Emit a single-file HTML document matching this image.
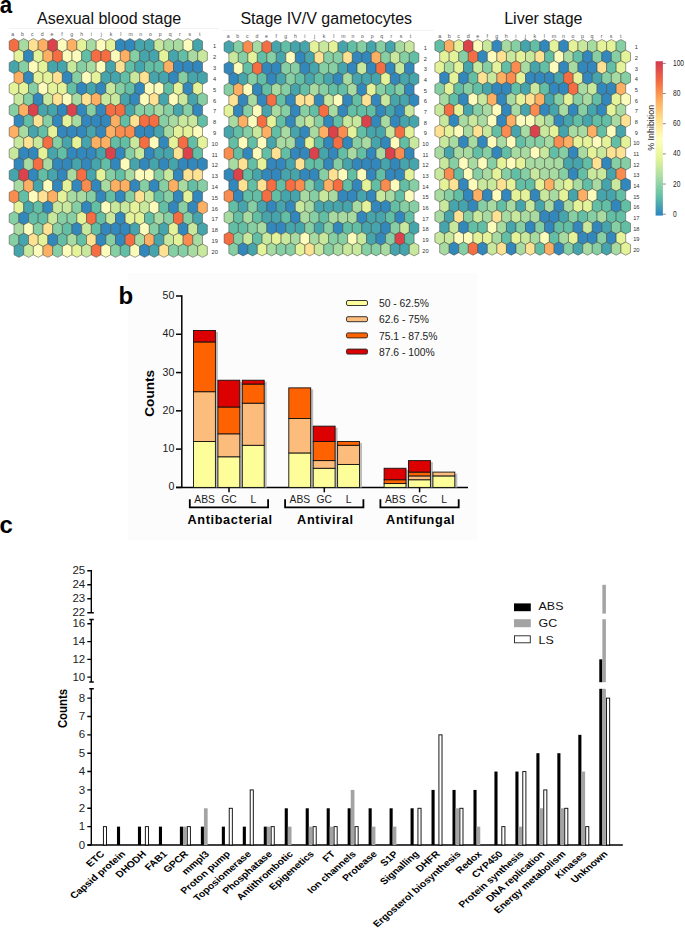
<!DOCTYPE html>
<html><head><meta charset="utf-8"><title>Figure</title>
<style>
html,body{margin:0;padding:0;background:#fff;}
body{width:685px;height:932px;overflow:hidden;}
svg{display:block;font-family:'Liberation Sans', sans-serif;}
</style></head>
<body>
<svg width="685" height="932" viewBox="0 0 685 932">
<rect width="685" height="932" fill="#fff"/>
<rect x="128.2" y="273" width="348.7" height="267" fill="#fcfcfc"/>
<line x1="9" x2="219" y1="28.5" y2="28.5" stroke="#efefef" stroke-width="0.8"/>
<line x1="222.6" x2="434" y1="30.4" y2="30.4" stroke="#efefef" stroke-width="0.8"/>
<g stroke="#45453c" stroke-width="0.65" stroke-opacity="0.8"><path d="M14.03,38.60 18.86,41.15 18.86,49.41 14.03,51.96 9.20,49.41 9.20,41.15Z" fill="#f46d43"/><path d="M23.70,38.60 28.53,41.15 28.53,49.41 23.70,51.96 18.86,49.41 18.86,41.15Z" fill="#a8dba2"/><path d="M33.36,38.60 38.19,41.15 38.19,49.41 33.36,51.96 28.53,49.41 28.53,41.15Z" fill="#fee293"/><path d="M43.03,38.60 47.86,41.15 47.86,49.41 43.03,51.96 38.19,49.41 38.19,41.15Z" fill="#fdb063"/><path d="M52.69,38.60 57.52,41.15 57.52,49.41 52.69,51.96 47.86,49.41 47.86,41.15Z" fill="#da434c"/><path d="M62.36,38.60 67.19,41.15 67.19,49.41 62.36,51.96 57.52,49.41 57.52,41.15Z" fill="#fbfbbc"/><path d="M72.02,38.60 76.85,41.15 76.85,49.41 72.02,51.96 67.19,49.41 67.19,41.15Z" fill="#fdb063"/><path d="M81.69,38.60 86.52,41.15 86.52,49.41 81.69,51.96 76.86,49.41 76.86,41.15Z" fill="#e4f39a"/><path d="M91.35,38.60 96.19,41.15 96.19,49.41 91.35,51.96 86.52,49.41 86.52,41.15Z" fill="#a8dba2"/><path d="M101.02,38.60 105.85,41.15 105.85,49.41 101.02,51.96 96.18,49.41 96.18,41.15Z" fill="#fbfbbc"/><path d="M110.68,38.60 115.51,41.15 115.51,49.41 110.68,51.96 105.85,49.41 105.85,41.15Z" fill="#e4f39a"/><path d="M120.35,38.60 125.18,41.15 125.18,49.41 120.35,51.96 115.52,49.41 115.52,41.15Z" fill="#3288bd"/><path d="M130.01,38.60 134.84,41.15 134.84,49.41 130.01,51.96 125.18,49.41 125.18,41.15Z" fill="#3288bd"/><path d="M139.68,38.60 144.51,41.15 144.51,49.41 139.68,51.96 134.84,49.41 134.84,41.15Z" fill="#46a5ac"/><path d="M149.34,38.60 154.17,41.15 154.17,49.41 149.34,51.96 144.51,49.41 144.51,41.15Z" fill="#46a5ac"/><path d="M159.01,38.60 163.84,41.15 163.84,49.41 159.01,51.96 154.17,49.41 154.17,41.15Z" fill="#c8e89d"/><path d="M168.67,38.60 173.50,41.15 173.50,49.41 168.67,51.96 163.84,49.41 163.84,41.15Z" fill="#a8dba2"/><path d="M178.34,38.60 183.17,41.15 183.17,49.41 178.34,51.96 173.50,49.41 173.50,41.15Z" fill="#a8dba2"/><path d="M188.00,38.60 192.83,41.15 192.83,49.41 188.00,51.96 183.17,49.41 183.17,41.15Z" fill="#fbfbbc"/><path d="M197.67,38.60 202.50,41.15 202.50,49.41 197.67,51.96 192.83,49.41 192.83,41.15Z" fill="#46a5ac"/><path d="M18.86,49.41 23.70,51.96 23.70,60.22 18.86,62.77 14.03,60.22 14.03,51.96Z" fill="#e4f39a"/><path d="M28.53,49.41 33.36,51.96 33.36,60.22 28.53,62.77 23.70,60.22 23.70,51.96Z" fill="#3288bd"/><path d="M38.19,49.41 43.03,51.96 43.03,60.22 38.19,62.77 33.36,60.22 33.36,51.96Z" fill="#e4f39a"/><path d="M47.86,49.41 52.69,51.96 52.69,60.22 47.86,62.77 43.03,60.22 43.03,51.96Z" fill="#fdb063"/><path d="M57.52,49.41 62.36,51.96 62.36,60.22 57.52,62.77 52.69,60.22 52.69,51.96Z" fill="#f46d43"/><path d="M67.19,49.41 72.02,51.96 72.02,60.22 67.19,62.77 62.36,60.22 62.36,51.96Z" fill="#fbfbbc"/><path d="M76.85,49.41 81.69,51.96 81.69,60.22 76.85,62.77 72.02,60.22 72.02,51.96Z" fill="#fbfbbc"/><path d="M86.52,49.41 91.35,51.96 91.35,60.22 86.52,62.77 81.69,60.22 81.69,51.96Z" fill="#62bea5"/><path d="M96.18,49.41 101.02,51.96 101.02,60.22 96.18,62.77 91.35,60.22 91.35,51.96Z" fill="#f46d43"/><path d="M105.85,49.41 110.68,51.96 110.68,60.22 105.85,62.77 101.02,60.22 101.02,51.96Z" fill="#f46d43"/><path d="M115.51,49.41 120.35,51.96 120.35,60.22 115.51,62.77 110.68,60.22 110.68,51.96Z" fill="#fbfbbc"/><path d="M125.18,49.41 130.01,51.96 130.01,60.22 125.18,62.77 120.35,60.22 120.35,51.96Z" fill="#fdb063"/><path d="M134.84,49.41 139.68,51.96 139.68,60.22 134.84,62.77 130.01,60.22 130.01,51.96Z" fill="#86cfa4"/><path d="M144.51,49.41 149.34,51.96 149.34,60.22 144.51,62.77 139.68,60.22 139.68,51.96Z" fill="#46a5ac"/><path d="M154.18,49.41 159.01,51.96 159.01,60.22 154.18,62.77 149.34,60.22 149.34,51.96Z" fill="#46a5ac"/><path d="M163.84,49.41 168.67,51.96 168.67,60.22 163.84,62.77 159.01,60.22 159.01,51.96Z" fill="#e4f39a"/><path d="M173.50,49.41 178.34,51.96 178.34,60.22 173.50,62.77 168.67,60.22 168.67,51.96Z" fill="#46a5ac"/><path d="M183.17,49.41 188.00,51.96 188.00,60.22 183.17,62.77 178.34,60.22 178.34,51.96Z" fill="#62bea5"/><path d="M192.83,49.41 197.67,51.96 197.67,60.22 192.83,62.77 188.00,60.22 188.00,51.96Z" fill="#a8dba2"/><path d="M202.50,49.41 207.33,51.96 207.33,60.22 202.50,62.77 197.67,60.22 197.67,51.96Z" fill="#c8e89d"/><path d="M14.03,60.22 18.86,62.77 18.86,71.03 14.03,73.58 9.20,71.03 9.20,62.77Z" fill="#46a5ac"/><path d="M23.70,60.22 28.53,62.77 28.53,71.03 23.70,73.58 18.86,71.03 18.86,62.77Z" fill="#86cfa4"/><path d="M33.36,60.22 38.19,62.77 38.19,71.03 33.36,73.58 28.53,71.03 28.53,62.77Z" fill="#fbfbbc"/><path d="M43.03,60.22 47.86,62.77 47.86,71.03 43.03,73.58 38.19,71.03 38.19,62.77Z" fill="#e4f39a"/><path d="M52.69,60.22 57.52,62.77 57.52,71.03 52.69,73.58 47.86,71.03 47.86,62.77Z" fill="#46a5ac"/><path d="M62.36,60.22 67.19,62.77 67.19,71.03 62.36,73.58 57.52,71.03 57.52,62.77Z" fill="#46a5ac"/><path d="M72.02,60.22 76.85,62.77 76.85,71.03 72.02,73.58 67.19,71.03 67.19,62.77Z" fill="#c8e89d"/><path d="M81.69,60.22 86.52,62.77 86.52,71.03 81.69,73.58 76.86,71.03 76.86,62.77Z" fill="#86cfa4"/><path d="M91.35,60.22 96.19,62.77 96.19,71.03 91.35,73.58 86.52,71.03 86.52,62.77Z" fill="#a8dba2"/><path d="M101.02,60.22 105.85,62.77 105.85,71.03 101.02,73.58 96.18,71.03 96.18,62.77Z" fill="#fbfbbc"/><path d="M110.68,60.22 115.51,62.77 115.51,71.03 110.68,73.58 105.85,71.03 105.85,62.77Z" fill="#46a5ac"/><path d="M120.35,60.22 125.18,62.77 125.18,71.03 120.35,73.58 115.52,71.03 115.52,62.77Z" fill="#fee293"/><path d="M130.01,60.22 134.84,62.77 134.84,71.03 130.01,73.58 125.18,71.03 125.18,62.77Z" fill="#62bea5"/><path d="M139.68,60.22 144.51,62.77 144.51,71.03 139.68,73.58 134.84,71.03 134.84,62.77Z" fill="#46a5ac"/><path d="M149.34,60.22 154.17,62.77 154.17,71.03 149.34,73.58 144.51,71.03 144.51,62.77Z" fill="#62bea5"/><path d="M159.01,60.22 163.84,62.77 163.84,71.03 159.01,73.58 154.17,71.03 154.17,62.77Z" fill="#62bea5"/><path d="M168.67,60.22 173.50,62.77 173.50,71.03 168.67,73.58 163.84,71.03 163.84,62.77Z" fill="#fdb063"/><path d="M178.34,60.22 183.17,62.77 183.17,71.03 178.34,73.58 173.50,71.03 173.50,62.77Z" fill="#3288bd"/><path d="M188.00,60.22 192.83,62.77 192.83,71.03 188.00,73.58 183.17,71.03 183.17,62.77Z" fill="#3288bd"/><path d="M197.67,60.22 202.50,62.77 202.50,71.03 197.67,73.58 192.83,71.03 192.83,62.77Z" fill="#3288bd"/><path d="M18.86,71.03 23.70,73.58 23.70,81.84 18.86,84.39 14.03,81.84 14.03,73.58Z" fill="#fdb063"/><path d="M28.53,71.03 33.36,73.58 33.36,81.84 28.53,84.39 23.70,81.84 23.70,73.58Z" fill="#3288bd"/><path d="M38.19,71.03 43.03,73.58 43.03,81.84 38.19,84.39 33.36,81.84 33.36,73.58Z" fill="#e4f39a"/><path d="M47.86,71.03 52.69,73.58 52.69,81.84 47.86,84.39 43.03,81.84 43.03,73.58Z" fill="#e4f39a"/><path d="M57.52,71.03 62.36,73.58 62.36,81.84 57.52,84.39 52.69,81.84 52.69,73.58Z" fill="#fee293"/><path d="M67.19,71.03 72.02,73.58 72.02,81.84 67.19,84.39 62.36,81.84 62.36,73.58Z" fill="#3288bd"/><path d="M76.85,71.03 81.69,73.58 81.69,81.84 76.85,84.39 72.02,81.84 72.02,73.58Z" fill="#86cfa4"/><path d="M86.52,71.03 91.35,73.58 91.35,81.84 86.52,84.39 81.69,81.84 81.69,73.58Z" fill="#fbfbbc"/><path d="M96.18,71.03 101.02,73.58 101.02,81.84 96.18,84.39 91.35,81.84 91.35,73.58Z" fill="#e4f39a"/><path d="M105.85,71.03 110.68,73.58 110.68,81.84 105.85,84.39 101.02,81.84 101.02,73.58Z" fill="#46a5ac"/><path d="M115.51,71.03 120.35,73.58 120.35,81.84 115.51,84.39 110.68,81.84 110.68,73.58Z" fill="#46a5ac"/><path d="M125.18,71.03 130.01,73.58 130.01,81.84 125.18,84.39 120.35,81.84 120.35,73.58Z" fill="#62bea5"/><path d="M134.84,71.03 139.68,73.58 139.68,81.84 134.84,84.39 130.01,81.84 130.01,73.58Z" fill="#c8e89d"/><path d="M144.51,71.03 149.34,73.58 149.34,81.84 144.51,84.39 139.68,81.84 139.68,73.58Z" fill="#fee293"/><path d="M154.18,71.03 159.01,73.58 159.01,81.84 154.18,84.39 149.34,81.84 149.34,73.58Z" fill="#46a5ac"/><path d="M163.84,71.03 168.67,73.58 168.67,81.84 163.84,84.39 159.01,81.84 159.01,73.58Z" fill="#46a5ac"/><path d="M173.50,71.03 178.34,73.58 178.34,81.84 173.50,84.39 168.67,81.84 168.67,73.58Z" fill="#3288bd"/><path d="M183.17,71.03 188.00,73.58 188.00,81.84 183.17,84.39 178.34,81.84 178.34,73.58Z" fill="#86cfa4"/><path d="M192.83,71.03 197.67,73.58 197.67,81.84 192.83,84.39 188.00,81.84 188.00,73.58Z" fill="#46a5ac"/><path d="M202.50,71.03 207.33,73.58 207.33,81.84 202.50,84.39 197.67,81.84 197.67,73.58Z" fill="#46a5ac"/><path d="M14.03,81.84 18.86,84.39 18.86,92.65 14.03,95.20 9.20,92.65 9.20,84.39Z" fill="#e4f39a"/><path d="M23.70,81.84 28.53,84.39 28.53,92.65 23.70,95.20 18.86,92.65 18.86,84.39Z" fill="#e4f39a"/><path d="M33.36,81.84 38.19,84.39 38.19,92.65 33.36,95.20 28.53,92.65 28.53,84.39Z" fill="#86cfa4"/><path d="M43.03,81.84 47.86,84.39 47.86,92.65 43.03,95.20 38.19,92.65 38.19,84.39Z" fill="#fbfbbc"/><path d="M52.69,81.84 57.52,84.39 57.52,92.65 52.69,95.20 47.86,92.65 47.86,84.39Z" fill="#e4f39a"/><path d="M62.36,81.84 67.19,84.39 67.19,92.65 62.36,95.20 57.52,92.65 57.52,84.39Z" fill="#e4f39a"/><path d="M72.02,81.84 76.85,84.39 76.85,92.65 72.02,95.20 67.19,92.65 67.19,84.39Z" fill="#62bea5"/><path d="M81.69,81.84 86.52,84.39 86.52,92.65 81.69,95.20 76.86,92.65 76.86,84.39Z" fill="#3288bd"/><path d="M91.35,81.84 96.19,84.39 96.19,92.65 91.35,95.20 86.52,92.65 86.52,84.39Z" fill="#46a5ac"/><path d="M101.02,81.84 105.85,84.39 105.85,92.65 101.02,95.20 96.18,92.65 96.18,84.39Z" fill="#3288bd"/><path d="M110.68,81.84 115.51,84.39 115.51,92.65 110.68,95.20 105.85,92.65 105.85,84.39Z" fill="#c8e89d"/><path d="M120.35,81.84 125.18,84.39 125.18,92.65 120.35,95.20 115.52,92.65 115.52,84.39Z" fill="#86cfa4"/><path d="M130.01,81.84 134.84,84.39 134.84,92.65 130.01,95.20 125.18,92.65 125.18,84.39Z" fill="#62bea5"/><path d="M139.68,81.84 144.51,84.39 144.51,92.65 139.68,95.20 134.84,92.65 134.84,84.39Z" fill="#3288bd"/><path d="M149.34,81.84 154.17,84.39 154.17,92.65 149.34,95.20 144.51,92.65 144.51,84.39Z" fill="#fbfbbc"/><path d="M159.01,81.84 163.84,84.39 163.84,92.65 159.01,95.20 154.17,92.65 154.17,84.39Z" fill="#fbfbbc"/><path d="M168.67,81.84 173.50,84.39 173.50,92.65 168.67,95.20 163.84,92.65 163.84,84.39Z" fill="#62bea5"/><path d="M178.34,81.84 183.17,84.39 183.17,92.65 178.34,95.20 173.50,92.65 173.50,84.39Z" fill="#e4f39a"/><path d="M188.00,81.84 192.83,84.39 192.83,92.65 188.00,95.20 183.17,92.65 183.17,84.39Z" fill="#3288bd"/><path d="M197.67,81.84 202.50,84.39 202.50,92.65 197.67,95.20 192.83,92.65 192.83,84.39Z" fill="#e4f39a"/><path d="M18.86,92.65 23.70,95.20 23.70,103.46 18.86,106.01 14.03,103.46 14.03,95.20Z" fill="#c8e89d"/><path d="M28.53,92.65 33.36,95.20 33.36,103.46 28.53,106.01 23.70,103.46 23.70,95.20Z" fill="#86cfa4"/><path d="M38.19,92.65 43.03,95.20 43.03,103.46 38.19,106.01 33.36,103.46 33.36,95.20Z" fill="#3288bd"/><path d="M47.86,92.65 52.69,95.20 52.69,103.46 47.86,106.01 43.03,103.46 43.03,95.20Z" fill="#c8e89d"/><path d="M57.52,92.65 62.36,95.20 62.36,103.46 57.52,106.01 52.69,103.46 52.69,95.20Z" fill="#fee293"/><path d="M67.19,92.65 72.02,95.20 72.02,103.46 67.19,106.01 62.36,103.46 62.36,95.20Z" fill="#fbfbbc"/><path d="M76.85,92.65 81.69,95.20 81.69,103.46 76.85,106.01 72.02,103.46 72.02,95.20Z" fill="#a8dba2"/><path d="M86.52,92.65 91.35,95.20 91.35,103.46 86.52,106.01 81.69,103.46 81.69,95.20Z" fill="#fee293"/><path d="M96.18,92.65 101.02,95.20 101.02,103.46 96.18,106.01 91.35,103.46 91.35,95.20Z" fill="#fdb063"/><path d="M105.85,92.65 110.68,95.20 110.68,103.46 105.85,106.01 101.02,103.46 101.02,95.20Z" fill="#c8e89d"/><path d="M115.51,92.65 120.35,95.20 120.35,103.46 115.51,106.01 110.68,103.46 110.68,95.20Z" fill="#c8e89d"/><path d="M125.18,92.65 130.01,95.20 130.01,103.46 125.18,106.01 120.35,103.46 120.35,95.20Z" fill="#46a5ac"/><path d="M134.84,92.65 139.68,95.20 139.68,103.46 134.84,106.01 130.01,103.46 130.01,95.20Z" fill="#3288bd"/><path d="M144.51,92.65 149.34,95.20 149.34,103.46 144.51,106.01 139.68,103.46 139.68,95.20Z" fill="#fbfbbc"/><path d="M154.18,92.65 159.01,95.20 159.01,103.46 154.18,106.01 149.34,103.46 149.34,95.20Z" fill="#fee293"/><path d="M163.84,92.65 168.67,95.20 168.67,103.46 163.84,106.01 159.01,103.46 159.01,95.20Z" fill="#46a5ac"/><path d="M173.50,92.65 178.34,95.20 178.34,103.46 173.50,106.01 168.67,103.46 168.67,95.20Z" fill="#fbfbbc"/><path d="M183.17,92.65 188.00,95.20 188.00,103.46 183.17,106.01 178.34,103.46 178.34,95.20Z" fill="#c8e89d"/><path d="M192.83,92.65 197.67,95.20 197.67,103.46 192.83,106.01 188.00,103.46 188.00,95.20Z" fill="#46a5ac"/><path d="M202.50,92.65 207.33,95.20 207.33,103.46 202.50,106.01 197.67,103.46 197.67,95.20Z" fill="#86cfa4"/><path d="M14.03,103.46 18.86,106.01 18.86,114.27 14.03,116.82 9.20,114.27 9.20,106.01Z" fill="#86cfa4"/><path d="M23.70,103.46 28.53,106.01 28.53,114.27 23.70,116.82 18.86,114.27 18.86,106.01Z" fill="#fdb063"/><path d="M33.36,103.46 38.19,106.01 38.19,114.27 33.36,116.82 28.53,114.27 28.53,106.01Z" fill="#da434c"/><path d="M43.03,103.46 47.86,106.01 47.86,114.27 43.03,116.82 38.19,114.27 38.19,106.01Z" fill="#46a5ac"/><path d="M52.69,103.46 57.52,106.01 57.52,114.27 52.69,116.82 47.86,114.27 47.86,106.01Z" fill="#46a5ac"/><path d="M62.36,103.46 67.19,106.01 67.19,114.27 62.36,116.82 57.52,114.27 57.52,106.01Z" fill="#3288bd"/><path d="M72.02,103.46 76.85,106.01 76.85,114.27 72.02,116.82 67.19,114.27 67.19,106.01Z" fill="#da434c"/><path d="M81.69,103.46 86.52,106.01 86.52,114.27 81.69,116.82 76.86,114.27 76.86,106.01Z" fill="#3288bd"/><path d="M91.35,103.46 96.19,106.01 96.19,114.27 91.35,116.82 86.52,114.27 86.52,106.01Z" fill="#86cfa4"/><path d="M101.02,103.46 105.85,106.01 105.85,114.27 101.02,116.82 96.18,114.27 96.18,106.01Z" fill="#3288bd"/><path d="M110.68,103.46 115.51,106.01 115.51,114.27 110.68,116.82 105.85,114.27 105.85,106.01Z" fill="#f46d43"/><path d="M120.35,103.46 125.18,106.01 125.18,114.27 120.35,116.82 115.52,114.27 115.52,106.01Z" fill="#f46d43"/><path d="M130.01,103.46 134.84,106.01 134.84,114.27 130.01,116.82 125.18,114.27 125.18,106.01Z" fill="#46a5ac"/><path d="M139.68,103.46 144.51,106.01 144.51,114.27 139.68,116.82 134.84,114.27 134.84,106.01Z" fill="#86cfa4"/><path d="M149.34,103.46 154.17,106.01 154.17,114.27 149.34,116.82 144.51,114.27 144.51,106.01Z" fill="#86cfa4"/><path d="M159.01,103.46 163.84,106.01 163.84,114.27 159.01,116.82 154.17,114.27 154.17,106.01Z" fill="#a8dba2"/><path d="M168.67,103.46 173.50,106.01 173.50,114.27 168.67,116.82 163.84,114.27 163.84,106.01Z" fill="#86cfa4"/><path d="M178.34,103.46 183.17,106.01 183.17,114.27 178.34,116.82 173.50,114.27 173.50,106.01Z" fill="#46a5ac"/><path d="M188.00,103.46 192.83,106.01 192.83,114.27 188.00,116.82 183.17,114.27 183.17,106.01Z" fill="#86cfa4"/><path d="M197.67,103.46 202.50,106.01 202.50,114.27 197.67,116.82 192.83,114.27 192.83,106.01Z" fill="#3288bd"/><path d="M18.86,114.27 23.70,116.82 23.70,125.08 18.86,127.63 14.03,125.08 14.03,116.82Z" fill="#3288bd"/><path d="M28.53,114.27 33.36,116.82 33.36,125.08 28.53,127.63 23.70,125.08 23.70,116.82Z" fill="#62bea5"/><path d="M38.19,114.27 43.03,116.82 43.03,125.08 38.19,127.63 33.36,125.08 33.36,116.82Z" fill="#fee293"/><path d="M47.86,114.27 52.69,116.82 52.69,125.08 47.86,127.63 43.03,125.08 43.03,116.82Z" fill="#86cfa4"/><path d="M57.52,114.27 62.36,116.82 62.36,125.08 57.52,127.63 52.69,125.08 52.69,116.82Z" fill="#3288bd"/><path d="M67.19,114.27 72.02,116.82 72.02,125.08 67.19,127.63 62.36,125.08 62.36,116.82Z" fill="#e4f39a"/><path d="M76.85,114.27 81.69,116.82 81.69,125.08 76.85,127.63 72.02,125.08 72.02,116.82Z" fill="#a8dba2"/><path d="M86.52,114.27 91.35,116.82 91.35,125.08 86.52,127.63 81.69,125.08 81.69,116.82Z" fill="#3288bd"/><path d="M96.18,114.27 101.02,116.82 101.02,125.08 96.18,127.63 91.35,125.08 91.35,116.82Z" fill="#3288bd"/><path d="M105.85,114.27 110.68,116.82 110.68,125.08 105.85,127.63 101.02,125.08 101.02,116.82Z" fill="#3288bd"/><path d="M115.51,114.27 120.35,116.82 120.35,125.08 115.51,127.63 110.68,125.08 110.68,116.82Z" fill="#fdb063"/><path d="M125.18,114.27 130.01,116.82 130.01,125.08 125.18,127.63 120.35,125.08 120.35,116.82Z" fill="#62bea5"/><path d="M134.84,114.27 139.68,116.82 139.68,125.08 134.84,127.63 130.01,125.08 130.01,116.82Z" fill="#fee293"/><path d="M144.51,114.27 149.34,116.82 149.34,125.08 144.51,127.63 139.68,125.08 139.68,116.82Z" fill="#f46d43"/><path d="M154.18,114.27 159.01,116.82 159.01,125.08 154.18,127.63 149.34,125.08 149.34,116.82Z" fill="#f46d43"/><path d="M163.84,114.27 168.67,116.82 168.67,125.08 163.84,127.63 159.01,125.08 159.01,116.82Z" fill="#86cfa4"/><path d="M173.50,114.27 178.34,116.82 178.34,125.08 173.50,127.63 168.67,125.08 168.67,116.82Z" fill="#a8dba2"/><path d="M183.17,114.27 188.00,116.82 188.00,125.08 183.17,127.63 178.34,125.08 178.34,116.82Z" fill="#c8e89d"/><path d="M192.83,114.27 197.67,116.82 197.67,125.08 192.83,127.63 188.00,125.08 188.00,116.82Z" fill="#c8e89d"/><path d="M202.50,114.27 207.33,116.82 207.33,125.08 202.50,127.63 197.67,125.08 197.67,116.82Z" fill="#62bea5"/><path d="M14.03,125.08 18.86,127.63 18.86,135.89 14.03,138.44 9.20,135.89 9.20,127.63Z" fill="#fdb063"/><path d="M23.70,125.08 28.53,127.63 28.53,135.89 23.70,138.44 18.86,135.89 18.86,127.63Z" fill="#a8dba2"/><path d="M33.36,125.08 38.19,127.63 38.19,135.89 33.36,138.44 28.53,135.89 28.53,127.63Z" fill="#46a5ac"/><path d="M43.03,125.08 47.86,127.63 47.86,135.89 43.03,138.44 38.19,135.89 38.19,127.63Z" fill="#62bea5"/><path d="M52.69,125.08 57.52,127.63 57.52,135.89 52.69,138.44 47.86,135.89 47.86,127.63Z" fill="#e4f39a"/><path d="M62.36,125.08 67.19,127.63 67.19,135.89 62.36,138.44 57.52,135.89 57.52,127.63Z" fill="#3288bd"/><path d="M72.02,125.08 76.85,127.63 76.85,135.89 72.02,138.44 67.19,135.89 67.19,127.63Z" fill="#3288bd"/><path d="M81.69,125.08 86.52,127.63 86.52,135.89 81.69,138.44 76.86,135.89 76.86,127.63Z" fill="#3288bd"/><path d="M91.35,125.08 96.19,127.63 96.19,135.89 91.35,138.44 86.52,135.89 86.52,127.63Z" fill="#46a5ac"/><path d="M101.02,125.08 105.85,127.63 105.85,135.89 101.02,138.44 96.18,135.89 96.18,127.63Z" fill="#3288bd"/><path d="M110.68,125.08 115.51,127.63 115.51,135.89 110.68,138.44 105.85,135.89 105.85,127.63Z" fill="#fdb063"/><path d="M120.35,125.08 125.18,127.63 125.18,135.89 120.35,138.44 115.52,135.89 115.52,127.63Z" fill="#f98c4e"/><path d="M130.01,125.08 134.84,127.63 134.84,135.89 130.01,138.44 125.18,135.89 125.18,127.63Z" fill="#f98c4e"/><path d="M139.68,125.08 144.51,127.63 144.51,135.89 139.68,138.44 134.84,135.89 134.84,127.63Z" fill="#3288bd"/><path d="M149.34,125.08 154.17,127.63 154.17,135.89 149.34,138.44 144.51,135.89 144.51,127.63Z" fill="#3288bd"/><path d="M159.01,125.08 163.84,127.63 163.84,135.89 159.01,138.44 154.17,135.89 154.17,127.63Z" fill="#46a5ac"/><path d="M168.67,125.08 173.50,127.63 173.50,135.89 168.67,138.44 163.84,135.89 163.84,127.63Z" fill="#a8dba2"/><path d="M178.34,125.08 183.17,127.63 183.17,135.89 178.34,138.44 173.50,135.89 173.50,127.63Z" fill="#e4f39a"/><path d="M188.00,125.08 192.83,127.63 192.83,135.89 188.00,138.44 183.17,135.89 183.17,127.63Z" fill="#e4f39a"/><path d="M197.67,125.08 202.50,127.63 202.50,135.89 197.67,138.44 192.83,135.89 192.83,127.63Z" fill="#fbfbbc"/><path d="M18.86,135.89 23.70,138.44 23.70,146.70 18.86,149.25 14.03,146.70 14.03,138.44Z" fill="#c8e89d"/><path d="M28.53,135.89 33.36,138.44 33.36,146.70 28.53,149.25 23.70,146.70 23.70,138.44Z" fill="#fee293"/><path d="M38.19,135.89 43.03,138.44 43.03,146.70 38.19,149.25 33.36,146.70 33.36,138.44Z" fill="#c8e89d"/><path d="M47.86,135.89 52.69,138.44 52.69,146.70 47.86,149.25 43.03,146.70 43.03,138.44Z" fill="#f46d43"/><path d="M57.52,135.89 62.36,138.44 62.36,146.70 57.52,149.25 52.69,146.70 52.69,138.44Z" fill="#86cfa4"/><path d="M67.19,135.89 72.02,138.44 72.02,146.70 67.19,149.25 62.36,146.70 62.36,138.44Z" fill="#46a5ac"/><path d="M76.85,135.89 81.69,138.44 81.69,146.70 76.85,149.25 72.02,146.70 72.02,138.44Z" fill="#e4f39a"/><path d="M86.52,135.89 91.35,138.44 91.35,146.70 86.52,149.25 81.69,146.70 81.69,138.44Z" fill="#46a5ac"/><path d="M96.18,135.89 101.02,138.44 101.02,146.70 96.18,149.25 91.35,146.70 91.35,138.44Z" fill="#fdb063"/><path d="M105.85,135.89 110.68,138.44 110.68,146.70 105.85,149.25 101.02,146.70 101.02,138.44Z" fill="#fdb063"/><path d="M115.51,135.89 120.35,138.44 120.35,146.70 115.51,149.25 110.68,146.70 110.68,138.44Z" fill="#62bea5"/><path d="M125.18,135.89 130.01,138.44 130.01,146.70 125.18,149.25 120.35,146.70 120.35,138.44Z" fill="#62bea5"/><path d="M134.84,135.89 139.68,138.44 139.68,146.70 134.84,149.25 130.01,146.70 130.01,138.44Z" fill="#c8e89d"/><path d="M144.51,135.89 149.34,138.44 149.34,146.70 144.51,149.25 139.68,146.70 139.68,138.44Z" fill="#f46d43"/><path d="M154.18,135.89 159.01,138.44 159.01,146.70 154.18,149.25 149.34,146.70 149.34,138.44Z" fill="#fbfbbc"/><path d="M163.84,135.89 168.67,138.44 168.67,146.70 163.84,149.25 159.01,146.70 159.01,138.44Z" fill="#3288bd"/><path d="M173.50,135.89 178.34,138.44 178.34,146.70 173.50,149.25 168.67,146.70 168.67,138.44Z" fill="#e4f39a"/><path d="M183.17,135.89 188.00,138.44 188.00,146.70 183.17,149.25 178.34,146.70 178.34,138.44Z" fill="#f46d43"/><path d="M192.83,135.89 197.67,138.44 197.67,146.70 192.83,149.25 188.00,146.70 188.00,138.44Z" fill="#62bea5"/><path d="M202.50,135.89 207.33,138.44 207.33,146.70 202.50,149.25 197.67,146.70 197.67,138.44Z" fill="#e4f39a"/><path d="M14.03,146.70 18.86,149.25 18.86,157.51 14.03,160.06 9.20,157.51 9.20,149.25Z" fill="#c8e89d"/><path d="M23.70,146.70 28.53,149.25 28.53,157.51 23.70,160.06 18.86,157.51 18.86,149.25Z" fill="#3288bd"/><path d="M33.36,146.70 38.19,149.25 38.19,157.51 33.36,160.06 28.53,157.51 28.53,149.25Z" fill="#3288bd"/><path d="M43.03,146.70 47.86,149.25 47.86,157.51 43.03,160.06 38.19,157.51 38.19,149.25Z" fill="#e4f39a"/><path d="M52.69,146.70 57.52,149.25 57.52,157.51 52.69,160.06 47.86,157.51 47.86,149.25Z" fill="#46a5ac"/><path d="M62.36,146.70 67.19,149.25 67.19,157.51 62.36,160.06 57.52,157.51 57.52,149.25Z" fill="#62bea5"/><path d="M72.02,146.70 76.85,149.25 76.85,157.51 72.02,160.06 67.19,157.51 67.19,149.25Z" fill="#3288bd"/><path d="M81.69,146.70 86.52,149.25 86.52,157.51 81.69,160.06 76.86,157.51 76.86,149.25Z" fill="#3288bd"/><path d="M91.35,146.70 96.19,149.25 96.19,157.51 91.35,160.06 86.52,157.51 86.52,149.25Z" fill="#3288bd"/><path d="M101.02,146.70 105.85,149.25 105.85,157.51 101.02,160.06 96.18,157.51 96.18,149.25Z" fill="#46a5ac"/><path d="M110.68,146.70 115.51,149.25 115.51,157.51 110.68,160.06 105.85,157.51 105.85,149.25Z" fill="#da434c"/><path d="M120.35,146.70 125.18,149.25 125.18,157.51 120.35,160.06 115.52,157.51 115.52,149.25Z" fill="#3288bd"/><path d="M130.01,146.70 134.84,149.25 134.84,157.51 130.01,160.06 125.18,157.51 125.18,149.25Z" fill="#86cfa4"/><path d="M139.68,146.70 144.51,149.25 144.51,157.51 139.68,160.06 134.84,157.51 134.84,149.25Z" fill="#c8e89d"/><path d="M149.34,146.70 154.17,149.25 154.17,157.51 149.34,160.06 144.51,157.51 144.51,149.25Z" fill="#3288bd"/><path d="M159.01,146.70 163.84,149.25 163.84,157.51 159.01,160.06 154.17,157.51 154.17,149.25Z" fill="#46a5ac"/><path d="M168.67,146.70 173.50,149.25 173.50,157.51 168.67,160.06 163.84,157.51 163.84,149.25Z" fill="#46a5ac"/><path d="M178.34,146.70 183.17,149.25 183.17,157.51 178.34,160.06 173.50,157.51 173.50,149.25Z" fill="#fee293"/><path d="M188.00,146.70 192.83,149.25 192.83,157.51 188.00,160.06 183.17,157.51 183.17,149.25Z" fill="#da434c"/><path d="M197.67,146.70 202.50,149.25 202.50,157.51 197.67,160.06 192.83,157.51 192.83,149.25Z" fill="#62bea5"/><path d="M18.86,157.51 23.70,160.06 23.70,168.32 18.86,170.87 14.03,168.32 14.03,160.06Z" fill="#3288bd"/><path d="M28.53,157.51 33.36,160.06 33.36,168.32 28.53,170.87 23.70,168.32 23.70,160.06Z" fill="#a8dba2"/><path d="M38.19,157.51 43.03,160.06 43.03,168.32 38.19,170.87 33.36,168.32 33.36,160.06Z" fill="#f46d43"/><path d="M47.86,157.51 52.69,160.06 52.69,168.32 47.86,170.87 43.03,168.32 43.03,160.06Z" fill="#a8dba2"/><path d="M57.52,157.51 62.36,160.06 62.36,168.32 57.52,170.87 52.69,168.32 52.69,160.06Z" fill="#3288bd"/><path d="M67.19,157.51 72.02,160.06 72.02,168.32 67.19,170.87 62.36,168.32 62.36,160.06Z" fill="#3288bd"/><path d="M76.85,157.51 81.69,160.06 81.69,168.32 76.85,170.87 72.02,168.32 72.02,160.06Z" fill="#46a5ac"/><path d="M86.52,157.51 91.35,160.06 91.35,168.32 86.52,170.87 81.69,168.32 81.69,160.06Z" fill="#3288bd"/><path d="M96.18,157.51 101.02,160.06 101.02,168.32 96.18,170.87 91.35,168.32 91.35,160.06Z" fill="#46a5ac"/><path d="M105.85,157.51 110.68,160.06 110.68,168.32 105.85,170.87 101.02,168.32 101.02,160.06Z" fill="#62bea5"/><path d="M115.51,157.51 120.35,160.06 120.35,168.32 115.51,170.87 110.68,168.32 110.68,160.06Z" fill="#3288bd"/><path d="M125.18,157.51 130.01,160.06 130.01,168.32 125.18,170.87 120.35,168.32 120.35,160.06Z" fill="#fbfbbc"/><path d="M134.84,157.51 139.68,160.06 139.68,168.32 134.84,170.87 130.01,168.32 130.01,160.06Z" fill="#46a5ac"/><path d="M144.51,157.51 149.34,160.06 149.34,168.32 144.51,170.87 139.68,168.32 139.68,160.06Z" fill="#3288bd"/><path d="M154.18,157.51 159.01,160.06 159.01,168.32 154.18,170.87 149.34,168.32 149.34,160.06Z" fill="#46a5ac"/><path d="M163.84,157.51 168.67,160.06 168.67,168.32 163.84,170.87 159.01,168.32 159.01,160.06Z" fill="#3288bd"/><path d="M173.50,157.51 178.34,160.06 178.34,168.32 173.50,170.87 168.67,168.32 168.67,160.06Z" fill="#46a5ac"/><path d="M183.17,157.51 188.00,160.06 188.00,168.32 183.17,170.87 178.34,168.32 178.34,160.06Z" fill="#3288bd"/><path d="M192.83,157.51 197.67,160.06 197.67,168.32 192.83,170.87 188.00,168.32 188.00,160.06Z" fill="#3288bd"/><path d="M202.50,157.51 207.33,160.06 207.33,168.32 202.50,170.87 197.67,168.32 197.67,160.06Z" fill="#3288bd"/><path d="M14.03,168.32 18.86,170.87 18.86,179.13 14.03,181.68 9.20,179.13 9.20,170.87Z" fill="#46a5ac"/><path d="M23.70,168.32 28.53,170.87 28.53,179.13 23.70,181.68 18.86,179.13 18.86,170.87Z" fill="#da434c"/><path d="M33.36,168.32 38.19,170.87 38.19,179.13 33.36,181.68 28.53,179.13 28.53,170.87Z" fill="#3288bd"/><path d="M43.03,168.32 47.86,170.87 47.86,179.13 43.03,181.68 38.19,179.13 38.19,170.87Z" fill="#62bea5"/><path d="M52.69,168.32 57.52,170.87 57.52,179.13 52.69,181.68 47.86,179.13 47.86,170.87Z" fill="#46a5ac"/><path d="M62.36,168.32 67.19,170.87 67.19,179.13 62.36,181.68 57.52,179.13 57.52,170.87Z" fill="#3288bd"/><path d="M72.02,168.32 76.85,170.87 76.85,179.13 72.02,181.68 67.19,179.13 67.19,170.87Z" fill="#a8dba2"/><path d="M81.69,168.32 86.52,170.87 86.52,179.13 81.69,181.68 76.86,179.13 76.86,170.87Z" fill="#f46d43"/><path d="M91.35,168.32 96.19,170.87 96.19,179.13 91.35,181.68 86.52,179.13 86.52,170.87Z" fill="#46a5ac"/><path d="M101.02,168.32 105.85,170.87 105.85,179.13 101.02,181.68 96.18,179.13 96.18,170.87Z" fill="#e4f39a"/><path d="M110.68,168.32 115.51,170.87 115.51,179.13 110.68,181.68 105.85,179.13 105.85,170.87Z" fill="#86cfa4"/><path d="M120.35,168.32 125.18,170.87 125.18,179.13 120.35,181.68 115.52,179.13 115.52,170.87Z" fill="#62bea5"/><path d="M130.01,168.32 134.84,170.87 134.84,179.13 130.01,181.68 125.18,179.13 125.18,170.87Z" fill="#a8dba2"/><path d="M139.68,168.32 144.51,170.87 144.51,179.13 139.68,181.68 134.84,179.13 134.84,170.87Z" fill="#fbfbbc"/><path d="M149.34,168.32 154.17,170.87 154.17,179.13 149.34,181.68 144.51,179.13 144.51,170.87Z" fill="#fbfbbc"/><path d="M159.01,168.32 163.84,170.87 163.84,179.13 159.01,181.68 154.17,179.13 154.17,170.87Z" fill="#86cfa4"/><path d="M168.67,168.32 173.50,170.87 173.50,179.13 168.67,181.68 163.84,179.13 163.84,170.87Z" fill="#c8e89d"/><path d="M178.34,168.32 183.17,170.87 183.17,179.13 178.34,181.68 173.50,179.13 173.50,170.87Z" fill="#3288bd"/><path d="M188.00,168.32 192.83,170.87 192.83,179.13 188.00,181.68 183.17,179.13 183.17,170.87Z" fill="#fee293"/><path d="M197.67,168.32 202.50,170.87 202.50,179.13 197.67,181.68 192.83,179.13 192.83,170.87Z" fill="#fee293"/><path d="M18.86,179.13 23.70,181.68 23.70,189.94 18.86,192.49 14.03,189.94 14.03,181.68Z" fill="#a8dba2"/><path d="M28.53,179.13 33.36,181.68 33.36,189.94 28.53,192.49 23.70,189.94 23.70,181.68Z" fill="#fdb063"/><path d="M38.19,179.13 43.03,181.68 43.03,189.94 38.19,192.49 33.36,189.94 33.36,181.68Z" fill="#46a5ac"/><path d="M47.86,179.13 52.69,181.68 52.69,189.94 47.86,192.49 43.03,189.94 43.03,181.68Z" fill="#fbfbbc"/><path d="M57.52,179.13 62.36,181.68 62.36,189.94 57.52,192.49 52.69,189.94 52.69,181.68Z" fill="#3288bd"/><path d="M67.19,179.13 72.02,181.68 72.02,189.94 67.19,192.49 62.36,189.94 62.36,181.68Z" fill="#e4f39a"/><path d="M76.85,179.13 81.69,181.68 81.69,189.94 76.85,192.49 72.02,189.94 72.02,181.68Z" fill="#3288bd"/><path d="M86.52,179.13 91.35,181.68 91.35,189.94 86.52,192.49 81.69,189.94 81.69,181.68Z" fill="#f98c4e"/><path d="M96.18,179.13 101.02,181.68 101.02,189.94 96.18,192.49 91.35,189.94 91.35,181.68Z" fill="#3288bd"/><path d="M105.85,179.13 110.68,181.68 110.68,189.94 105.85,192.49 101.02,189.94 101.02,181.68Z" fill="#a8dba2"/><path d="M115.51,179.13 120.35,181.68 120.35,189.94 115.51,192.49 110.68,189.94 110.68,181.68Z" fill="#fdb063"/><path d="M125.18,179.13 130.01,181.68 130.01,189.94 125.18,192.49 120.35,189.94 120.35,181.68Z" fill="#fdb063"/><path d="M134.84,179.13 139.68,181.68 139.68,189.94 134.84,192.49 130.01,189.94 130.01,181.68Z" fill="#3288bd"/><path d="M144.51,179.13 149.34,181.68 149.34,189.94 144.51,192.49 139.68,189.94 139.68,181.68Z" fill="#86cfa4"/><path d="M154.18,179.13 159.01,181.68 159.01,189.94 154.18,192.49 149.34,189.94 149.34,181.68Z" fill="#3288bd"/><path d="M163.84,179.13 168.67,181.68 168.67,189.94 163.84,192.49 159.01,189.94 159.01,181.68Z" fill="#86cfa4"/><path d="M173.50,179.13 178.34,181.68 178.34,189.94 173.50,192.49 168.67,189.94 168.67,181.68Z" fill="#fdb063"/><path d="M183.17,179.13 188.00,181.68 188.00,189.94 183.17,192.49 178.34,189.94 178.34,181.68Z" fill="#a8dba2"/><path d="M192.83,179.13 197.67,181.68 197.67,189.94 192.83,192.49 188.00,189.94 188.00,181.68Z" fill="#62bea5"/><path d="M202.50,179.13 207.33,181.68 207.33,189.94 202.50,192.49 197.67,189.94 197.67,181.68Z" fill="#86cfa4"/><path d="M14.03,189.94 18.86,192.49 18.86,200.75 14.03,203.30 9.20,200.75 9.20,192.49Z" fill="#f98c4e"/><path d="M23.70,189.94 28.53,192.49 28.53,200.75 23.70,203.30 18.86,200.75 18.86,192.49Z" fill="#62bea5"/><path d="M33.36,189.94 38.19,192.49 38.19,200.75 33.36,203.30 28.53,200.75 28.53,192.49Z" fill="#fbfbbc"/><path d="M43.03,189.94 47.86,192.49 47.86,200.75 43.03,203.30 38.19,200.75 38.19,192.49Z" fill="#fee293"/><path d="M52.69,189.94 57.52,192.49 57.52,200.75 52.69,203.30 47.86,200.75 47.86,192.49Z" fill="#fdb063"/><path d="M62.36,189.94 67.19,192.49 67.19,200.75 62.36,203.30 57.52,200.75 57.52,192.49Z" fill="#e4f39a"/><path d="M72.02,189.94 76.85,192.49 76.85,200.75 72.02,203.30 67.19,200.75 67.19,192.49Z" fill="#a8dba2"/><path d="M81.69,189.94 86.52,192.49 86.52,200.75 81.69,203.30 76.86,200.75 76.86,192.49Z" fill="#a8dba2"/><path d="M91.35,189.94 96.19,192.49 96.19,200.75 91.35,203.30 86.52,200.75 86.52,192.49Z" fill="#86cfa4"/><path d="M101.02,189.94 105.85,192.49 105.85,200.75 101.02,203.30 96.18,200.75 96.18,192.49Z" fill="#3288bd"/><path d="M110.68,189.94 115.51,192.49 115.51,200.75 110.68,203.30 105.85,200.75 105.85,192.49Z" fill="#62bea5"/><path d="M120.35,189.94 125.18,192.49 125.18,200.75 120.35,203.30 115.52,200.75 115.52,192.49Z" fill="#3288bd"/><path d="M130.01,189.94 134.84,192.49 134.84,200.75 130.01,203.30 125.18,200.75 125.18,192.49Z" fill="#86cfa4"/><path d="M139.68,189.94 144.51,192.49 144.51,200.75 139.68,203.30 134.84,200.75 134.84,192.49Z" fill="#fee293"/><path d="M149.34,189.94 154.17,192.49 154.17,200.75 149.34,203.30 144.51,200.75 144.51,192.49Z" fill="#c8e89d"/><path d="M159.01,189.94 163.84,192.49 163.84,200.75 159.01,203.30 154.17,200.75 154.17,192.49Z" fill="#62bea5"/><path d="M168.67,189.94 173.50,192.49 173.50,200.75 168.67,203.30 163.84,200.75 163.84,192.49Z" fill="#86cfa4"/><path d="M178.34,189.94 183.17,192.49 183.17,200.75 178.34,203.30 173.50,200.75 173.50,192.49Z" fill="#3288bd"/><path d="M188.00,189.94 192.83,192.49 192.83,200.75 188.00,203.30 183.17,200.75 183.17,192.49Z" fill="#e4f39a"/><path d="M197.67,189.94 202.50,192.49 202.50,200.75 197.67,203.30 192.83,200.75 192.83,192.49Z" fill="#3288bd"/><path d="M18.86,200.75 23.70,203.30 23.70,211.56 18.86,214.11 14.03,211.56 14.03,203.30Z" fill="#e4f39a"/><path d="M28.53,200.75 33.36,203.30 33.36,211.56 28.53,214.11 23.70,211.56 23.70,203.30Z" fill="#46a5ac"/><path d="M38.19,200.75 43.03,203.30 43.03,211.56 38.19,214.11 33.36,211.56 33.36,203.30Z" fill="#62bea5"/><path d="M47.86,200.75 52.69,203.30 52.69,211.56 47.86,214.11 43.03,211.56 43.03,203.30Z" fill="#3288bd"/><path d="M57.52,200.75 62.36,203.30 62.36,211.56 57.52,214.11 52.69,211.56 52.69,203.30Z" fill="#c8e89d"/><path d="M67.19,200.75 72.02,203.30 72.02,211.56 67.19,214.11 62.36,211.56 62.36,203.30Z" fill="#c8e89d"/><path d="M76.85,200.75 81.69,203.30 81.69,211.56 76.85,214.11 72.02,211.56 72.02,203.30Z" fill="#86cfa4"/><path d="M86.52,200.75 91.35,203.30 91.35,211.56 86.52,214.11 81.69,211.56 81.69,203.30Z" fill="#3288bd"/><path d="M96.18,200.75 101.02,203.30 101.02,211.56 96.18,214.11 91.35,211.56 91.35,203.30Z" fill="#62bea5"/><path d="M105.85,200.75 110.68,203.30 110.68,211.56 105.85,214.11 101.02,211.56 101.02,203.30Z" fill="#fbfbbc"/><path d="M115.51,200.75 120.35,203.30 120.35,211.56 115.51,214.11 110.68,211.56 110.68,203.30Z" fill="#c8e89d"/><path d="M125.18,200.75 130.01,203.30 130.01,211.56 125.18,214.11 120.35,211.56 120.35,203.30Z" fill="#c8e89d"/><path d="M134.84,200.75 139.68,203.30 139.68,211.56 134.84,214.11 130.01,211.56 130.01,203.30Z" fill="#e4f39a"/><path d="M144.51,200.75 149.34,203.30 149.34,211.56 144.51,214.11 139.68,211.56 139.68,203.30Z" fill="#c8e89d"/><path d="M154.18,200.75 159.01,203.30 159.01,211.56 154.18,214.11 149.34,211.56 149.34,203.30Z" fill="#fbfbbc"/><path d="M163.84,200.75 168.67,203.30 168.67,211.56 163.84,214.11 159.01,211.56 159.01,203.30Z" fill="#62bea5"/><path d="M173.50,200.75 178.34,203.30 178.34,211.56 173.50,214.11 168.67,211.56 168.67,203.30Z" fill="#3288bd"/><path d="M183.17,200.75 188.00,203.30 188.00,211.56 183.17,214.11 178.34,211.56 178.34,203.30Z" fill="#86cfa4"/><path d="M192.83,200.75 197.67,203.30 197.67,211.56 192.83,214.11 188.00,211.56 188.00,203.30Z" fill="#3288bd"/><path d="M202.50,200.75 207.33,203.30 207.33,211.56 202.50,214.11 197.67,211.56 197.67,203.30Z" fill="#fdb063"/><path d="M14.03,211.56 18.86,214.11 18.86,222.37 14.03,224.92 9.20,222.37 9.20,214.11Z" fill="#86cfa4"/><path d="M23.70,211.56 28.53,214.11 28.53,222.37 23.70,224.92 18.86,222.37 18.86,214.11Z" fill="#3288bd"/><path d="M33.36,211.56 38.19,214.11 38.19,222.37 33.36,224.92 28.53,222.37 28.53,214.11Z" fill="#62bea5"/><path d="M43.03,211.56 47.86,214.11 47.86,222.37 43.03,224.92 38.19,222.37 38.19,214.11Z" fill="#62bea5"/><path d="M52.69,211.56 57.52,214.11 57.52,222.37 52.69,224.92 47.86,222.37 47.86,214.11Z" fill="#c8e89d"/><path d="M62.36,211.56 67.19,214.11 67.19,222.37 62.36,224.92 57.52,222.37 57.52,214.11Z" fill="#86cfa4"/><path d="M72.02,211.56 76.85,214.11 76.85,222.37 72.02,224.92 67.19,222.37 67.19,214.11Z" fill="#86cfa4"/><path d="M81.69,211.56 86.52,214.11 86.52,222.37 81.69,224.92 76.86,222.37 76.86,214.11Z" fill="#e4f39a"/><path d="M91.35,211.56 96.19,214.11 96.19,222.37 91.35,224.92 86.52,222.37 86.52,214.11Z" fill="#f46d43"/><path d="M101.02,211.56 105.85,214.11 105.85,222.37 101.02,224.92 96.18,222.37 96.18,214.11Z" fill="#62bea5"/><path d="M110.68,211.56 115.51,214.11 115.51,222.37 110.68,224.92 105.85,222.37 105.85,214.11Z" fill="#c8e89d"/><path d="M120.35,211.56 125.18,214.11 125.18,222.37 120.35,224.92 115.52,222.37 115.52,214.11Z" fill="#3288bd"/><path d="M130.01,211.56 134.84,214.11 134.84,222.37 130.01,224.92 125.18,222.37 125.18,214.11Z" fill="#e4f39a"/><path d="M139.68,211.56 144.51,214.11 144.51,222.37 139.68,224.92 134.84,222.37 134.84,214.11Z" fill="#e4f39a"/><path d="M149.34,211.56 154.17,214.11 154.17,222.37 149.34,224.92 144.51,222.37 144.51,214.11Z" fill="#62bea5"/><path d="M159.01,211.56 163.84,214.11 163.84,222.37 159.01,224.92 154.17,222.37 154.17,214.11Z" fill="#a8dba2"/><path d="M168.67,211.56 173.50,214.11 173.50,222.37 168.67,224.92 163.84,222.37 163.84,214.11Z" fill="#86cfa4"/><path d="M178.34,211.56 183.17,214.11 183.17,222.37 178.34,224.92 173.50,222.37 173.50,214.11Z" fill="#f46d43"/><path d="M188.00,211.56 192.83,214.11 192.83,222.37 188.00,224.92 183.17,222.37 183.17,214.11Z" fill="#86cfa4"/><path d="M197.67,211.56 202.50,214.11 202.50,222.37 197.67,224.92 192.83,222.37 192.83,214.11Z" fill="#46a5ac"/><path d="M18.86,222.37 23.70,224.92 23.70,233.18 18.86,235.73 14.03,233.18 14.03,224.92Z" fill="#a8dba2"/><path d="M28.53,222.37 33.36,224.92 33.36,233.18 28.53,235.73 23.70,233.18 23.70,224.92Z" fill="#fbfbbc"/><path d="M38.19,222.37 43.03,224.92 43.03,233.18 38.19,235.73 33.36,233.18 33.36,224.92Z" fill="#86cfa4"/><path d="M47.86,222.37 52.69,224.92 52.69,233.18 47.86,235.73 43.03,233.18 43.03,224.92Z" fill="#fee293"/><path d="M57.52,222.37 62.36,224.92 62.36,233.18 57.52,235.73 52.69,233.18 52.69,224.92Z" fill="#86cfa4"/><path d="M67.19,222.37 72.02,224.92 72.02,233.18 67.19,235.73 62.36,233.18 62.36,224.92Z" fill="#62bea5"/><path d="M76.85,222.37 81.69,224.92 81.69,233.18 76.85,235.73 72.02,233.18 72.02,224.92Z" fill="#3288bd"/><path d="M86.52,222.37 91.35,224.92 91.35,233.18 86.52,235.73 81.69,233.18 81.69,224.92Z" fill="#c8e89d"/><path d="M96.18,222.37 101.02,224.92 101.02,233.18 96.18,235.73 91.35,233.18 91.35,224.92Z" fill="#62bea5"/><path d="M105.85,222.37 110.68,224.92 110.68,233.18 105.85,235.73 101.02,233.18 101.02,224.92Z" fill="#3288bd"/><path d="M115.51,222.37 120.35,224.92 120.35,233.18 115.51,235.73 110.68,233.18 110.68,224.92Z" fill="#3288bd"/><path d="M125.18,222.37 130.01,224.92 130.01,233.18 125.18,235.73 120.35,233.18 120.35,224.92Z" fill="#3288bd"/><path d="M134.84,222.37 139.68,224.92 139.68,233.18 134.84,235.73 130.01,233.18 130.01,224.92Z" fill="#46a5ac"/><path d="M144.51,222.37 149.34,224.92 149.34,233.18 144.51,235.73 139.68,233.18 139.68,224.92Z" fill="#fbfbbc"/><path d="M154.18,222.37 159.01,224.92 159.01,233.18 154.18,235.73 149.34,233.18 149.34,224.92Z" fill="#86cfa4"/><path d="M163.84,222.37 168.67,224.92 168.67,233.18 163.84,235.73 159.01,233.18 159.01,224.92Z" fill="#46a5ac"/><path d="M173.50,222.37 178.34,224.92 178.34,233.18 173.50,235.73 168.67,233.18 168.67,224.92Z" fill="#e4f39a"/><path d="M183.17,222.37 188.00,224.92 188.00,233.18 183.17,235.73 178.34,233.18 178.34,224.92Z" fill="#3288bd"/><path d="M192.83,222.37 197.67,224.92 197.67,233.18 192.83,235.73 188.00,233.18 188.00,224.92Z" fill="#c8e89d"/><path d="M202.50,222.37 207.33,224.92 207.33,233.18 202.50,235.73 197.67,233.18 197.67,224.92Z" fill="#46a5ac"/><path d="M14.03,233.18 18.86,235.73 18.86,243.99 14.03,246.54 9.20,243.99 9.20,235.73Z" fill="#86cfa4"/><path d="M23.70,233.18 28.53,235.73 28.53,243.99 23.70,246.54 18.86,243.99 18.86,235.73Z" fill="#46a5ac"/><path d="M33.36,233.18 38.19,235.73 38.19,243.99 33.36,246.54 28.53,243.99 28.53,235.73Z" fill="#fee293"/><path d="M43.03,233.18 47.86,235.73 47.86,243.99 43.03,246.54 38.19,243.99 38.19,235.73Z" fill="#e4f39a"/><path d="M52.69,233.18 57.52,235.73 57.52,243.99 52.69,246.54 47.86,243.99 47.86,235.73Z" fill="#3288bd"/><path d="M62.36,233.18 67.19,235.73 67.19,243.99 62.36,246.54 57.52,243.99 57.52,235.73Z" fill="#62bea5"/><path d="M72.02,233.18 76.85,235.73 76.85,243.99 72.02,246.54 67.19,243.99 67.19,235.73Z" fill="#a8dba2"/><path d="M81.69,233.18 86.52,235.73 86.52,243.99 81.69,246.54 76.86,243.99 76.86,235.73Z" fill="#62bea5"/><path d="M91.35,233.18 96.19,235.73 96.19,243.99 91.35,246.54 86.52,243.99 86.52,235.73Z" fill="#fee293"/><path d="M101.02,233.18 105.85,235.73 105.85,243.99 101.02,246.54 96.18,243.99 96.18,235.73Z" fill="#3288bd"/><path d="M110.68,233.18 115.51,235.73 115.51,243.99 110.68,246.54 105.85,243.99 105.85,235.73Z" fill="#86cfa4"/><path d="M120.35,233.18 125.18,235.73 125.18,243.99 120.35,246.54 115.52,243.99 115.52,235.73Z" fill="#3288bd"/><path d="M130.01,233.18 134.84,235.73 134.84,243.99 130.01,246.54 125.18,243.99 125.18,235.73Z" fill="#f46d43"/><path d="M139.68,233.18 144.51,235.73 144.51,243.99 139.68,246.54 134.84,243.99 134.84,235.73Z" fill="#a8dba2"/><path d="M149.34,233.18 154.17,235.73 154.17,243.99 149.34,246.54 144.51,243.99 144.51,235.73Z" fill="#fdb063"/><path d="M159.01,233.18 163.84,235.73 163.84,243.99 159.01,246.54 154.17,243.99 154.17,235.73Z" fill="#46a5ac"/><path d="M168.67,233.18 173.50,235.73 173.50,243.99 168.67,246.54 163.84,243.99 163.84,235.73Z" fill="#c8e89d"/><path d="M178.34,233.18 183.17,235.73 183.17,243.99 178.34,246.54 173.50,243.99 173.50,235.73Z" fill="#e4f39a"/><path d="M188.00,233.18 192.83,235.73 192.83,243.99 188.00,246.54 183.17,243.99 183.17,235.73Z" fill="#f98c4e"/><path d="M197.67,233.18 202.50,235.73 202.50,243.99 197.67,246.54 192.83,243.99 192.83,235.73Z" fill="#a8dba2"/><path d="M18.86,243.99 23.70,246.54 23.70,254.80 18.86,257.35 14.03,254.80 14.03,246.54Z" fill="#46a5ac"/><path d="M28.53,243.99 33.36,246.54 33.36,254.80 28.53,257.35 23.70,254.80 23.70,246.54Z" fill="#c8e89d"/><path d="M38.19,243.99 43.03,246.54 43.03,254.80 38.19,257.35 33.36,254.80 33.36,246.54Z" fill="#fbfbbc"/><path d="M47.86,243.99 52.69,246.54 52.69,254.80 47.86,257.35 43.03,254.80 43.03,246.54Z" fill="#fdb063"/><path d="M57.52,243.99 62.36,246.54 62.36,254.80 57.52,257.35 52.69,254.80 52.69,246.54Z" fill="#86cfa4"/><path d="M67.19,243.99 72.02,246.54 72.02,254.80 67.19,257.35 62.36,254.80 62.36,246.54Z" fill="#fbfbbc"/><path d="M76.85,243.99 81.69,246.54 81.69,254.80 76.85,257.35 72.02,254.80 72.02,246.54Z" fill="#e4f39a"/><path d="M86.52,243.99 91.35,246.54 91.35,254.80 86.52,257.35 81.69,254.80 81.69,246.54Z" fill="#c8e89d"/><path d="M96.18,243.99 101.02,246.54 101.02,254.80 96.18,257.35 91.35,254.80 91.35,246.54Z" fill="#f46d43"/><path d="M105.85,243.99 110.68,246.54 110.68,254.80 105.85,257.35 101.02,254.80 101.02,246.54Z" fill="#fbfbbc"/><path d="M115.51,243.99 120.35,246.54 120.35,254.80 115.51,257.35 110.68,254.80 110.68,246.54Z" fill="#86cfa4"/><path d="M125.18,243.99 130.01,246.54 130.01,254.80 125.18,257.35 120.35,254.80 120.35,246.54Z" fill="#62bea5"/><path d="M134.84,243.99 139.68,246.54 139.68,254.80 134.84,257.35 130.01,254.80 130.01,246.54Z" fill="#fbfbbc"/><path d="M144.51,243.99 149.34,246.54 149.34,254.80 144.51,257.35 139.68,254.80 139.68,246.54Z" fill="#3288bd"/><path d="M154.18,243.99 159.01,246.54 159.01,254.80 154.18,257.35 149.34,254.80 149.34,246.54Z" fill="#46a5ac"/><path d="M163.84,243.99 168.67,246.54 168.67,254.80 163.84,257.35 159.01,254.80 159.01,246.54Z" fill="#fee293"/><path d="M173.50,243.99 178.34,246.54 178.34,254.80 173.50,257.35 168.67,254.80 168.67,246.54Z" fill="#86cfa4"/><path d="M183.17,243.99 188.00,246.54 188.00,254.80 183.17,257.35 178.34,254.80 178.34,246.54Z" fill="#86cfa4"/><path d="M192.83,243.99 197.67,246.54 197.67,254.80 192.83,257.35 188.00,254.80 188.00,246.54Z" fill="#a8dba2"/><path d="M202.50,243.99 207.33,246.54 207.33,254.80 202.50,257.35 197.67,254.80 197.67,246.54Z" fill="#c8e89d"/></g>
<g font-size="5.2" fill="#555" text-anchor="middle"><text x="12.70" y="35.60">a</text><text x="22.54" y="35.60">b</text><text x="32.38" y="35.60">c</text><text x="42.22" y="35.60">d</text><text x="52.06" y="35.60">e</text><text x="61.90" y="35.60">f</text><text x="71.74" y="35.60">g</text><text x="81.58" y="35.60">h</text><text x="91.42" y="35.60">i</text><text x="101.26" y="35.60">j</text><text x="111.10" y="35.60">k</text><text x="120.94" y="35.60">l</text><text x="130.78" y="35.60">m</text><text x="140.62" y="35.60">n</text><text x="150.46" y="35.60">o</text><text x="160.30" y="35.60">p</text><text x="170.14" y="35.60">q</text><text x="179.98" y="35.60">r</text><text x="189.82" y="35.60">s</text><text x="199.66" y="35.60">t</text></g>
<g font-size="6.2" fill="#333" text-anchor="middle"><text transform="translate(214.70,48.48) scale(0.92,1)">1</text><text transform="translate(214.70,59.29) scale(0.92,1)">2</text><text transform="translate(214.70,70.10) scale(0.92,1)">3</text><text transform="translate(214.70,80.91) scale(0.92,1)">4</text><text transform="translate(214.70,91.72) scale(0.92,1)">5</text><text transform="translate(214.70,102.53) scale(0.92,1)">6</text><text transform="translate(214.70,113.34) scale(0.92,1)">7</text><text transform="translate(214.70,124.15) scale(0.92,1)">8</text><text transform="translate(214.70,134.96) scale(0.92,1)">9</text><text transform="translate(214.70,145.77) scale(0.92,1)">10</text><text transform="translate(214.70,156.58) scale(0.92,1)">11</text><text transform="translate(214.70,167.39) scale(0.92,1)">12</text><text transform="translate(214.70,178.20) scale(0.92,1)">13</text><text transform="translate(214.70,189.01) scale(0.92,1)">14</text><text transform="translate(214.70,199.82) scale(0.92,1)">15</text><text transform="translate(214.70,210.63) scale(0.92,1)">16</text><text transform="translate(214.70,221.44) scale(0.92,1)">17</text><text transform="translate(214.70,232.25) scale(0.92,1)">18</text><text transform="translate(214.70,243.06) scale(0.92,1)">19</text><text transform="translate(214.70,253.87) scale(0.92,1)">20</text></g>
<g stroke="#45453c" stroke-width="0.65" stroke-opacity="0.8"><path d="M228.85,40.40 233.60,42.90 233.60,51.05 228.85,53.55 224.10,51.05 224.10,42.90Z" fill="#46a5ac"/><path d="M238.35,40.40 243.10,42.90 243.10,51.05 238.35,53.55 233.60,51.05 233.60,42.90Z" fill="#86cfa4"/><path d="M247.85,40.40 252.60,42.90 252.60,51.05 247.85,53.55 243.10,51.05 243.10,42.90Z" fill="#f98c4e"/><path d="M257.35,40.40 262.10,42.90 262.10,51.05 257.35,53.55 252.60,51.05 252.60,42.90Z" fill="#a8dba2"/><path d="M266.85,40.40 271.60,42.90 271.60,51.05 266.85,53.55 262.10,51.05 262.10,42.90Z" fill="#f46d43"/><path d="M276.35,40.40 281.10,42.90 281.10,51.05 276.35,53.55 271.60,51.05 271.60,42.90Z" fill="#46a5ac"/><path d="M285.85,40.40 290.60,42.90 290.60,51.05 285.85,53.55 281.10,51.05 281.10,42.90Z" fill="#62bea5"/><path d="M295.35,40.40 300.10,42.90 300.10,51.05 295.35,53.55 290.60,51.05 290.60,42.90Z" fill="#46a5ac"/><path d="M304.85,40.40 309.60,42.90 309.60,51.05 304.85,53.55 300.10,51.05 300.10,42.90Z" fill="#46a5ac"/><path d="M314.35,40.40 319.10,42.90 319.10,51.05 314.35,53.55 309.60,51.05 309.60,42.90Z" fill="#e4f39a"/><path d="M323.85,40.40 328.60,42.90 328.60,51.05 323.85,53.55 319.10,51.05 319.10,42.90Z" fill="#c8e89d"/><path d="M333.35,40.40 338.10,42.90 338.10,51.05 333.35,53.55 328.60,51.05 328.60,42.90Z" fill="#e4f39a"/><path d="M342.85,40.40 347.60,42.90 347.60,51.05 342.85,53.55 338.10,51.05 338.10,42.90Z" fill="#46a5ac"/><path d="M352.35,40.40 357.10,42.90 357.10,51.05 352.35,53.55 347.60,51.05 347.60,42.90Z" fill="#62bea5"/><path d="M361.85,40.40 366.60,42.90 366.60,51.05 361.85,53.55 357.10,51.05 357.10,42.90Z" fill="#86cfa4"/><path d="M371.35,40.40 376.10,42.90 376.10,51.05 371.35,53.55 366.60,51.05 366.60,42.90Z" fill="#46a5ac"/><path d="M380.85,40.40 385.60,42.90 385.60,51.05 380.85,53.55 376.10,51.05 376.10,42.90Z" fill="#86cfa4"/><path d="M390.35,40.40 395.10,42.90 395.10,51.05 390.35,53.55 385.60,51.05 385.60,42.90Z" fill="#46a5ac"/><path d="M399.85,40.40 404.60,42.90 404.60,51.05 399.85,53.55 395.10,51.05 395.10,42.90Z" fill="#a8dba2"/><path d="M409.35,40.40 414.10,42.90 414.10,51.05 409.35,53.55 404.60,51.05 404.60,42.90Z" fill="#c8e89d"/><path d="M233.60,51.05 238.35,53.55 238.35,61.70 233.60,64.20 228.85,61.70 228.85,53.55Z" fill="#c8e89d"/><path d="M243.10,51.05 247.85,53.55 247.85,61.70 243.10,64.20 238.35,61.70 238.35,53.55Z" fill="#86cfa4"/><path d="M252.60,51.05 257.35,53.55 257.35,61.70 252.60,64.20 247.85,61.70 247.85,53.55Z" fill="#e4f39a"/><path d="M262.10,51.05 266.85,53.55 266.85,61.70 262.10,64.20 257.35,61.70 257.35,53.55Z" fill="#62bea5"/><path d="M271.60,51.05 276.35,53.55 276.35,61.70 271.60,64.20 266.85,61.70 266.85,53.55Z" fill="#86cfa4"/><path d="M281.10,51.05 285.85,53.55 285.85,61.70 281.10,64.20 276.35,61.70 276.35,53.55Z" fill="#46a5ac"/><path d="M290.60,51.05 295.35,53.55 295.35,61.70 290.60,64.20 285.85,61.70 285.85,53.55Z" fill="#fbfbbc"/><path d="M300.10,51.05 304.85,53.55 304.85,61.70 300.10,64.20 295.35,61.70 295.35,53.55Z" fill="#3288bd"/><path d="M309.60,51.05 314.35,53.55 314.35,61.70 309.60,64.20 304.85,61.70 304.85,53.55Z" fill="#46a5ac"/><path d="M319.10,51.05 323.85,53.55 323.85,61.70 319.10,64.20 314.35,61.70 314.35,53.55Z" fill="#fee293"/><path d="M328.60,51.05 333.35,53.55 333.35,61.70 328.60,64.20 323.85,61.70 323.85,53.55Z" fill="#86cfa4"/><path d="M338.10,51.05 342.85,53.55 342.85,61.70 338.10,64.20 333.35,61.70 333.35,53.55Z" fill="#86cfa4"/><path d="M347.60,51.05 352.35,53.55 352.35,61.70 347.60,64.20 342.85,61.70 342.85,53.55Z" fill="#fee293"/><path d="M357.10,51.05 361.85,53.55 361.85,61.70 357.10,64.20 352.35,61.70 352.35,53.55Z" fill="#3288bd"/><path d="M366.60,51.05 371.35,53.55 371.35,61.70 366.60,64.20 361.85,61.70 361.85,53.55Z" fill="#3288bd"/><path d="M376.10,51.05 380.85,53.55 380.85,61.70 376.10,64.20 371.35,61.70 371.35,53.55Z" fill="#fdb063"/><path d="M385.60,51.05 390.35,53.55 390.35,61.70 385.60,64.20 380.85,61.70 380.85,53.55Z" fill="#86cfa4"/><path d="M395.10,51.05 399.85,53.55 399.85,61.70 395.10,64.20 390.35,61.70 390.35,53.55Z" fill="#c8e89d"/><path d="M404.60,51.05 409.35,53.55 409.35,61.70 404.60,64.20 399.85,61.70 399.85,53.55Z" fill="#86cfa4"/><path d="M414.10,51.05 418.85,53.55 418.85,61.70 414.10,64.20 409.35,61.70 409.35,53.55Z" fill="#62bea5"/><path d="M228.85,61.70 233.60,64.20 233.60,72.35 228.85,74.85 224.10,72.35 224.10,64.20Z" fill="#3288bd"/><path d="M238.35,61.70 243.10,64.20 243.10,72.35 238.35,74.85 233.60,72.35 233.60,64.20Z" fill="#fbfbbc"/><path d="M247.85,61.70 252.60,64.20 252.60,72.35 247.85,74.85 243.10,72.35 243.10,64.20Z" fill="#62bea5"/><path d="M257.35,61.70 262.10,64.20 262.10,72.35 257.35,74.85 252.60,72.35 252.60,64.20Z" fill="#f46d43"/><path d="M266.85,61.70 271.60,64.20 271.60,72.35 266.85,74.85 262.10,72.35 262.10,64.20Z" fill="#3288bd"/><path d="M276.35,61.70 281.10,64.20 281.10,72.35 276.35,74.85 271.60,72.35 271.60,64.20Z" fill="#3288bd"/><path d="M285.85,61.70 290.60,64.20 290.60,72.35 285.85,74.85 281.10,72.35 281.10,64.20Z" fill="#86cfa4"/><path d="M295.35,61.70 300.10,64.20 300.10,72.35 295.35,74.85 290.60,72.35 290.60,64.20Z" fill="#86cfa4"/><path d="M304.85,61.70 309.60,64.20 309.60,72.35 304.85,74.85 300.10,72.35 300.10,64.20Z" fill="#3288bd"/><path d="M314.35,61.70 319.10,64.20 319.10,72.35 314.35,74.85 309.60,72.35 309.60,64.20Z" fill="#46a5ac"/><path d="M323.85,61.70 328.60,64.20 328.60,72.35 323.85,74.85 319.10,72.35 319.10,64.20Z" fill="#86cfa4"/><path d="M333.35,61.70 338.10,64.20 338.10,72.35 333.35,74.85 328.60,72.35 328.60,64.20Z" fill="#86cfa4"/><path d="M342.85,61.70 347.60,64.20 347.60,72.35 342.85,74.85 338.10,72.35 338.10,64.20Z" fill="#46a5ac"/><path d="M352.35,61.70 357.10,64.20 357.10,72.35 352.35,74.85 347.60,72.35 347.60,64.20Z" fill="#3288bd"/><path d="M361.85,61.70 366.60,64.20 366.60,72.35 361.85,74.85 357.10,72.35 357.10,64.20Z" fill="#c8e89d"/><path d="M371.35,61.70 376.10,64.20 376.10,72.35 371.35,74.85 366.60,72.35 366.60,64.20Z" fill="#3288bd"/><path d="M380.85,61.70 385.60,64.20 385.60,72.35 380.85,74.85 376.10,72.35 376.10,64.20Z" fill="#f46d43"/><path d="M390.35,61.70 395.10,64.20 395.10,72.35 390.35,74.85 385.60,72.35 385.60,64.20Z" fill="#3288bd"/><path d="M399.85,61.70 404.60,64.20 404.60,72.35 399.85,74.85 395.10,72.35 395.10,64.20Z" fill="#c8e89d"/><path d="M409.35,61.70 414.10,64.20 414.10,72.35 409.35,74.85 404.60,72.35 404.60,64.20Z" fill="#3288bd"/><path d="M233.60,72.35 238.35,74.85 238.35,83.00 233.60,85.50 228.85,83.00 228.85,74.85Z" fill="#3288bd"/><path d="M243.10,72.35 247.85,74.85 247.85,83.00 243.10,85.50 238.35,83.00 238.35,74.85Z" fill="#46a5ac"/><path d="M252.60,72.35 257.35,74.85 257.35,83.00 252.60,85.50 247.85,83.00 247.85,74.85Z" fill="#86cfa4"/><path d="M262.10,72.35 266.85,74.85 266.85,83.00 262.10,85.50 257.35,83.00 257.35,74.85Z" fill="#62bea5"/><path d="M271.60,72.35 276.35,74.85 276.35,83.00 271.60,85.50 266.85,83.00 266.85,74.85Z" fill="#3288bd"/><path d="M281.10,72.35 285.85,74.85 285.85,83.00 281.10,85.50 276.35,83.00 276.35,74.85Z" fill="#46a5ac"/><path d="M290.60,72.35 295.35,74.85 295.35,83.00 290.60,85.50 285.85,83.00 285.85,74.85Z" fill="#86cfa4"/><path d="M300.10,72.35 304.85,74.85 304.85,83.00 300.10,85.50 295.35,83.00 295.35,74.85Z" fill="#62bea5"/><path d="M309.60,72.35 314.35,74.85 314.35,83.00 309.60,85.50 304.85,83.00 304.85,74.85Z" fill="#46a5ac"/><path d="M319.10,72.35 323.85,74.85 323.85,83.00 319.10,85.50 314.35,83.00 314.35,74.85Z" fill="#62bea5"/><path d="M328.60,72.35 333.35,74.85 333.35,83.00 328.60,85.50 323.85,83.00 323.85,74.85Z" fill="#46a5ac"/><path d="M338.10,72.35 342.85,74.85 342.85,83.00 338.10,85.50 333.35,83.00 333.35,74.85Z" fill="#3288bd"/><path d="M347.60,72.35 352.35,74.85 352.35,83.00 347.60,85.50 342.85,83.00 342.85,74.85Z" fill="#a8dba2"/><path d="M357.10,72.35 361.85,74.85 361.85,83.00 357.10,85.50 352.35,83.00 352.35,74.85Z" fill="#46a5ac"/><path d="M366.60,72.35 371.35,74.85 371.35,83.00 366.60,85.50 361.85,83.00 361.85,74.85Z" fill="#46a5ac"/><path d="M376.10,72.35 380.85,74.85 380.85,83.00 376.10,85.50 371.35,83.00 371.35,74.85Z" fill="#46a5ac"/><path d="M385.60,72.35 390.35,74.85 390.35,83.00 385.60,85.50 380.85,83.00 380.85,74.85Z" fill="#e4f39a"/><path d="M395.10,72.35 399.85,74.85 399.85,83.00 395.10,85.50 390.35,83.00 390.35,74.85Z" fill="#3288bd"/><path d="M404.60,72.35 409.35,74.85 409.35,83.00 404.60,85.50 399.85,83.00 399.85,74.85Z" fill="#46a5ac"/><path d="M414.10,72.35 418.85,74.85 418.85,83.00 414.10,85.50 409.35,83.00 409.35,74.85Z" fill="#46a5ac"/><path d="M228.85,83.00 233.60,85.50 233.60,93.65 228.85,96.15 224.10,93.65 224.10,85.50Z" fill="#86cfa4"/><path d="M238.35,83.00 243.10,85.50 243.10,93.65 238.35,96.15 233.60,93.65 233.60,85.50Z" fill="#fdb063"/><path d="M247.85,83.00 252.60,85.50 252.60,93.65 247.85,96.15 243.10,93.65 243.10,85.50Z" fill="#fbfbbc"/><path d="M257.35,83.00 262.10,85.50 262.10,93.65 257.35,96.15 252.60,93.65 252.60,85.50Z" fill="#3288bd"/><path d="M266.85,83.00 271.60,85.50 271.60,93.65 266.85,96.15 262.10,93.65 262.10,85.50Z" fill="#62bea5"/><path d="M276.35,83.00 281.10,85.50 281.10,93.65 276.35,96.15 271.60,93.65 271.60,85.50Z" fill="#a8dba2"/><path d="M285.85,83.00 290.60,85.50 290.60,93.65 285.85,96.15 281.10,93.65 281.10,85.50Z" fill="#86cfa4"/><path d="M295.35,83.00 300.10,85.50 300.10,93.65 295.35,96.15 290.60,93.65 290.60,85.50Z" fill="#46a5ac"/><path d="M304.85,83.00 309.60,85.50 309.60,93.65 304.85,96.15 300.10,93.65 300.10,85.50Z" fill="#62bea5"/><path d="M314.35,83.00 319.10,85.50 319.10,93.65 314.35,96.15 309.60,93.65 309.60,85.50Z" fill="#a8dba2"/><path d="M323.85,83.00 328.60,85.50 328.60,93.65 323.85,96.15 319.10,93.65 319.10,85.50Z" fill="#86cfa4"/><path d="M333.35,83.00 338.10,85.50 338.10,93.65 333.35,96.15 328.60,93.65 328.60,85.50Z" fill="#62bea5"/><path d="M342.85,83.00 347.60,85.50 347.60,93.65 342.85,96.15 338.10,93.65 338.10,85.50Z" fill="#62bea5"/><path d="M352.35,83.00 357.10,85.50 357.10,93.65 352.35,96.15 347.60,93.65 347.60,85.50Z" fill="#a8dba2"/><path d="M361.85,83.00 366.60,85.50 366.60,93.65 361.85,96.15 357.10,93.65 357.10,85.50Z" fill="#3288bd"/><path d="M371.35,83.00 376.10,85.50 376.10,93.65 371.35,96.15 366.60,93.65 366.60,85.50Z" fill="#e4f39a"/><path d="M380.85,83.00 385.60,85.50 385.60,93.65 380.85,96.15 376.10,93.65 376.10,85.50Z" fill="#86cfa4"/><path d="M390.35,83.00 395.10,85.50 395.10,93.65 390.35,96.15 385.60,93.65 385.60,85.50Z" fill="#62bea5"/><path d="M399.85,83.00 404.60,85.50 404.60,93.65 399.85,96.15 395.10,93.65 395.10,85.50Z" fill="#86cfa4"/><path d="M409.35,83.00 414.10,85.50 414.10,93.65 409.35,96.15 404.60,93.65 404.60,85.50Z" fill="#3288bd"/><path d="M233.60,93.65 238.35,96.15 238.35,104.30 233.60,106.80 228.85,104.30 228.85,96.15Z" fill="#fee293"/><path d="M243.10,93.65 247.85,96.15 247.85,104.30 243.10,106.80 238.35,104.30 238.35,96.15Z" fill="#3288bd"/><path d="M252.60,93.65 257.35,96.15 257.35,104.30 252.60,106.80 247.85,104.30 247.85,96.15Z" fill="#a8dba2"/><path d="M262.10,93.65 266.85,96.15 266.85,104.30 262.10,106.80 257.35,104.30 257.35,96.15Z" fill="#3288bd"/><path d="M271.60,93.65 276.35,96.15 276.35,104.30 271.60,106.80 266.85,104.30 266.85,96.15Z" fill="#f46d43"/><path d="M281.10,93.65 285.85,96.15 285.85,104.30 281.10,106.80 276.35,104.30 276.35,96.15Z" fill="#62bea5"/><path d="M290.60,93.65 295.35,96.15 295.35,104.30 290.60,106.80 285.85,104.30 285.85,96.15Z" fill="#3288bd"/><path d="M300.10,93.65 304.85,96.15 304.85,104.30 300.10,106.80 295.35,104.30 295.35,96.15Z" fill="#fee293"/><path d="M309.60,93.65 314.35,96.15 314.35,104.30 309.60,106.80 304.85,104.30 304.85,96.15Z" fill="#fee293"/><path d="M319.10,93.65 323.85,96.15 323.85,104.30 319.10,106.80 314.35,104.30 314.35,96.15Z" fill="#3288bd"/><path d="M328.60,93.65 333.35,96.15 333.35,104.30 328.60,106.80 323.85,104.30 323.85,96.15Z" fill="#c8e89d"/><path d="M338.10,93.65 342.85,96.15 342.85,104.30 338.10,106.80 333.35,104.30 333.35,96.15Z" fill="#fbfbbc"/><path d="M347.60,93.65 352.35,96.15 352.35,104.30 347.60,106.80 342.85,104.30 342.85,96.15Z" fill="#3288bd"/><path d="M357.10,93.65 361.85,96.15 361.85,104.30 357.10,106.80 352.35,104.30 352.35,96.15Z" fill="#62bea5"/><path d="M366.60,93.65 371.35,96.15 371.35,104.30 366.60,106.80 361.85,104.30 361.85,96.15Z" fill="#fee293"/><path d="M376.10,93.65 380.85,96.15 380.85,104.30 376.10,106.80 371.35,104.30 371.35,96.15Z" fill="#3288bd"/><path d="M385.60,93.65 390.35,96.15 390.35,104.30 385.60,106.80 380.85,104.30 380.85,96.15Z" fill="#c8e89d"/><path d="M395.10,93.65 399.85,96.15 399.85,104.30 395.10,106.80 390.35,104.30 390.35,96.15Z" fill="#46a5ac"/><path d="M404.60,93.65 409.35,96.15 409.35,104.30 404.60,106.80 399.85,104.30 399.85,96.15Z" fill="#46a5ac"/><path d="M414.10,93.65 418.85,96.15 418.85,104.30 414.10,106.80 409.35,104.30 409.35,96.15Z" fill="#3288bd"/><path d="M228.85,104.30 233.60,106.80 233.60,114.95 228.85,117.45 224.10,114.95 224.10,106.80Z" fill="#e4f39a"/><path d="M238.35,104.30 243.10,106.80 243.10,114.95 238.35,117.45 233.60,114.95 233.60,106.80Z" fill="#3288bd"/><path d="M247.85,104.30 252.60,106.80 252.60,114.95 247.85,117.45 243.10,114.95 243.10,106.80Z" fill="#86cfa4"/><path d="M257.35,104.30 262.10,106.80 262.10,114.95 257.35,117.45 252.60,114.95 252.60,106.80Z" fill="#fbfbbc"/><path d="M266.85,104.30 271.60,106.80 271.60,114.95 266.85,117.45 262.10,114.95 262.10,106.80Z" fill="#46a5ac"/><path d="M276.35,104.30 281.10,106.80 281.10,114.95 276.35,117.45 271.60,114.95 271.60,106.80Z" fill="#a8dba2"/><path d="M285.85,104.30 290.60,106.80 290.60,114.95 285.85,117.45 281.10,114.95 281.10,106.80Z" fill="#86cfa4"/><path d="M295.35,104.30 300.10,106.80 300.10,114.95 295.35,117.45 290.60,114.95 290.60,106.80Z" fill="#3288bd"/><path d="M304.85,104.30 309.60,106.80 309.60,114.95 304.85,117.45 300.10,114.95 300.10,106.80Z" fill="#86cfa4"/><path d="M314.35,104.30 319.10,106.80 319.10,114.95 314.35,117.45 309.60,114.95 309.60,106.80Z" fill="#62bea5"/><path d="M323.85,104.30 328.60,106.80 328.60,114.95 323.85,117.45 319.10,114.95 319.10,106.80Z" fill="#f46d43"/><path d="M333.35,104.30 338.10,106.80 338.10,114.95 333.35,117.45 328.60,114.95 328.60,106.80Z" fill="#a8dba2"/><path d="M342.85,104.30 347.60,106.80 347.60,114.95 342.85,117.45 338.10,114.95 338.10,106.80Z" fill="#3288bd"/><path d="M352.35,104.30 357.10,106.80 357.10,114.95 352.35,117.45 347.60,114.95 347.60,106.80Z" fill="#62bea5"/><path d="M361.85,104.30 366.60,106.80 366.60,114.95 361.85,117.45 357.10,114.95 357.10,106.80Z" fill="#62bea5"/><path d="M371.35,104.30 376.10,106.80 376.10,114.95 371.35,117.45 366.60,114.95 366.60,106.80Z" fill="#62bea5"/><path d="M380.85,104.30 385.60,106.80 385.60,114.95 380.85,117.45 376.10,114.95 376.10,106.80Z" fill="#3288bd"/><path d="M390.35,104.30 395.10,106.80 395.10,114.95 390.35,117.45 385.60,114.95 385.60,106.80Z" fill="#46a5ac"/><path d="M399.85,104.30 404.60,106.80 404.60,114.95 399.85,117.45 395.10,114.95 395.10,106.80Z" fill="#3288bd"/><path d="M409.35,104.30 414.10,106.80 414.10,114.95 409.35,117.45 404.60,114.95 404.60,106.80Z" fill="#c8e89d"/><path d="M233.60,114.95 238.35,117.45 238.35,125.60 233.60,128.10 228.85,125.60 228.85,117.45Z" fill="#a8dba2"/><path d="M243.10,114.95 247.85,117.45 247.85,125.60 243.10,128.10 238.35,125.60 238.35,117.45Z" fill="#fdb063"/><path d="M252.60,114.95 257.35,117.45 257.35,125.60 252.60,128.10 247.85,125.60 247.85,117.45Z" fill="#fbfbbc"/><path d="M262.10,114.95 266.85,117.45 266.85,125.60 262.10,128.10 257.35,125.60 257.35,117.45Z" fill="#f46d43"/><path d="M271.60,114.95 276.35,117.45 276.35,125.60 271.60,128.10 266.85,125.60 266.85,117.45Z" fill="#e4f39a"/><path d="M281.10,114.95 285.85,117.45 285.85,125.60 281.10,128.10 276.35,125.60 276.35,117.45Z" fill="#62bea5"/><path d="M290.60,114.95 295.35,117.45 295.35,125.60 290.60,128.10 285.85,125.60 285.85,117.45Z" fill="#3288bd"/><path d="M300.10,114.95 304.85,117.45 304.85,125.60 300.10,128.10 295.35,125.60 295.35,117.45Z" fill="#a8dba2"/><path d="M309.60,114.95 314.35,117.45 314.35,125.60 309.60,128.10 304.85,125.60 304.85,117.45Z" fill="#c8e89d"/><path d="M319.10,114.95 323.85,117.45 323.85,125.60 319.10,128.10 314.35,125.60 314.35,117.45Z" fill="#86cfa4"/><path d="M328.60,114.95 333.35,117.45 333.35,125.60 328.60,128.10 323.85,125.60 323.85,117.45Z" fill="#3288bd"/><path d="M338.10,114.95 342.85,117.45 342.85,125.60 338.10,128.10 333.35,125.60 333.35,117.45Z" fill="#62bea5"/><path d="M347.60,114.95 352.35,117.45 352.35,125.60 347.60,128.10 342.85,125.60 342.85,117.45Z" fill="#c8e89d"/><path d="M357.10,114.95 361.85,117.45 361.85,125.60 357.10,128.10 352.35,125.60 352.35,117.45Z" fill="#c8e89d"/><path d="M366.60,114.95 371.35,117.45 371.35,125.60 366.60,128.10 361.85,125.60 361.85,117.45Z" fill="#da434c"/><path d="M376.10,114.95 380.85,117.45 380.85,125.60 376.10,128.10 371.35,125.60 371.35,117.45Z" fill="#3288bd"/><path d="M385.60,114.95 390.35,117.45 390.35,125.60 385.60,128.10 380.85,125.60 380.85,117.45Z" fill="#a8dba2"/><path d="M395.10,114.95 399.85,117.45 399.85,125.60 395.10,128.10 390.35,125.60 390.35,117.45Z" fill="#3288bd"/><path d="M404.60,114.95 409.35,117.45 409.35,125.60 404.60,128.10 399.85,125.60 399.85,117.45Z" fill="#46a5ac"/><path d="M414.10,114.95 418.85,117.45 418.85,125.60 414.10,128.10 409.35,125.60 409.35,117.45Z" fill="#46a5ac"/><path d="M228.85,125.60 233.60,128.10 233.60,136.25 228.85,138.75 224.10,136.25 224.10,128.10Z" fill="#46a5ac"/><path d="M238.35,125.60 243.10,128.10 243.10,136.25 238.35,138.75 233.60,136.25 233.60,128.10Z" fill="#62bea5"/><path d="M247.85,125.60 252.60,128.10 252.60,136.25 247.85,138.75 243.10,136.25 243.10,128.10Z" fill="#86cfa4"/><path d="M257.35,125.60 262.10,128.10 262.10,136.25 257.35,138.75 252.60,136.25 252.60,128.10Z" fill="#c8e89d"/><path d="M266.85,125.60 271.60,128.10 271.60,136.25 266.85,138.75 262.10,136.25 262.10,128.10Z" fill="#fdb063"/><path d="M276.35,125.60 281.10,128.10 281.10,136.25 276.35,138.75 271.60,136.25 271.60,128.10Z" fill="#62bea5"/><path d="M285.85,125.60 290.60,128.10 290.60,136.25 285.85,138.75 281.10,136.25 281.10,128.10Z" fill="#a8dba2"/><path d="M295.35,125.60 300.10,128.10 300.10,136.25 295.35,138.75 290.60,136.25 290.60,128.10Z" fill="#46a5ac"/><path d="M304.85,125.60 309.60,128.10 309.60,136.25 304.85,138.75 300.10,136.25 300.10,128.10Z" fill="#3288bd"/><path d="M314.35,125.60 319.10,128.10 319.10,136.25 314.35,138.75 309.60,136.25 309.60,128.10Z" fill="#a8dba2"/><path d="M323.85,125.60 328.60,128.10 328.60,136.25 323.85,138.75 319.10,136.25 319.10,128.10Z" fill="#fdb063"/><path d="M333.35,125.60 338.10,128.10 338.10,136.25 333.35,138.75 328.60,136.25 328.60,128.10Z" fill="#da434c"/><path d="M342.85,125.60 347.60,128.10 347.60,136.25 342.85,138.75 338.10,136.25 338.10,128.10Z" fill="#f98c4e"/><path d="M352.35,125.60 357.10,128.10 357.10,136.25 352.35,138.75 347.60,136.25 347.60,128.10Z" fill="#e4f39a"/><path d="M361.85,125.60 366.60,128.10 366.60,136.25 361.85,138.75 357.10,136.25 357.10,128.10Z" fill="#62bea5"/><path d="M371.35,125.60 376.10,128.10 376.10,136.25 371.35,138.75 366.60,136.25 366.60,128.10Z" fill="#46a5ac"/><path d="M380.85,125.60 385.60,128.10 385.60,136.25 380.85,138.75 376.10,136.25 376.10,128.10Z" fill="#46a5ac"/><path d="M390.35,125.60 395.10,128.10 395.10,136.25 390.35,138.75 385.60,136.25 385.60,128.10Z" fill="#c8e89d"/><path d="M399.85,125.60 404.60,128.10 404.60,136.25 399.85,138.75 395.10,136.25 395.10,128.10Z" fill="#f46d43"/><path d="M409.35,125.60 414.10,128.10 414.10,136.25 409.35,138.75 404.60,136.25 404.60,128.10Z" fill="#e4f39a"/><path d="M233.60,136.25 238.35,138.75 238.35,146.90 233.60,149.40 228.85,146.90 228.85,138.75Z" fill="#62bea5"/><path d="M243.10,136.25 247.85,138.75 247.85,146.90 243.10,149.40 238.35,146.90 238.35,138.75Z" fill="#fbfbbc"/><path d="M252.60,136.25 257.35,138.75 257.35,146.90 252.60,149.40 247.85,146.90 247.85,138.75Z" fill="#62bea5"/><path d="M262.10,136.25 266.85,138.75 266.85,146.90 262.10,149.40 257.35,146.90 257.35,138.75Z" fill="#fbfbbc"/><path d="M271.60,136.25 276.35,138.75 276.35,146.90 271.60,149.40 266.85,146.90 266.85,138.75Z" fill="#46a5ac"/><path d="M281.10,136.25 285.85,138.75 285.85,146.90 281.10,149.40 276.35,146.90 276.35,138.75Z" fill="#a8dba2"/><path d="M290.60,136.25 295.35,138.75 295.35,146.90 290.60,149.40 285.85,146.90 285.85,138.75Z" fill="#a8dba2"/><path d="M300.10,136.25 304.85,138.75 304.85,146.90 300.10,149.40 295.35,146.90 295.35,138.75Z" fill="#3288bd"/><path d="M309.60,136.25 314.35,138.75 314.35,146.90 309.60,149.40 304.85,146.90 304.85,138.75Z" fill="#e4f39a"/><path d="M319.10,136.25 323.85,138.75 323.85,146.90 319.10,149.40 314.35,146.90 314.35,138.75Z" fill="#62bea5"/><path d="M328.60,136.25 333.35,138.75 333.35,146.90 328.60,149.40 323.85,146.90 323.85,138.75Z" fill="#3288bd"/><path d="M338.10,136.25 342.85,138.75 342.85,146.90 338.10,149.40 333.35,146.90 333.35,138.75Z" fill="#f46d43"/><path d="M347.60,136.25 352.35,138.75 352.35,146.90 347.60,149.40 342.85,146.90 342.85,138.75Z" fill="#3288bd"/><path d="M357.10,136.25 361.85,138.75 361.85,146.90 357.10,149.40 352.35,146.90 352.35,138.75Z" fill="#86cfa4"/><path d="M366.60,136.25 371.35,138.75 371.35,146.90 366.60,149.40 361.85,146.90 361.85,138.75Z" fill="#a8dba2"/><path d="M376.10,136.25 380.85,138.75 380.85,146.90 376.10,149.40 371.35,146.90 371.35,138.75Z" fill="#46a5ac"/><path d="M385.60,136.25 390.35,138.75 390.35,146.90 385.60,149.40 380.85,146.90 380.85,138.75Z" fill="#3288bd"/><path d="M395.10,136.25 399.85,138.75 399.85,146.90 395.10,149.40 390.35,146.90 390.35,138.75Z" fill="#fbfbbc"/><path d="M404.60,136.25 409.35,138.75 409.35,146.90 404.60,149.40 399.85,146.90 399.85,138.75Z" fill="#62bea5"/><path d="M414.10,136.25 418.85,138.75 418.85,146.90 414.10,149.40 409.35,146.90 409.35,138.75Z" fill="#c8e89d"/><path d="M228.85,146.90 233.60,149.40 233.60,157.55 228.85,160.05 224.10,157.55 224.10,149.40Z" fill="#f98c4e"/><path d="M238.35,146.90 243.10,149.40 243.10,157.55 238.35,160.05 233.60,157.55 233.60,149.40Z" fill="#62bea5"/><path d="M247.85,146.90 252.60,149.40 252.60,157.55 247.85,160.05 243.10,157.55 243.10,149.40Z" fill="#3288bd"/><path d="M257.35,146.90 262.10,149.40 262.10,157.55 257.35,160.05 252.60,157.55 252.60,149.40Z" fill="#fbfbbc"/><path d="M266.85,146.90 271.60,149.40 271.60,157.55 266.85,160.05 262.10,157.55 262.10,149.40Z" fill="#62bea5"/><path d="M276.35,146.90 281.10,149.40 281.10,157.55 276.35,160.05 271.60,157.55 271.60,149.40Z" fill="#fee293"/><path d="M285.85,146.90 290.60,149.40 290.60,157.55 285.85,160.05 281.10,157.55 281.10,149.40Z" fill="#62bea5"/><path d="M295.35,146.90 300.10,149.40 300.10,157.55 295.35,160.05 290.60,157.55 290.60,149.40Z" fill="#3288bd"/><path d="M304.85,146.90 309.60,149.40 309.60,157.55 304.85,160.05 300.10,157.55 300.10,149.40Z" fill="#3288bd"/><path d="M314.35,146.90 319.10,149.40 319.10,157.55 314.35,160.05 309.60,157.55 309.60,149.40Z" fill="#da434c"/><path d="M323.85,146.90 328.60,149.40 328.60,157.55 323.85,160.05 319.10,157.55 319.10,149.40Z" fill="#46a5ac"/><path d="M333.35,146.90 338.10,149.40 338.10,157.55 333.35,160.05 328.60,157.55 328.60,149.40Z" fill="#3288bd"/><path d="M342.85,146.90 347.60,149.40 347.60,157.55 342.85,160.05 338.10,157.55 338.10,149.40Z" fill="#62bea5"/><path d="M352.35,146.90 357.10,149.40 357.10,157.55 352.35,160.05 347.60,157.55 347.60,149.40Z" fill="#a8dba2"/><path d="M361.85,146.90 366.60,149.40 366.60,157.55 361.85,160.05 357.10,157.55 357.10,149.40Z" fill="#62bea5"/><path d="M371.35,146.90 376.10,149.40 376.10,157.55 371.35,160.05 366.60,157.55 366.60,149.40Z" fill="#3288bd"/><path d="M380.85,146.90 385.60,149.40 385.60,157.55 380.85,160.05 376.10,157.55 376.10,149.40Z" fill="#a8dba2"/><path d="M390.35,146.90 395.10,149.40 395.10,157.55 390.35,160.05 385.60,157.55 385.60,149.40Z" fill="#da434c"/><path d="M399.85,146.90 404.60,149.40 404.60,157.55 399.85,160.05 395.10,157.55 395.10,149.40Z" fill="#f98c4e"/><path d="M409.35,146.90 414.10,149.40 414.10,157.55 409.35,160.05 404.60,157.55 404.60,149.40Z" fill="#3288bd"/><path d="M233.60,157.55 238.35,160.05 238.35,168.20 233.60,170.70 228.85,168.20 228.85,160.05Z" fill="#a8dba2"/><path d="M243.10,157.55 247.85,160.05 247.85,168.20 243.10,170.70 238.35,168.20 238.35,160.05Z" fill="#fee293"/><path d="M252.60,157.55 257.35,160.05 257.35,168.20 252.60,170.70 247.85,168.20 247.85,160.05Z" fill="#62bea5"/><path d="M262.10,157.55 266.85,160.05 266.85,168.20 262.10,170.70 257.35,168.20 257.35,160.05Z" fill="#e4f39a"/><path d="M271.60,157.55 276.35,160.05 276.35,168.20 271.60,170.70 266.85,168.20 266.85,160.05Z" fill="#3288bd"/><path d="M281.10,157.55 285.85,160.05 285.85,168.20 281.10,170.70 276.35,168.20 276.35,160.05Z" fill="#3288bd"/><path d="M290.60,157.55 295.35,160.05 295.35,168.20 290.60,170.70 285.85,168.20 285.85,160.05Z" fill="#46a5ac"/><path d="M300.10,157.55 304.85,160.05 304.85,168.20 300.10,170.70 295.35,168.20 295.35,160.05Z" fill="#fee293"/><path d="M309.60,157.55 314.35,160.05 314.35,168.20 309.60,170.70 304.85,168.20 304.85,160.05Z" fill="#62bea5"/><path d="M319.10,157.55 323.85,160.05 323.85,168.20 319.10,170.70 314.35,168.20 314.35,160.05Z" fill="#62bea5"/><path d="M328.60,157.55 333.35,160.05 333.35,168.20 328.60,170.70 323.85,168.20 323.85,160.05Z" fill="#3288bd"/><path d="M338.10,157.55 342.85,160.05 342.85,168.20 338.10,170.70 333.35,168.20 333.35,160.05Z" fill="#86cfa4"/><path d="M347.60,157.55 352.35,160.05 352.35,168.20 347.60,170.70 342.85,168.20 342.85,160.05Z" fill="#46a5ac"/><path d="M357.10,157.55 361.85,160.05 361.85,168.20 357.10,170.70 352.35,168.20 352.35,160.05Z" fill="#3288bd"/><path d="M366.60,157.55 371.35,160.05 371.35,168.20 366.60,170.70 361.85,168.20 361.85,160.05Z" fill="#3288bd"/><path d="M376.10,157.55 380.85,160.05 380.85,168.20 376.10,170.70 371.35,168.20 371.35,160.05Z" fill="#3288bd"/><path d="M385.60,157.55 390.35,160.05 390.35,168.20 385.60,170.70 380.85,168.20 380.85,160.05Z" fill="#46a5ac"/><path d="M395.10,157.55 399.85,160.05 399.85,168.20 395.10,170.70 390.35,168.20 390.35,160.05Z" fill="#3288bd"/><path d="M404.60,157.55 409.35,160.05 409.35,168.20 404.60,170.70 399.85,168.20 399.85,160.05Z" fill="#46a5ac"/><path d="M414.10,157.55 418.85,160.05 418.85,168.20 414.10,170.70 409.35,168.20 409.35,160.05Z" fill="#46a5ac"/><path d="M228.85,168.20 233.60,170.70 233.60,178.85 228.85,181.35 224.10,178.85 224.10,170.70Z" fill="#3288bd"/><path d="M238.35,168.20 243.10,170.70 243.10,178.85 238.35,181.35 233.60,178.85 233.60,170.70Z" fill="#da434c"/><path d="M247.85,168.20 252.60,170.70 252.60,178.85 247.85,181.35 243.10,178.85 243.10,170.70Z" fill="#62bea5"/><path d="M257.35,168.20 262.10,170.70 262.10,178.85 257.35,181.35 252.60,178.85 252.60,170.70Z" fill="#46a5ac"/><path d="M266.85,168.20 271.60,170.70 271.60,178.85 266.85,181.35 262.10,178.85 262.10,170.70Z" fill="#3288bd"/><path d="M276.35,168.20 281.10,170.70 281.10,178.85 276.35,181.35 271.60,178.85 271.60,170.70Z" fill="#3288bd"/><path d="M285.85,168.20 290.60,170.70 290.60,178.85 285.85,181.35 281.10,178.85 281.10,170.70Z" fill="#46a5ac"/><path d="M295.35,168.20 300.10,170.70 300.10,178.85 295.35,181.35 290.60,178.85 290.60,170.70Z" fill="#46a5ac"/><path d="M304.85,168.20 309.60,170.70 309.60,178.85 304.85,181.35 300.10,178.85 300.10,170.70Z" fill="#3288bd"/><path d="M314.35,168.20 319.10,170.70 319.10,178.85 314.35,181.35 309.60,178.85 309.60,170.70Z" fill="#3288bd"/><path d="M323.85,168.20 328.60,170.70 328.60,178.85 323.85,181.35 319.10,178.85 319.10,170.70Z" fill="#86cfa4"/><path d="M333.35,168.20 338.10,170.70 338.10,178.85 333.35,181.35 328.60,178.85 328.60,170.70Z" fill="#fee293"/><path d="M342.85,168.20 347.60,170.70 347.60,178.85 342.85,181.35 338.10,178.85 338.10,170.70Z" fill="#fbfbbc"/><path d="M352.35,168.20 357.10,170.70 357.10,178.85 352.35,181.35 347.60,178.85 347.60,170.70Z" fill="#62bea5"/><path d="M361.85,168.20 366.60,170.70 366.60,178.85 361.85,181.35 357.10,178.85 357.10,170.70Z" fill="#fbfbbc"/><path d="M371.35,168.20 376.10,170.70 376.10,178.85 371.35,181.35 366.60,178.85 366.60,170.70Z" fill="#3288bd"/><path d="M380.85,168.20 385.60,170.70 385.60,178.85 380.85,181.35 376.10,178.85 376.10,170.70Z" fill="#62bea5"/><path d="M390.35,168.20 395.10,170.70 395.10,178.85 390.35,181.35 385.60,178.85 385.60,170.70Z" fill="#3288bd"/><path d="M399.85,168.20 404.60,170.70 404.60,178.85 399.85,181.35 395.10,178.85 395.10,170.70Z" fill="#3288bd"/><path d="M409.35,168.20 414.10,170.70 414.10,178.85 409.35,181.35 404.60,178.85 404.60,170.70Z" fill="#e4f39a"/><path d="M233.60,178.85 238.35,181.35 238.35,189.50 233.60,192.00 228.85,189.50 228.85,181.35Z" fill="#3288bd"/><path d="M243.10,178.85 247.85,181.35 247.85,189.50 243.10,192.00 238.35,189.50 238.35,181.35Z" fill="#fee293"/><path d="M252.60,178.85 257.35,181.35 257.35,189.50 252.60,192.00 247.85,189.50 247.85,181.35Z" fill="#62bea5"/><path d="M262.10,178.85 266.85,181.35 266.85,189.50 262.10,192.00 257.35,189.50 257.35,181.35Z" fill="#fee293"/><path d="M271.60,178.85 276.35,181.35 276.35,189.50 271.60,192.00 266.85,189.50 266.85,181.35Z" fill="#f46d43"/><path d="M281.10,178.85 285.85,181.35 285.85,189.50 281.10,192.00 276.35,189.50 276.35,181.35Z" fill="#62bea5"/><path d="M290.60,178.85 295.35,181.35 295.35,189.50 290.60,192.00 285.85,189.50 285.85,181.35Z" fill="#f46d43"/><path d="M300.10,178.85 304.85,181.35 304.85,189.50 300.10,192.00 295.35,189.50 295.35,181.35Z" fill="#f98c4e"/><path d="M309.60,178.85 314.35,181.35 314.35,189.50 309.60,192.00 304.85,189.50 304.85,181.35Z" fill="#86cfa4"/><path d="M319.10,178.85 323.85,181.35 323.85,189.50 319.10,192.00 314.35,189.50 314.35,181.35Z" fill="#46a5ac"/><path d="M328.60,178.85 333.35,181.35 333.35,189.50 328.60,192.00 323.85,189.50 323.85,181.35Z" fill="#fdb063"/><path d="M338.10,178.85 342.85,181.35 342.85,189.50 338.10,192.00 333.35,189.50 333.35,181.35Z" fill="#f46d43"/><path d="M347.60,178.85 352.35,181.35 352.35,189.50 347.60,192.00 342.85,189.50 342.85,181.35Z" fill="#62bea5"/><path d="M357.10,178.85 361.85,181.35 361.85,189.50 357.10,192.00 352.35,189.50 352.35,181.35Z" fill="#3288bd"/><path d="M366.60,178.85 371.35,181.35 371.35,189.50 366.60,192.00 361.85,189.50 361.85,181.35Z" fill="#e4f39a"/><path d="M376.10,178.85 380.85,181.35 380.85,189.50 376.10,192.00 371.35,189.50 371.35,181.35Z" fill="#62bea5"/><path d="M385.60,178.85 390.35,181.35 390.35,189.50 385.60,192.00 380.85,189.50 380.85,181.35Z" fill="#f98c4e"/><path d="M395.10,178.85 399.85,181.35 399.85,189.50 395.10,192.00 390.35,189.50 390.35,181.35Z" fill="#fbfbbc"/><path d="M404.60,178.85 409.35,181.35 409.35,189.50 404.60,192.00 399.85,189.50 399.85,181.35Z" fill="#62bea5"/><path d="M414.10,178.85 418.85,181.35 418.85,189.50 414.10,192.00 409.35,189.50 409.35,181.35Z" fill="#86cfa4"/><path d="M228.85,189.50 233.60,192.00 233.60,200.15 228.85,202.65 224.10,200.15 224.10,192.00Z" fill="#f98c4e"/><path d="M238.35,189.50 243.10,192.00 243.10,200.15 238.35,202.65 233.60,200.15 233.60,192.00Z" fill="#3288bd"/><path d="M247.85,189.50 252.60,192.00 252.60,200.15 247.85,202.65 243.10,200.15 243.10,192.00Z" fill="#62bea5"/><path d="M257.35,189.50 262.10,192.00 262.10,200.15 257.35,202.65 252.60,200.15 252.60,192.00Z" fill="#62bea5"/><path d="M266.85,189.50 271.60,192.00 271.60,200.15 266.85,202.65 262.10,200.15 262.10,192.00Z" fill="#f46d43"/><path d="M276.35,189.50 281.10,192.00 281.10,200.15 276.35,202.65 271.60,200.15 271.60,192.00Z" fill="#62bea5"/><path d="M285.85,189.50 290.60,192.00 290.60,200.15 285.85,202.65 281.10,200.15 281.10,192.00Z" fill="#46a5ac"/><path d="M295.35,189.50 300.10,192.00 300.10,200.15 295.35,202.65 290.60,200.15 290.60,192.00Z" fill="#46a5ac"/><path d="M304.85,189.50 309.60,192.00 309.60,200.15 304.85,202.65 300.10,200.15 300.10,192.00Z" fill="#a8dba2"/><path d="M314.35,189.50 319.10,192.00 319.10,200.15 314.35,202.65 309.60,200.15 309.60,192.00Z" fill="#86cfa4"/><path d="M323.85,189.50 328.60,192.00 328.60,200.15 323.85,202.65 319.10,200.15 319.10,192.00Z" fill="#c8e89d"/><path d="M333.35,189.50 338.10,192.00 338.10,200.15 333.35,202.65 328.60,200.15 328.60,192.00Z" fill="#a8dba2"/><path d="M342.85,189.50 347.60,192.00 347.60,200.15 342.85,202.65 338.10,200.15 338.10,192.00Z" fill="#3288bd"/><path d="M352.35,189.50 357.10,192.00 357.10,200.15 352.35,202.65 347.60,200.15 347.60,192.00Z" fill="#3288bd"/><path d="M361.85,189.50 366.60,192.00 366.60,200.15 361.85,202.65 357.10,200.15 357.10,192.00Z" fill="#46a5ac"/><path d="M371.35,189.50 376.10,192.00 376.10,200.15 371.35,202.65 366.60,200.15 366.60,192.00Z" fill="#3288bd"/><path d="M380.85,189.50 385.60,192.00 385.60,200.15 380.85,202.65 376.10,200.15 376.10,192.00Z" fill="#c8e89d"/><path d="M390.35,189.50 395.10,192.00 395.10,200.15 390.35,202.65 385.60,200.15 385.60,192.00Z" fill="#a8dba2"/><path d="M399.85,189.50 404.60,192.00 404.60,200.15 399.85,202.65 395.10,200.15 395.10,192.00Z" fill="#62bea5"/><path d="M409.35,189.50 414.10,192.00 414.10,200.15 409.35,202.65 404.60,200.15 404.60,192.00Z" fill="#fbfbbc"/><path d="M233.60,200.15 238.35,202.65 238.35,210.80 233.60,213.30 228.85,210.80 228.85,202.65Z" fill="#62bea5"/><path d="M243.10,200.15 247.85,202.65 247.85,210.80 243.10,213.30 238.35,210.80 238.35,202.65Z" fill="#46a5ac"/><path d="M252.60,200.15 257.35,202.65 257.35,210.80 252.60,213.30 247.85,210.80 247.85,202.65Z" fill="#86cfa4"/><path d="M262.10,200.15 266.85,202.65 266.85,210.80 262.10,213.30 257.35,210.80 257.35,202.65Z" fill="#46a5ac"/><path d="M271.60,200.15 276.35,202.65 276.35,210.80 271.60,213.30 266.85,210.80 266.85,202.65Z" fill="#3288bd"/><path d="M281.10,200.15 285.85,202.65 285.85,210.80 281.10,213.30 276.35,210.80 276.35,202.65Z" fill="#46a5ac"/><path d="M290.60,200.15 295.35,202.65 295.35,210.80 290.60,213.30 285.85,210.80 285.85,202.65Z" fill="#3288bd"/><path d="M300.10,200.15 304.85,202.65 304.85,210.80 300.10,213.30 295.35,210.80 295.35,202.65Z" fill="#c8e89d"/><path d="M309.60,200.15 314.35,202.65 314.35,210.80 309.60,213.30 304.85,210.80 304.85,202.65Z" fill="#a8dba2"/><path d="M319.10,200.15 323.85,202.65 323.85,210.80 319.10,213.30 314.35,210.80 314.35,202.65Z" fill="#46a5ac"/><path d="M328.60,200.15 333.35,202.65 333.35,210.80 328.60,213.30 323.85,210.80 323.85,202.65Z" fill="#46a5ac"/><path d="M338.10,200.15 342.85,202.65 342.85,210.80 338.10,213.30 333.35,210.80 333.35,202.65Z" fill="#46a5ac"/><path d="M347.60,200.15 352.35,202.65 352.35,210.80 347.60,213.30 342.85,210.80 342.85,202.65Z" fill="#46a5ac"/><path d="M357.10,200.15 361.85,202.65 361.85,210.80 357.10,213.30 352.35,210.80 352.35,202.65Z" fill="#a8dba2"/><path d="M366.60,200.15 371.35,202.65 371.35,210.80 366.60,213.30 361.85,210.80 361.85,202.65Z" fill="#e4f39a"/><path d="M376.10,200.15 380.85,202.65 380.85,210.80 376.10,213.30 371.35,210.80 371.35,202.65Z" fill="#3288bd"/><path d="M385.60,200.15 390.35,202.65 390.35,210.80 385.60,213.30 380.85,210.80 380.85,202.65Z" fill="#3288bd"/><path d="M395.10,200.15 399.85,202.65 399.85,210.80 395.10,213.30 390.35,210.80 390.35,202.65Z" fill="#62bea5"/><path d="M404.60,200.15 409.35,202.65 409.35,210.80 404.60,213.30 399.85,210.80 399.85,202.65Z" fill="#86cfa4"/><path d="M414.10,200.15 418.85,202.65 418.85,210.80 414.10,213.30 409.35,210.80 409.35,202.65Z" fill="#86cfa4"/><path d="M228.85,210.80 233.60,213.30 233.60,221.45 228.85,223.95 224.10,221.45 224.10,213.30Z" fill="#a8dba2"/><path d="M238.35,210.80 243.10,213.30 243.10,221.45 238.35,223.95 233.60,221.45 233.60,213.30Z" fill="#62bea5"/><path d="M247.85,210.80 252.60,213.30 252.60,221.45 247.85,223.95 243.10,221.45 243.10,213.30Z" fill="#a8dba2"/><path d="M257.35,210.80 262.10,213.30 262.10,221.45 257.35,223.95 252.60,221.45 252.60,213.30Z" fill="#62bea5"/><path d="M266.85,210.80 271.60,213.30 271.60,221.45 266.85,223.95 262.10,221.45 262.10,213.30Z" fill="#46a5ac"/><path d="M276.35,210.80 281.10,213.30 281.10,221.45 276.35,223.95 271.60,221.45 271.60,213.30Z" fill="#46a5ac"/><path d="M285.85,210.80 290.60,213.30 290.60,221.45 285.85,223.95 281.10,221.45 281.10,213.30Z" fill="#62bea5"/><path d="M295.35,210.80 300.10,213.30 300.10,221.45 295.35,223.95 290.60,221.45 290.60,213.30Z" fill="#3288bd"/><path d="M304.85,210.80 309.60,213.30 309.60,221.45 304.85,223.95 300.10,221.45 300.10,213.30Z" fill="#a8dba2"/><path d="M314.35,210.80 319.10,213.30 319.10,221.45 314.35,223.95 309.60,221.45 309.60,213.30Z" fill="#86cfa4"/><path d="M323.85,210.80 328.60,213.30 328.60,221.45 323.85,223.95 319.10,221.45 319.10,213.30Z" fill="#62bea5"/><path d="M333.35,210.80 338.10,213.30 338.10,221.45 333.35,223.95 328.60,221.45 328.60,213.30Z" fill="#a8dba2"/><path d="M342.85,210.80 347.60,213.30 347.60,221.45 342.85,223.95 338.10,221.45 338.10,213.30Z" fill="#a8dba2"/><path d="M352.35,210.80 357.10,213.30 357.10,221.45 352.35,223.95 347.60,221.45 347.60,213.30Z" fill="#a8dba2"/><path d="M361.85,210.80 366.60,213.30 366.60,221.45 361.85,223.95 357.10,221.45 357.10,213.30Z" fill="#3288bd"/><path d="M371.35,210.80 376.10,213.30 376.10,221.45 371.35,223.95 366.60,221.45 366.60,213.30Z" fill="#46a5ac"/><path d="M380.85,210.80 385.60,213.30 385.60,221.45 380.85,223.95 376.10,221.45 376.10,213.30Z" fill="#46a5ac"/><path d="M390.35,210.80 395.10,213.30 395.10,221.45 390.35,223.95 385.60,221.45 385.60,213.30Z" fill="#62bea5"/><path d="M399.85,210.80 404.60,213.30 404.60,221.45 399.85,223.95 395.10,221.45 395.10,213.30Z" fill="#3288bd"/><path d="M409.35,210.80 414.10,213.30 414.10,221.45 409.35,223.95 404.60,221.45 404.60,213.30Z" fill="#62bea5"/><path d="M233.60,221.45 238.35,223.95 238.35,232.10 233.60,234.60 228.85,232.10 228.85,223.95Z" fill="#62bea5"/><path d="M243.10,221.45 247.85,223.95 247.85,232.10 243.10,234.60 238.35,232.10 238.35,223.95Z" fill="#62bea5"/><path d="M252.60,221.45 257.35,223.95 257.35,232.10 252.60,234.60 247.85,232.10 247.85,223.95Z" fill="#86cfa4"/><path d="M262.10,221.45 266.85,223.95 266.85,232.10 262.10,234.60 257.35,232.10 257.35,223.95Z" fill="#a8dba2"/><path d="M271.60,221.45 276.35,223.95 276.35,232.10 271.60,234.60 266.85,232.10 266.85,223.95Z" fill="#3288bd"/><path d="M281.10,221.45 285.85,223.95 285.85,232.10 281.10,234.60 276.35,232.10 276.35,223.95Z" fill="#3288bd"/><path d="M290.60,221.45 295.35,223.95 295.35,232.10 290.60,234.60 285.85,232.10 285.85,223.95Z" fill="#46a5ac"/><path d="M300.10,221.45 304.85,223.95 304.85,232.10 300.10,234.60 295.35,232.10 295.35,223.95Z" fill="#46a5ac"/><path d="M309.60,221.45 314.35,223.95 314.35,232.10 309.60,234.60 304.85,232.10 304.85,223.95Z" fill="#86cfa4"/><path d="M319.10,221.45 323.85,223.95 323.85,232.10 319.10,234.60 314.35,232.10 314.35,223.95Z" fill="#46a5ac"/><path d="M328.60,221.45 333.35,223.95 333.35,232.10 328.60,234.60 323.85,232.10 323.85,223.95Z" fill="#86cfa4"/><path d="M338.10,221.45 342.85,223.95 342.85,232.10 338.10,234.60 333.35,232.10 333.35,223.95Z" fill="#3288bd"/><path d="M347.60,221.45 352.35,223.95 352.35,232.10 347.60,234.60 342.85,232.10 342.85,223.95Z" fill="#62bea5"/><path d="M357.10,221.45 361.85,223.95 361.85,232.10 357.10,234.60 352.35,232.10 352.35,223.95Z" fill="#62bea5"/><path d="M366.60,221.45 371.35,223.95 371.35,232.10 366.60,234.60 361.85,232.10 361.85,223.95Z" fill="#46a5ac"/><path d="M376.10,221.45 380.85,223.95 380.85,232.10 376.10,234.60 371.35,232.10 371.35,223.95Z" fill="#46a5ac"/><path d="M385.60,221.45 390.35,223.95 390.35,232.10 385.60,234.60 380.85,232.10 380.85,223.95Z" fill="#3288bd"/><path d="M395.10,221.45 399.85,223.95 399.85,232.10 395.10,234.60 390.35,232.10 390.35,223.95Z" fill="#86cfa4"/><path d="M404.60,221.45 409.35,223.95 409.35,232.10 404.60,234.60 399.85,232.10 399.85,223.95Z" fill="#c8e89d"/><path d="M414.10,221.45 418.85,223.95 418.85,232.10 414.10,234.60 409.35,232.10 409.35,223.95Z" fill="#46a5ac"/><path d="M228.85,232.10 233.60,234.60 233.60,242.75 228.85,245.25 224.10,242.75 224.10,234.60Z" fill="#f46d43"/><path d="M238.35,232.10 243.10,234.60 243.10,242.75 238.35,245.25 233.60,242.75 233.60,234.60Z" fill="#86cfa4"/><path d="M247.85,232.10 252.60,234.60 252.60,242.75 247.85,245.25 243.10,242.75 243.10,234.60Z" fill="#c8e89d"/><path d="M257.35,232.10 262.10,234.60 262.10,242.75 257.35,245.25 252.60,242.75 252.60,234.60Z" fill="#62bea5"/><path d="M266.85,232.10 271.60,234.60 271.60,242.75 266.85,245.25 262.10,242.75 262.10,234.60Z" fill="#c8e89d"/><path d="M276.35,232.10 281.10,234.60 281.10,242.75 276.35,245.25 271.60,242.75 271.60,234.60Z" fill="#e4f39a"/><path d="M285.85,232.10 290.60,234.60 290.60,242.75 285.85,245.25 281.10,242.75 281.10,234.60Z" fill="#c8e89d"/><path d="M295.35,232.10 300.10,234.60 300.10,242.75 295.35,245.25 290.60,242.75 290.60,234.60Z" fill="#a8dba2"/><path d="M304.85,232.10 309.60,234.60 309.60,242.75 304.85,245.25 300.10,242.75 300.10,234.60Z" fill="#fbfbbc"/><path d="M314.35,232.10 319.10,234.60 319.10,242.75 314.35,245.25 309.60,242.75 309.60,234.60Z" fill="#a8dba2"/><path d="M323.85,232.10 328.60,234.60 328.60,242.75 323.85,245.25 319.10,242.75 319.10,234.60Z" fill="#c8e89d"/><path d="M333.35,232.10 338.10,234.60 338.10,242.75 333.35,245.25 328.60,242.75 328.60,234.60Z" fill="#86cfa4"/><path d="M342.85,232.10 347.60,234.60 347.60,242.75 342.85,245.25 338.10,242.75 338.10,234.60Z" fill="#86cfa4"/><path d="M352.35,232.10 357.10,234.60 357.10,242.75 352.35,245.25 347.60,242.75 347.60,234.60Z" fill="#fbfbbc"/><path d="M361.85,232.10 366.60,234.60 366.60,242.75 361.85,245.25 357.10,242.75 357.10,234.60Z" fill="#c8e89d"/><path d="M371.35,232.10 376.10,234.60 376.10,242.75 371.35,245.25 366.60,242.75 366.60,234.60Z" fill="#46a5ac"/><path d="M380.85,232.10 385.60,234.60 385.60,242.75 380.85,245.25 376.10,242.75 376.10,234.60Z" fill="#3288bd"/><path d="M390.35,232.10 395.10,234.60 395.10,242.75 390.35,245.25 385.60,242.75 385.60,234.60Z" fill="#86cfa4"/><path d="M399.85,232.10 404.60,234.60 404.60,242.75 399.85,245.25 395.10,242.75 395.10,234.60Z" fill="#da434c"/><path d="M409.35,232.10 414.10,234.60 414.10,242.75 409.35,245.25 404.60,242.75 404.60,234.60Z" fill="#62bea5"/><path d="M233.60,242.75 238.35,245.25 238.35,253.40 233.60,255.90 228.85,253.40 228.85,245.25Z" fill="#86cfa4"/><path d="M243.10,242.75 247.85,245.25 247.85,253.40 243.10,255.90 238.35,253.40 238.35,245.25Z" fill="#3288bd"/><path d="M252.60,242.75 257.35,245.25 257.35,253.40 252.60,255.90 247.85,253.40 247.85,245.25Z" fill="#46a5ac"/><path d="M262.10,242.75 266.85,245.25 266.85,253.40 262.10,255.90 257.35,253.40 257.35,245.25Z" fill="#e4f39a"/><path d="M271.60,242.75 276.35,245.25 276.35,253.40 271.60,255.90 266.85,253.40 266.85,245.25Z" fill="#a8dba2"/><path d="M281.10,242.75 285.85,245.25 285.85,253.40 281.10,255.90 276.35,253.40 276.35,245.25Z" fill="#86cfa4"/><path d="M290.60,242.75 295.35,245.25 295.35,253.40 290.60,255.90 285.85,253.40 285.85,245.25Z" fill="#86cfa4"/><path d="M300.10,242.75 304.85,245.25 304.85,253.40 300.10,255.90 295.35,253.40 295.35,245.25Z" fill="#e4f39a"/><path d="M309.60,242.75 314.35,245.25 314.35,253.40 309.60,255.90 304.85,253.40 304.85,245.25Z" fill="#fee293"/><path d="M319.10,242.75 323.85,245.25 323.85,253.40 319.10,255.90 314.35,253.40 314.35,245.25Z" fill="#c8e89d"/><path d="M328.60,242.75 333.35,245.25 333.35,253.40 328.60,255.90 323.85,253.40 323.85,245.25Z" fill="#86cfa4"/><path d="M338.10,242.75 342.85,245.25 342.85,253.40 338.10,255.90 333.35,253.40 333.35,245.25Z" fill="#a8dba2"/><path d="M347.60,242.75 352.35,245.25 352.35,253.40 347.60,255.90 342.85,253.40 342.85,245.25Z" fill="#c8e89d"/><path d="M357.10,242.75 361.85,245.25 361.85,253.40 357.10,255.90 352.35,253.40 352.35,245.25Z" fill="#c8e89d"/><path d="M366.60,242.75 371.35,245.25 371.35,253.40 366.60,255.90 361.85,253.40 361.85,245.25Z" fill="#86cfa4"/><path d="M376.10,242.75 380.85,245.25 380.85,253.40 376.10,255.90 371.35,253.40 371.35,245.25Z" fill="#86cfa4"/><path d="M385.60,242.75 390.35,245.25 390.35,253.40 385.60,255.90 380.85,253.40 380.85,245.25Z" fill="#a8dba2"/><path d="M395.10,242.75 399.85,245.25 399.85,253.40 395.10,255.90 390.35,253.40 390.35,245.25Z" fill="#46a5ac"/><path d="M404.60,242.75 409.35,245.25 409.35,253.40 404.60,255.90 399.85,253.40 399.85,245.25Z" fill="#46a5ac"/><path d="M414.10,242.75 418.85,245.25 418.85,253.40 414.10,255.90 409.35,253.40 409.35,245.25Z" fill="#c8e89d"/></g>
<g font-size="5.2" fill="#555" text-anchor="middle"><text x="228.10" y="37.70">a</text><text x="237.70" y="37.70">b</text><text x="247.31" y="37.70">c</text><text x="256.92" y="37.70">d</text><text x="266.52" y="37.70">e</text><text x="276.12" y="37.70">f</text><text x="285.73" y="37.70">g</text><text x="295.33" y="37.70">h</text><text x="304.94" y="37.70">i</text><text x="314.55" y="37.70">j</text><text x="324.15" y="37.70">k</text><text x="333.75" y="37.70">l</text><text x="343.36" y="37.70">m</text><text x="352.97" y="37.70">n</text><text x="362.57" y="37.70">o</text><text x="372.18" y="37.70">p</text><text x="381.78" y="37.70">q</text><text x="391.38" y="37.70">r</text><text x="400.99" y="37.70">s</text><text x="410.60" y="37.70">t</text></g>
<g font-size="6.2" fill="#333" text-anchor="middle"><text transform="translate(425.40,50.18) scale(0.92,1)">1</text><text transform="translate(425.40,60.83) scale(0.92,1)">2</text><text transform="translate(425.40,71.48) scale(0.92,1)">3</text><text transform="translate(425.40,82.12) scale(0.92,1)">4</text><text transform="translate(425.40,92.78) scale(0.92,1)">5</text><text transform="translate(425.40,103.43) scale(0.92,1)">6</text><text transform="translate(425.40,114.08) scale(0.92,1)">7</text><text transform="translate(425.40,124.72) scale(0.92,1)">8</text><text transform="translate(425.40,135.37) scale(0.92,1)">9</text><text transform="translate(425.40,146.02) scale(0.92,1)">10</text><text transform="translate(425.40,156.67) scale(0.92,1)">11</text><text transform="translate(425.40,167.32) scale(0.92,1)">12</text><text transform="translate(425.40,177.97) scale(0.92,1)">13</text><text transform="translate(425.40,188.62) scale(0.92,1)">14</text><text transform="translate(425.40,199.27) scale(0.92,1)">15</text><text transform="translate(425.40,209.92) scale(0.92,1)">16</text><text transform="translate(425.40,220.57) scale(0.92,1)">17</text><text transform="translate(425.40,231.22) scale(0.92,1)">18</text><text transform="translate(425.40,241.88) scale(0.92,1)">19</text><text transform="translate(425.40,252.52) scale(0.92,1)">20</text></g>
<g stroke="#45453c" stroke-width="0.65" stroke-opacity="0.8"><path d="M439.67,39.50 444.44,42.00 444.44,50.16 439.67,52.66 434.90,50.16 434.90,42.00Z" fill="#62bea5"/><path d="M449.21,39.50 453.98,42.00 453.98,50.16 449.21,52.66 444.44,50.16 444.44,42.00Z" fill="#fdb063"/><path d="M458.75,39.50 463.52,42.00 463.52,50.16 458.75,52.66 453.98,50.16 453.98,42.00Z" fill="#e4f39a"/><path d="M468.29,39.50 473.06,42.00 473.06,50.16 468.29,52.66 463.52,50.16 463.52,42.00Z" fill="#da434c"/><path d="M477.83,39.50 482.60,42.00 482.60,50.16 477.83,52.66 473.06,50.16 473.06,42.00Z" fill="#fbfbbc"/><path d="M487.37,39.50 492.14,42.00 492.14,50.16 487.37,52.66 482.60,50.16 482.60,42.00Z" fill="#c8e89d"/><path d="M496.91,39.50 501.68,42.00 501.68,50.16 496.91,52.66 492.14,50.16 492.14,42.00Z" fill="#3288bd"/><path d="M506.45,39.50 511.22,42.00 511.22,50.16 506.45,52.66 501.68,50.16 501.68,42.00Z" fill="#a8dba2"/><path d="M515.99,39.50 520.76,42.00 520.76,50.16 515.99,52.66 511.22,50.16 511.22,42.00Z" fill="#86cfa4"/><path d="M525.53,39.50 530.30,42.00 530.30,50.16 525.53,52.66 520.76,50.16 520.76,42.00Z" fill="#46a5ac"/><path d="M535.07,39.50 539.84,42.00 539.84,50.16 535.07,52.66 530.30,50.16 530.30,42.00Z" fill="#62bea5"/><path d="M544.61,39.50 549.38,42.00 549.38,50.16 544.61,52.66 539.84,50.16 539.84,42.00Z" fill="#3288bd"/><path d="M554.15,39.50 558.92,42.00 558.92,50.16 554.15,52.66 549.38,50.16 549.38,42.00Z" fill="#e4f39a"/><path d="M563.69,39.50 568.46,42.00 568.46,50.16 563.69,52.66 558.92,50.16 558.92,42.00Z" fill="#3288bd"/><path d="M573.23,39.50 578.00,42.00 578.00,50.16 573.23,52.66 568.46,50.16 568.46,42.00Z" fill="#e4f39a"/><path d="M582.77,39.50 587.54,42.00 587.54,50.16 582.77,52.66 578.00,50.16 578.00,42.00Z" fill="#c8e89d"/><path d="M592.31,39.50 597.08,42.00 597.08,50.16 592.31,52.66 587.54,50.16 587.54,42.00Z" fill="#a8dba2"/><path d="M601.85,39.50 606.62,42.00 606.62,50.16 601.85,52.66 597.08,50.16 597.08,42.00Z" fill="#e4f39a"/><path d="M611.39,39.50 616.16,42.00 616.16,50.16 611.39,52.66 606.62,50.16 606.62,42.00Z" fill="#e4f39a"/><path d="M620.93,39.50 625.70,42.00 625.70,50.16 620.93,52.66 616.16,50.16 616.16,42.00Z" fill="#86cfa4"/><path d="M444.44,50.16 449.21,52.66 449.21,60.82 444.44,63.32 439.67,60.82 439.67,52.66Z" fill="#e4f39a"/><path d="M453.98,50.16 458.75,52.66 458.75,60.82 453.98,63.32 449.21,60.82 449.21,52.66Z" fill="#e4f39a"/><path d="M463.52,50.16 468.29,52.66 468.29,60.82 463.52,63.32 458.75,60.82 458.75,52.66Z" fill="#86cfa4"/><path d="M473.06,50.16 477.83,52.66 477.83,60.82 473.06,63.32 468.29,60.82 468.29,52.66Z" fill="#f46d43"/><path d="M482.60,50.16 487.37,52.66 487.37,60.82 482.60,63.32 477.83,60.82 477.83,52.66Z" fill="#3288bd"/><path d="M492.14,50.16 496.91,52.66 496.91,60.82 492.14,63.32 487.37,60.82 487.37,52.66Z" fill="#fbfbbc"/><path d="M501.68,50.16 506.45,52.66 506.45,60.82 501.68,63.32 496.91,60.82 496.91,52.66Z" fill="#fee293"/><path d="M511.22,50.16 515.99,52.66 515.99,60.82 511.22,63.32 506.45,60.82 506.45,52.66Z" fill="#c8e89d"/><path d="M520.76,50.16 525.53,52.66 525.53,60.82 520.76,63.32 515.99,60.82 515.99,52.66Z" fill="#e4f39a"/><path d="M530.30,50.16 535.07,52.66 535.07,60.82 530.30,63.32 525.53,60.82 525.53,52.66Z" fill="#c8e89d"/><path d="M539.84,50.16 544.61,52.66 544.61,60.82 539.84,63.32 535.07,60.82 535.07,52.66Z" fill="#fee293"/><path d="M549.38,50.16 554.15,52.66 554.15,60.82 549.38,63.32 544.61,60.82 544.61,52.66Z" fill="#62bea5"/><path d="M558.92,50.16 563.69,52.66 563.69,60.82 558.92,63.32 554.15,60.82 554.15,52.66Z" fill="#fbfbbc"/><path d="M568.46,50.16 573.23,52.66 573.23,60.82 568.46,63.32 563.69,60.82 563.69,52.66Z" fill="#a8dba2"/><path d="M578.00,50.16 582.77,52.66 582.77,60.82 578.00,63.32 573.23,60.82 573.23,52.66Z" fill="#62bea5"/><path d="M587.54,50.16 592.31,52.66 592.31,60.82 587.54,63.32 582.77,60.82 582.77,52.66Z" fill="#3288bd"/><path d="M597.08,50.16 601.85,52.66 601.85,60.82 597.08,63.32 592.31,60.82 592.31,52.66Z" fill="#86cfa4"/><path d="M606.62,50.16 611.39,52.66 611.39,60.82 606.62,63.32 601.85,60.82 601.85,52.66Z" fill="#3288bd"/><path d="M616.16,50.16 620.93,52.66 620.93,60.82 616.16,63.32 611.39,60.82 611.39,52.66Z" fill="#86cfa4"/><path d="M625.70,50.16 630.47,52.66 630.47,60.82 625.70,63.32 620.93,60.82 620.93,52.66Z" fill="#e4f39a"/><path d="M439.67,60.82 444.44,63.32 444.44,71.48 439.67,73.98 434.90,71.48 434.90,63.32Z" fill="#e4f39a"/><path d="M449.21,60.82 453.98,63.32 453.98,71.48 449.21,73.98 444.44,71.48 444.44,63.32Z" fill="#a8dba2"/><path d="M458.75,60.82 463.52,63.32 463.52,71.48 458.75,73.98 453.98,71.48 453.98,63.32Z" fill="#e4f39a"/><path d="M468.29,60.82 473.06,63.32 473.06,71.48 468.29,73.98 463.52,71.48 463.52,63.32Z" fill="#46a5ac"/><path d="M477.83,60.82 482.60,63.32 482.60,71.48 477.83,73.98 473.06,71.48 473.06,63.32Z" fill="#c8e89d"/><path d="M487.37,60.82 492.14,63.32 492.14,71.48 487.37,73.98 482.60,71.48 482.60,63.32Z" fill="#86cfa4"/><path d="M496.91,60.82 501.68,63.32 501.68,71.48 496.91,73.98 492.14,71.48 492.14,63.32Z" fill="#e4f39a"/><path d="M506.45,60.82 511.22,63.32 511.22,71.48 506.45,73.98 501.68,71.48 501.68,63.32Z" fill="#62bea5"/><path d="M515.99,60.82 520.76,63.32 520.76,71.48 515.99,73.98 511.22,71.48 511.22,63.32Z" fill="#f98c4e"/><path d="M525.53,60.82 530.30,63.32 530.30,71.48 525.53,73.98 520.76,71.48 520.76,63.32Z" fill="#a8dba2"/><path d="M535.07,60.82 539.84,63.32 539.84,71.48 535.07,73.98 530.30,71.48 530.30,63.32Z" fill="#46a5ac"/><path d="M544.61,60.82 549.38,63.32 549.38,71.48 544.61,73.98 539.84,71.48 539.84,63.32Z" fill="#62bea5"/><path d="M554.15,60.82 558.92,63.32 558.92,71.48 554.15,73.98 549.38,71.48 549.38,63.32Z" fill="#fbfbbc"/><path d="M563.69,60.82 568.46,63.32 568.46,71.48 563.69,73.98 558.92,71.48 558.92,63.32Z" fill="#3288bd"/><path d="M573.23,60.82 578.00,63.32 578.00,71.48 573.23,73.98 568.46,71.48 568.46,63.32Z" fill="#a8dba2"/><path d="M582.77,60.82 587.54,63.32 587.54,71.48 582.77,73.98 578.00,71.48 578.00,63.32Z" fill="#3288bd"/><path d="M592.31,60.82 597.08,63.32 597.08,71.48 592.31,73.98 587.54,71.48 587.54,63.32Z" fill="#3288bd"/><path d="M601.85,60.82 606.62,63.32 606.62,71.48 601.85,73.98 597.08,71.48 597.08,63.32Z" fill="#fee293"/><path d="M611.39,60.82 616.16,63.32 616.16,71.48 611.39,73.98 606.62,71.48 606.62,63.32Z" fill="#62bea5"/><path d="M620.93,60.82 625.70,63.32 625.70,71.48 620.93,73.98 616.16,71.48 616.16,63.32Z" fill="#e4f39a"/><path d="M444.44,71.48 449.21,73.98 449.21,82.14 444.44,84.64 439.67,82.14 439.67,73.98Z" fill="#3288bd"/><path d="M453.98,71.48 458.75,73.98 458.75,82.14 453.98,84.64 449.21,82.14 449.21,73.98Z" fill="#e4f39a"/><path d="M463.52,71.48 468.29,73.98 468.29,82.14 463.52,84.64 458.75,82.14 458.75,73.98Z" fill="#3288bd"/><path d="M473.06,71.48 477.83,73.98 477.83,82.14 473.06,84.64 468.29,82.14 468.29,73.98Z" fill="#62bea5"/><path d="M482.60,71.48 487.37,73.98 487.37,82.14 482.60,84.64 477.83,82.14 477.83,73.98Z" fill="#fee293"/><path d="M492.14,71.48 496.91,73.98 496.91,82.14 492.14,84.64 487.37,82.14 487.37,73.98Z" fill="#c8e89d"/><path d="M501.68,71.48 506.45,73.98 506.45,82.14 501.68,84.64 496.91,82.14 496.91,73.98Z" fill="#fdb063"/><path d="M511.22,71.48 515.99,73.98 515.99,82.14 511.22,84.64 506.45,82.14 506.45,73.98Z" fill="#f98c4e"/><path d="M520.76,71.48 525.53,73.98 525.53,82.14 520.76,84.64 515.99,82.14 515.99,73.98Z" fill="#e4f39a"/><path d="M530.30,71.48 535.07,73.98 535.07,82.14 530.30,84.64 525.53,82.14 525.53,73.98Z" fill="#3288bd"/><path d="M539.84,71.48 544.61,73.98 544.61,82.14 539.84,84.64 535.07,82.14 535.07,73.98Z" fill="#3288bd"/><path d="M549.38,71.48 554.15,73.98 554.15,82.14 549.38,84.64 544.61,82.14 544.61,73.98Z" fill="#3288bd"/><path d="M558.92,71.48 563.69,73.98 563.69,82.14 558.92,84.64 554.15,82.14 554.15,73.98Z" fill="#46a5ac"/><path d="M568.46,71.48 573.23,73.98 573.23,82.14 568.46,84.64 563.69,82.14 563.69,73.98Z" fill="#f46d43"/><path d="M578.00,71.48 582.77,73.98 582.77,82.14 578.00,84.64 573.23,82.14 573.23,73.98Z" fill="#e4f39a"/><path d="M587.54,71.48 592.31,73.98 592.31,82.14 587.54,84.64 582.77,82.14 582.77,73.98Z" fill="#3288bd"/><path d="M597.08,71.48 601.85,73.98 601.85,82.14 597.08,84.64 592.31,82.14 592.31,73.98Z" fill="#46a5ac"/><path d="M606.62,71.48 611.39,73.98 611.39,82.14 606.62,84.64 601.85,82.14 601.85,73.98Z" fill="#86cfa4"/><path d="M616.16,71.48 620.93,73.98 620.93,82.14 616.16,84.64 611.39,82.14 611.39,73.98Z" fill="#a8dba2"/><path d="M625.70,71.48 630.47,73.98 630.47,82.14 625.70,84.64 620.93,82.14 620.93,73.98Z" fill="#86cfa4"/><path d="M439.67,82.14 444.44,84.64 444.44,92.80 439.67,95.30 434.90,92.80 434.90,84.64Z" fill="#86cfa4"/><path d="M449.21,82.14 453.98,84.64 453.98,92.80 449.21,95.30 444.44,92.80 444.44,84.64Z" fill="#e4f39a"/><path d="M458.75,82.14 463.52,84.64 463.52,92.80 458.75,95.30 453.98,92.80 453.98,84.64Z" fill="#62bea5"/><path d="M468.29,82.14 473.06,84.64 473.06,92.80 468.29,95.30 463.52,92.80 463.52,84.64Z" fill="#86cfa4"/><path d="M477.83,82.14 482.60,84.64 482.60,92.80 477.83,95.30 473.06,92.80 473.06,84.64Z" fill="#62bea5"/><path d="M487.37,82.14 492.14,84.64 492.14,92.80 487.37,95.30 482.60,92.80 482.60,84.64Z" fill="#46a5ac"/><path d="M496.91,82.14 501.68,84.64 501.68,92.80 496.91,95.30 492.14,92.80 492.14,84.64Z" fill="#3288bd"/><path d="M506.45,82.14 511.22,84.64 511.22,92.80 506.45,95.30 501.68,92.80 501.68,84.64Z" fill="#3288bd"/><path d="M515.99,82.14 520.76,84.64 520.76,92.80 515.99,95.30 511.22,92.80 511.22,84.64Z" fill="#62bea5"/><path d="M525.53,82.14 530.30,84.64 530.30,92.80 525.53,95.30 520.76,92.80 520.76,84.64Z" fill="#46a5ac"/><path d="M535.07,82.14 539.84,84.64 539.84,92.80 535.07,95.30 530.30,92.80 530.30,84.64Z" fill="#c8e89d"/><path d="M544.61,82.14 549.38,84.64 549.38,92.80 544.61,95.30 539.84,92.80 539.84,84.64Z" fill="#62bea5"/><path d="M554.15,82.14 558.92,84.64 558.92,92.80 554.15,95.30 549.38,92.80 549.38,84.64Z" fill="#3288bd"/><path d="M563.69,82.14 568.46,84.64 568.46,92.80 563.69,95.30 558.92,92.80 558.92,84.64Z" fill="#3288bd"/><path d="M573.23,82.14 578.00,84.64 578.00,92.80 573.23,95.30 568.46,92.80 568.46,84.64Z" fill="#f46d43"/><path d="M582.77,82.14 587.54,84.64 587.54,92.80 582.77,95.30 578.00,92.80 578.00,84.64Z" fill="#a8dba2"/><path d="M592.31,82.14 597.08,84.64 597.08,92.80 592.31,95.30 587.54,92.80 587.54,84.64Z" fill="#c8e89d"/><path d="M601.85,82.14 606.62,84.64 606.62,92.80 601.85,95.30 597.08,92.80 597.08,84.64Z" fill="#3288bd"/><path d="M611.39,82.14 616.16,84.64 616.16,92.80 611.39,95.30 606.62,92.80 606.62,84.64Z" fill="#3288bd"/><path d="M620.93,82.14 625.70,84.64 625.70,92.80 620.93,95.30 616.16,92.80 616.16,84.64Z" fill="#fdb063"/><path d="M444.44,92.80 449.21,95.30 449.21,103.46 444.44,105.96 439.67,103.46 439.67,95.30Z" fill="#a8dba2"/><path d="M453.98,92.80 458.75,95.30 458.75,103.46 453.98,105.96 449.21,103.46 449.21,95.30Z" fill="#62bea5"/><path d="M463.52,92.80 468.29,95.30 468.29,103.46 463.52,105.96 458.75,103.46 458.75,95.30Z" fill="#3288bd"/><path d="M473.06,92.80 477.83,95.30 477.83,103.46 473.06,105.96 468.29,103.46 468.29,95.30Z" fill="#fbfbbc"/><path d="M482.60,92.80 487.37,95.30 487.37,103.46 482.60,105.96 477.83,103.46 477.83,95.30Z" fill="#c8e89d"/><path d="M492.14,92.80 496.91,95.30 496.91,103.46 492.14,105.96 487.37,103.46 487.37,95.30Z" fill="#fdb063"/><path d="M501.68,92.80 506.45,95.30 506.45,103.46 501.68,105.96 496.91,103.46 496.91,95.30Z" fill="#3288bd"/><path d="M511.22,92.80 515.99,95.30 515.99,103.46 511.22,105.96 506.45,103.46 506.45,95.30Z" fill="#a8dba2"/><path d="M520.76,92.80 525.53,95.30 525.53,103.46 520.76,105.96 515.99,103.46 515.99,95.30Z" fill="#e4f39a"/><path d="M530.30,92.80 535.07,95.30 535.07,103.46 530.30,105.96 525.53,103.46 525.53,95.30Z" fill="#fee293"/><path d="M539.84,92.80 544.61,95.30 544.61,103.46 539.84,105.96 535.07,103.46 535.07,95.30Z" fill="#fdb063"/><path d="M549.38,92.80 554.15,95.30 554.15,103.46 549.38,105.96 544.61,103.46 544.61,95.30Z" fill="#46a5ac"/><path d="M558.92,92.80 563.69,95.30 563.69,103.46 558.92,105.96 554.15,103.46 554.15,95.30Z" fill="#86cfa4"/><path d="M568.46,92.80 573.23,95.30 573.23,103.46 568.46,105.96 563.69,103.46 563.69,95.30Z" fill="#e4f39a"/><path d="M578.00,92.80 582.77,95.30 582.77,103.46 578.00,105.96 573.23,103.46 573.23,95.30Z" fill="#86cfa4"/><path d="M587.54,92.80 592.31,95.30 592.31,103.46 587.54,105.96 582.77,103.46 582.77,95.30Z" fill="#a8dba2"/><path d="M597.08,92.80 601.85,95.30 601.85,103.46 597.08,105.96 592.31,103.46 592.31,95.30Z" fill="#62bea5"/><path d="M606.62,92.80 611.39,95.30 611.39,103.46 606.62,105.96 601.85,103.46 601.85,95.30Z" fill="#3288bd"/><path d="M616.16,92.80 620.93,95.30 620.93,103.46 616.16,105.96 611.39,103.46 611.39,95.30Z" fill="#e4f39a"/><path d="M625.70,92.80 630.47,95.30 630.47,103.46 625.70,105.96 620.93,103.46 620.93,95.30Z" fill="#fbfbbc"/><path d="M439.67,103.46 444.44,105.96 444.44,114.12 439.67,116.62 434.90,114.12 434.90,105.96Z" fill="#c8e89d"/><path d="M449.21,103.46 453.98,105.96 453.98,114.12 449.21,116.62 444.44,114.12 444.44,105.96Z" fill="#f46d43"/><path d="M458.75,103.46 463.52,105.96 463.52,114.12 458.75,116.62 453.98,114.12 453.98,105.96Z" fill="#e4f39a"/><path d="M468.29,103.46 473.06,105.96 473.06,114.12 468.29,116.62 463.52,114.12 463.52,105.96Z" fill="#46a5ac"/><path d="M477.83,103.46 482.60,105.96 482.60,114.12 477.83,116.62 473.06,114.12 473.06,105.96Z" fill="#86cfa4"/><path d="M487.37,103.46 492.14,105.96 492.14,114.12 487.37,116.62 482.60,114.12 482.60,105.96Z" fill="#a8dba2"/><path d="M496.91,103.46 501.68,105.96 501.68,114.12 496.91,116.62 492.14,114.12 492.14,105.96Z" fill="#fbfbbc"/><path d="M506.45,103.46 511.22,105.96 511.22,114.12 506.45,116.62 501.68,114.12 501.68,105.96Z" fill="#3288bd"/><path d="M515.99,103.46 520.76,105.96 520.76,114.12 515.99,116.62 511.22,114.12 511.22,105.96Z" fill="#a8dba2"/><path d="M525.53,103.46 530.30,105.96 530.30,114.12 525.53,116.62 520.76,114.12 520.76,105.96Z" fill="#46a5ac"/><path d="M535.07,103.46 539.84,105.96 539.84,114.12 535.07,116.62 530.30,114.12 530.30,105.96Z" fill="#f98c4e"/><path d="M544.61,103.46 549.38,105.96 549.38,114.12 544.61,116.62 539.84,114.12 539.84,105.96Z" fill="#3288bd"/><path d="M554.15,103.46 558.92,105.96 558.92,114.12 554.15,116.62 549.38,114.12 549.38,105.96Z" fill="#46a5ac"/><path d="M563.69,103.46 568.46,105.96 568.46,114.12 563.69,116.62 558.92,114.12 558.92,105.96Z" fill="#a8dba2"/><path d="M573.23,103.46 578.00,105.96 578.00,114.12 573.23,116.62 568.46,114.12 568.46,105.96Z" fill="#3288bd"/><path d="M582.77,103.46 587.54,105.96 587.54,114.12 582.77,116.62 578.00,114.12 578.00,105.96Z" fill="#86cfa4"/><path d="M592.31,103.46 597.08,105.96 597.08,114.12 592.31,116.62 587.54,114.12 587.54,105.96Z" fill="#46a5ac"/><path d="M601.85,103.46 606.62,105.96 606.62,114.12 601.85,116.62 597.08,114.12 597.08,105.96Z" fill="#3288bd"/><path d="M611.39,103.46 616.16,105.96 616.16,114.12 611.39,116.62 606.62,114.12 606.62,105.96Z" fill="#e4f39a"/><path d="M620.93,103.46 625.70,105.96 625.70,114.12 620.93,116.62 616.16,114.12 616.16,105.96Z" fill="#a8dba2"/><path d="M444.44,114.12 449.21,116.62 449.21,124.78 444.44,127.28 439.67,124.78 439.67,116.62Z" fill="#c8e89d"/><path d="M453.98,114.12 458.75,116.62 458.75,124.78 453.98,127.28 449.21,124.78 449.21,116.62Z" fill="#3288bd"/><path d="M463.52,114.12 468.29,116.62 468.29,124.78 463.52,127.28 458.75,124.78 458.75,116.62Z" fill="#a8dba2"/><path d="M473.06,114.12 477.83,116.62 477.83,124.78 473.06,127.28 468.29,124.78 468.29,116.62Z" fill="#c8e89d"/><path d="M482.60,114.12 487.37,116.62 487.37,124.78 482.60,127.28 477.83,124.78 477.83,116.62Z" fill="#a8dba2"/><path d="M492.14,114.12 496.91,116.62 496.91,124.78 492.14,127.28 487.37,124.78 487.37,116.62Z" fill="#fbfbbc"/><path d="M501.68,114.12 506.45,116.62 506.45,124.78 501.68,127.28 496.91,124.78 496.91,116.62Z" fill="#3288bd"/><path d="M511.22,114.12 515.99,116.62 515.99,124.78 511.22,127.28 506.45,124.78 506.45,116.62Z" fill="#fdb063"/><path d="M520.76,114.12 525.53,116.62 525.53,124.78 520.76,127.28 515.99,124.78 515.99,116.62Z" fill="#fbfbbc"/><path d="M530.30,114.12 535.07,116.62 535.07,124.78 530.30,127.28 525.53,124.78 525.53,116.62Z" fill="#fbfbbc"/><path d="M539.84,114.12 544.61,116.62 544.61,124.78 539.84,127.28 535.07,124.78 535.07,116.62Z" fill="#c8e89d"/><path d="M549.38,114.12 554.15,116.62 554.15,124.78 549.38,127.28 544.61,124.78 544.61,116.62Z" fill="#a8dba2"/><path d="M558.92,114.12 563.69,116.62 563.69,124.78 558.92,127.28 554.15,124.78 554.15,116.62Z" fill="#3288bd"/><path d="M568.46,114.12 573.23,116.62 573.23,124.78 568.46,127.28 563.69,124.78 563.69,116.62Z" fill="#46a5ac"/><path d="M578.00,114.12 582.77,116.62 582.77,124.78 578.00,127.28 573.23,124.78 573.23,116.62Z" fill="#62bea5"/><path d="M587.54,114.12 592.31,116.62 592.31,124.78 587.54,127.28 582.77,124.78 582.77,116.62Z" fill="#46a5ac"/><path d="M597.08,114.12 601.85,116.62 601.85,124.78 597.08,127.28 592.31,124.78 592.31,116.62Z" fill="#62bea5"/><path d="M606.62,114.12 611.39,116.62 611.39,124.78 606.62,127.28 601.85,124.78 601.85,116.62Z" fill="#62bea5"/><path d="M616.16,114.12 620.93,116.62 620.93,124.78 616.16,127.28 611.39,124.78 611.39,116.62Z" fill="#a8dba2"/><path d="M625.70,114.12 630.47,116.62 630.47,124.78 625.70,127.28 620.93,124.78 620.93,116.62Z" fill="#fee293"/><path d="M439.67,124.78 444.44,127.28 444.44,135.44 439.67,137.94 434.90,135.44 434.90,127.28Z" fill="#fee293"/><path d="M449.21,124.78 453.98,127.28 453.98,135.44 449.21,137.94 444.44,135.44 444.44,127.28Z" fill="#e4f39a"/><path d="M458.75,124.78 463.52,127.28 463.52,135.44 458.75,137.94 453.98,135.44 453.98,127.28Z" fill="#fbfbbc"/><path d="M468.29,124.78 473.06,127.28 473.06,135.44 468.29,137.94 463.52,135.44 463.52,127.28Z" fill="#a8dba2"/><path d="M477.83,124.78 482.60,127.28 482.60,135.44 477.83,137.94 473.06,135.44 473.06,127.28Z" fill="#fee293"/><path d="M487.37,124.78 492.14,127.28 492.14,135.44 487.37,137.94 482.60,135.44 482.60,127.28Z" fill="#c8e89d"/><path d="M496.91,124.78 501.68,127.28 501.68,135.44 496.91,137.94 492.14,135.44 492.14,127.28Z" fill="#62bea5"/><path d="M506.45,124.78 511.22,127.28 511.22,135.44 506.45,137.94 501.68,135.44 501.68,127.28Z" fill="#f98c4e"/><path d="M515.99,124.78 520.76,127.28 520.76,135.44 515.99,137.94 511.22,135.44 511.22,127.28Z" fill="#46a5ac"/><path d="M525.53,124.78 530.30,127.28 530.30,135.44 525.53,137.94 520.76,135.44 520.76,127.28Z" fill="#a8dba2"/><path d="M535.07,124.78 539.84,127.28 539.84,135.44 535.07,137.94 530.30,135.44 530.30,127.28Z" fill="#da434c"/><path d="M544.61,124.78 549.38,127.28 549.38,135.44 544.61,137.94 539.84,135.44 539.84,127.28Z" fill="#c8e89d"/><path d="M554.15,124.78 558.92,127.28 558.92,135.44 554.15,137.94 549.38,135.44 549.38,127.28Z" fill="#e4f39a"/><path d="M563.69,124.78 568.46,127.28 568.46,135.44 563.69,137.94 558.92,135.44 558.92,127.28Z" fill="#46a5ac"/><path d="M573.23,124.78 578.00,127.28 578.00,135.44 573.23,137.94 568.46,135.44 568.46,127.28Z" fill="#a8dba2"/><path d="M582.77,124.78 587.54,127.28 587.54,135.44 582.77,137.94 578.00,135.44 578.00,127.28Z" fill="#a8dba2"/><path d="M592.31,124.78 597.08,127.28 597.08,135.44 592.31,137.94 587.54,135.44 587.54,127.28Z" fill="#fdb063"/><path d="M601.85,124.78 606.62,127.28 606.62,135.44 601.85,137.94 597.08,135.44 597.08,127.28Z" fill="#62bea5"/><path d="M611.39,124.78 616.16,127.28 616.16,135.44 611.39,137.94 606.62,135.44 606.62,127.28Z" fill="#fbfbbc"/><path d="M620.93,124.78 625.70,127.28 625.70,135.44 620.93,137.94 616.16,135.44 616.16,127.28Z" fill="#46a5ac"/><path d="M444.44,135.44 449.21,137.94 449.21,146.10 444.44,148.60 439.67,146.10 439.67,137.94Z" fill="#c8e89d"/><path d="M453.98,135.44 458.75,137.94 458.75,146.10 453.98,148.60 449.21,146.10 449.21,137.94Z" fill="#a8dba2"/><path d="M463.52,135.44 468.29,137.94 468.29,146.10 463.52,148.60 458.75,146.10 458.75,137.94Z" fill="#3288bd"/><path d="M473.06,135.44 477.83,137.94 477.83,146.10 473.06,148.60 468.29,146.10 468.29,137.94Z" fill="#a8dba2"/><path d="M482.60,135.44 487.37,137.94 487.37,146.10 482.60,148.60 477.83,146.10 477.83,137.94Z" fill="#3288bd"/><path d="M492.14,135.44 496.91,137.94 496.91,146.10 492.14,148.60 487.37,146.10 487.37,137.94Z" fill="#fbfbbc"/><path d="M501.68,135.44 506.45,137.94 506.45,146.10 501.68,148.60 496.91,146.10 496.91,137.94Z" fill="#a8dba2"/><path d="M511.22,135.44 515.99,137.94 515.99,146.10 511.22,148.60 506.45,146.10 506.45,137.94Z" fill="#fbfbbc"/><path d="M520.76,135.44 525.53,137.94 525.53,146.10 520.76,148.60 515.99,146.10 515.99,137.94Z" fill="#62bea5"/><path d="M530.30,135.44 535.07,137.94 535.07,146.10 530.30,148.60 525.53,146.10 525.53,137.94Z" fill="#86cfa4"/><path d="M539.84,135.44 544.61,137.94 544.61,146.10 539.84,148.60 535.07,146.10 535.07,137.94Z" fill="#86cfa4"/><path d="M549.38,135.44 554.15,137.94 554.15,146.10 549.38,148.60 544.61,146.10 544.61,137.94Z" fill="#a8dba2"/><path d="M558.92,135.44 563.69,137.94 563.69,146.10 558.92,148.60 554.15,146.10 554.15,137.94Z" fill="#f98c4e"/><path d="M568.46,135.44 573.23,137.94 573.23,146.10 568.46,148.60 563.69,146.10 563.69,137.94Z" fill="#fdb063"/><path d="M578.00,135.44 582.77,137.94 582.77,146.10 578.00,148.60 573.23,146.10 573.23,137.94Z" fill="#e4f39a"/><path d="M587.54,135.44 592.31,137.94 592.31,146.10 587.54,148.60 582.77,146.10 582.77,137.94Z" fill="#e4f39a"/><path d="M597.08,135.44 601.85,137.94 601.85,146.10 597.08,148.60 592.31,146.10 592.31,137.94Z" fill="#fbfbbc"/><path d="M606.62,135.44 611.39,137.94 611.39,146.10 606.62,148.60 601.85,146.10 601.85,137.94Z" fill="#e4f39a"/><path d="M616.16,135.44 620.93,137.94 620.93,146.10 616.16,148.60 611.39,146.10 611.39,137.94Z" fill="#62bea5"/><path d="M625.70,135.44 630.47,137.94 630.47,146.10 625.70,148.60 620.93,146.10 620.93,137.94Z" fill="#e4f39a"/><path d="M439.67,146.10 444.44,148.60 444.44,156.76 439.67,159.26 434.90,156.76 434.90,148.60Z" fill="#a8dba2"/><path d="M449.21,146.10 453.98,148.60 453.98,156.76 449.21,159.26 444.44,156.76 444.44,148.60Z" fill="#46a5ac"/><path d="M458.75,146.10 463.52,148.60 463.52,156.76 458.75,159.26 453.98,156.76 453.98,148.60Z" fill="#a8dba2"/><path d="M468.29,146.10 473.06,148.60 473.06,156.76 468.29,159.26 463.52,156.76 463.52,148.60Z" fill="#a8dba2"/><path d="M477.83,146.10 482.60,148.60 482.60,156.76 477.83,159.26 473.06,156.76 473.06,148.60Z" fill="#62bea5"/><path d="M487.37,146.10 492.14,148.60 492.14,156.76 487.37,159.26 482.60,156.76 482.60,148.60Z" fill="#86cfa4"/><path d="M496.91,146.10 501.68,148.60 501.68,156.76 496.91,159.26 492.14,156.76 492.14,148.60Z" fill="#3288bd"/><path d="M506.45,146.10 511.22,148.60 511.22,156.76 506.45,159.26 501.68,156.76 501.68,148.60Z" fill="#62bea5"/><path d="M515.99,146.10 520.76,148.60 520.76,156.76 515.99,159.26 511.22,156.76 511.22,148.60Z" fill="#a8dba2"/><path d="M525.53,146.10 530.30,148.60 530.30,156.76 525.53,159.26 520.76,156.76 520.76,148.60Z" fill="#a8dba2"/><path d="M535.07,146.10 539.84,148.60 539.84,156.76 535.07,159.26 530.30,156.76 530.30,148.60Z" fill="#fbfbbc"/><path d="M544.61,146.10 549.38,148.60 549.38,156.76 544.61,159.26 539.84,156.76 539.84,148.60Z" fill="#c8e89d"/><path d="M554.15,146.10 558.92,148.60 558.92,156.76 554.15,159.26 549.38,156.76 549.38,148.60Z" fill="#62bea5"/><path d="M563.69,146.10 568.46,148.60 568.46,156.76 563.69,159.26 558.92,156.76 558.92,148.60Z" fill="#86cfa4"/><path d="M573.23,146.10 578.00,148.60 578.00,156.76 573.23,159.26 568.46,156.76 568.46,148.60Z" fill="#3288bd"/><path d="M582.77,146.10 587.54,148.60 587.54,156.76 582.77,159.26 578.00,156.76 578.00,148.60Z" fill="#a8dba2"/><path d="M592.31,146.10 597.08,148.60 597.08,156.76 592.31,159.26 587.54,156.76 587.54,148.60Z" fill="#e4f39a"/><path d="M601.85,146.10 606.62,148.60 606.62,156.76 601.85,159.26 597.08,156.76 597.08,148.60Z" fill="#c8e89d"/><path d="M611.39,146.10 616.16,148.60 616.16,156.76 611.39,159.26 606.62,156.76 606.62,148.60Z" fill="#fee293"/><path d="M620.93,146.10 625.70,148.60 625.70,156.76 620.93,159.26 616.16,156.76 616.16,148.60Z" fill="#fee293"/><path d="M444.44,156.76 449.21,159.26 449.21,167.42 444.44,169.92 439.67,167.42 439.67,159.26Z" fill="#c8e89d"/><path d="M453.98,156.76 458.75,159.26 458.75,167.42 453.98,169.92 449.21,167.42 449.21,159.26Z" fill="#86cfa4"/><path d="M463.52,156.76 468.29,159.26 468.29,167.42 463.52,169.92 458.75,167.42 458.75,159.26Z" fill="#fbfbbc"/><path d="M473.06,156.76 477.83,159.26 477.83,167.42 473.06,169.92 468.29,167.42 468.29,159.26Z" fill="#a8dba2"/><path d="M482.60,156.76 487.37,159.26 487.37,167.42 482.60,169.92 477.83,167.42 477.83,159.26Z" fill="#fbfbbc"/><path d="M492.14,156.76 496.91,159.26 496.91,167.42 492.14,169.92 487.37,167.42 487.37,159.26Z" fill="#86cfa4"/><path d="M501.68,156.76 506.45,159.26 506.45,167.42 501.68,169.92 496.91,167.42 496.91,159.26Z" fill="#e4f39a"/><path d="M511.22,156.76 515.99,159.26 515.99,167.42 511.22,169.92 506.45,167.42 506.45,159.26Z" fill="#fbfbbc"/><path d="M520.76,156.76 525.53,159.26 525.53,167.42 520.76,169.92 515.99,167.42 515.99,159.26Z" fill="#e4f39a"/><path d="M530.30,156.76 535.07,159.26 535.07,167.42 530.30,169.92 525.53,167.42 525.53,159.26Z" fill="#a8dba2"/><path d="M539.84,156.76 544.61,159.26 544.61,167.42 539.84,169.92 535.07,167.42 535.07,159.26Z" fill="#a8dba2"/><path d="M549.38,156.76 554.15,159.26 554.15,167.42 549.38,169.92 544.61,167.42 544.61,159.26Z" fill="#a8dba2"/><path d="M558.92,156.76 563.69,159.26 563.69,167.42 558.92,169.92 554.15,167.42 554.15,159.26Z" fill="#a8dba2"/><path d="M568.46,156.76 573.23,159.26 573.23,167.42 568.46,169.92 563.69,167.42 563.69,159.26Z" fill="#46a5ac"/><path d="M578.00,156.76 582.77,159.26 582.77,167.42 578.00,169.92 573.23,167.42 573.23,159.26Z" fill="#46a5ac"/><path d="M587.54,156.76 592.31,159.26 592.31,167.42 587.54,169.92 582.77,167.42 582.77,159.26Z" fill="#62bea5"/><path d="M597.08,156.76 601.85,159.26 601.85,167.42 597.08,169.92 592.31,167.42 592.31,159.26Z" fill="#fee293"/><path d="M606.62,156.76 611.39,159.26 611.39,167.42 606.62,169.92 601.85,167.42 601.85,159.26Z" fill="#3288bd"/><path d="M616.16,156.76 620.93,159.26 620.93,167.42 616.16,169.92 611.39,167.42 611.39,159.26Z" fill="#86cfa4"/><path d="M625.70,156.76 630.47,159.26 630.47,167.42 625.70,169.92 620.93,167.42 620.93,159.26Z" fill="#86cfa4"/><path d="M439.67,167.42 444.44,169.92 444.44,178.08 439.67,180.58 434.90,178.08 434.90,169.92Z" fill="#c8e89d"/><path d="M449.21,167.42 453.98,169.92 453.98,178.08 449.21,180.58 444.44,178.08 444.44,169.92Z" fill="#f98c4e"/><path d="M458.75,167.42 463.52,169.92 463.52,178.08 458.75,180.58 453.98,178.08 453.98,169.92Z" fill="#62bea5"/><path d="M468.29,167.42 473.06,169.92 473.06,178.08 468.29,180.58 463.52,178.08 463.52,169.92Z" fill="#fbfbbc"/><path d="M477.83,167.42 482.60,169.92 482.60,178.08 477.83,180.58 473.06,178.08 473.06,169.92Z" fill="#86cfa4"/><path d="M487.37,167.42 492.14,169.92 492.14,178.08 487.37,180.58 482.60,178.08 482.60,169.92Z" fill="#a8dba2"/><path d="M496.91,167.42 501.68,169.92 501.68,178.08 496.91,180.58 492.14,178.08 492.14,169.92Z" fill="#e4f39a"/><path d="M506.45,167.42 511.22,169.92 511.22,178.08 506.45,180.58 501.68,178.08 501.68,169.92Z" fill="#86cfa4"/><path d="M515.99,167.42 520.76,169.92 520.76,178.08 515.99,180.58 511.22,178.08 511.22,169.92Z" fill="#62bea5"/><path d="M525.53,167.42 530.30,169.92 530.30,178.08 525.53,180.58 520.76,178.08 520.76,169.92Z" fill="#86cfa4"/><path d="M535.07,167.42 539.84,169.92 539.84,178.08 535.07,180.58 530.30,178.08 530.30,169.92Z" fill="#c8e89d"/><path d="M544.61,167.42 549.38,169.92 549.38,178.08 544.61,180.58 539.84,178.08 539.84,169.92Z" fill="#a8dba2"/><path d="M554.15,167.42 558.92,169.92 558.92,178.08 554.15,180.58 549.38,178.08 549.38,169.92Z" fill="#a8dba2"/><path d="M563.69,167.42 568.46,169.92 568.46,178.08 563.69,180.58 558.92,178.08 558.92,169.92Z" fill="#86cfa4"/><path d="M573.23,167.42 578.00,169.92 578.00,178.08 573.23,180.58 568.46,178.08 568.46,169.92Z" fill="#3288bd"/><path d="M582.77,167.42 587.54,169.92 587.54,178.08 582.77,180.58 578.00,178.08 578.00,169.92Z" fill="#62bea5"/><path d="M592.31,167.42 597.08,169.92 597.08,178.08 592.31,180.58 587.54,178.08 587.54,169.92Z" fill="#c8e89d"/><path d="M601.85,167.42 606.62,169.92 606.62,178.08 601.85,180.58 597.08,178.08 597.08,169.92Z" fill="#c8e89d"/><path d="M611.39,167.42 616.16,169.92 616.16,178.08 611.39,180.58 606.62,178.08 606.62,169.92Z" fill="#46a5ac"/><path d="M620.93,167.42 625.70,169.92 625.70,178.08 620.93,180.58 616.16,178.08 616.16,169.92Z" fill="#f98c4e"/><path d="M444.44,178.08 449.21,180.58 449.21,188.74 444.44,191.24 439.67,188.74 439.67,180.58Z" fill="#e4f39a"/><path d="M453.98,178.08 458.75,180.58 458.75,188.74 453.98,191.24 449.21,188.74 449.21,180.58Z" fill="#fee293"/><path d="M463.52,178.08 468.29,180.58 468.29,188.74 463.52,191.24 458.75,188.74 458.75,180.58Z" fill="#3288bd"/><path d="M473.06,178.08 477.83,180.58 477.83,188.74 473.06,191.24 468.29,188.74 468.29,180.58Z" fill="#fbfbbc"/><path d="M482.60,178.08 487.37,180.58 487.37,188.74 482.60,191.24 477.83,188.74 477.83,180.58Z" fill="#c8e89d"/><path d="M492.14,178.08 496.91,180.58 496.91,188.74 492.14,191.24 487.37,188.74 487.37,180.58Z" fill="#c8e89d"/><path d="M501.68,178.08 506.45,180.58 506.45,188.74 501.68,191.24 496.91,188.74 496.91,180.58Z" fill="#fee293"/><path d="M511.22,178.08 515.99,180.58 515.99,188.74 511.22,191.24 506.45,188.74 506.45,180.58Z" fill="#e4f39a"/><path d="M520.76,178.08 525.53,180.58 525.53,188.74 520.76,191.24 515.99,188.74 515.99,180.58Z" fill="#62bea5"/><path d="M530.30,178.08 535.07,180.58 535.07,188.74 530.30,191.24 525.53,188.74 525.53,180.58Z" fill="#62bea5"/><path d="M539.84,178.08 544.61,180.58 544.61,188.74 539.84,191.24 535.07,188.74 535.07,180.58Z" fill="#e4f39a"/><path d="M549.38,178.08 554.15,180.58 554.15,188.74 549.38,191.24 544.61,188.74 544.61,180.58Z" fill="#fdb063"/><path d="M558.92,178.08 563.69,180.58 563.69,188.74 558.92,191.24 554.15,188.74 554.15,180.58Z" fill="#c8e89d"/><path d="M568.46,178.08 573.23,180.58 573.23,188.74 568.46,191.24 563.69,188.74 563.69,180.58Z" fill="#e4f39a"/><path d="M578.00,178.08 582.77,180.58 582.77,188.74 578.00,191.24 573.23,188.74 573.23,180.58Z" fill="#a8dba2"/><path d="M587.54,178.08 592.31,180.58 592.31,188.74 587.54,191.24 582.77,188.74 582.77,180.58Z" fill="#62bea5"/><path d="M597.08,178.08 601.85,180.58 601.85,188.74 597.08,191.24 592.31,188.74 592.31,180.58Z" fill="#a8dba2"/><path d="M606.62,178.08 611.39,180.58 611.39,188.74 606.62,191.24 601.85,188.74 601.85,180.58Z" fill="#46a5ac"/><path d="M616.16,178.08 620.93,180.58 620.93,188.74 616.16,191.24 611.39,188.74 611.39,180.58Z" fill="#c8e89d"/><path d="M625.70,178.08 630.47,180.58 630.47,188.74 625.70,191.24 620.93,188.74 620.93,180.58Z" fill="#3288bd"/><path d="M439.67,188.74 444.44,191.24 444.44,199.40 439.67,201.90 434.90,199.40 434.90,191.24Z" fill="#a8dba2"/><path d="M449.21,188.74 453.98,191.24 453.98,199.40 449.21,201.90 444.44,199.40 444.44,191.24Z" fill="#86cfa4"/><path d="M458.75,188.74 463.52,191.24 463.52,199.40 458.75,201.90 453.98,199.40 453.98,191.24Z" fill="#62bea5"/><path d="M468.29,188.74 473.06,191.24 473.06,199.40 468.29,201.90 463.52,199.40 463.52,191.24Z" fill="#3288bd"/><path d="M477.83,188.74 482.60,191.24 482.60,199.40 477.83,201.90 473.06,199.40 473.06,191.24Z" fill="#fdb063"/><path d="M487.37,188.74 492.14,191.24 492.14,199.40 487.37,201.90 482.60,199.40 482.60,191.24Z" fill="#3288bd"/><path d="M496.91,188.74 501.68,191.24 501.68,199.40 496.91,201.90 492.14,199.40 492.14,191.24Z" fill="#fbfbbc"/><path d="M506.45,188.74 511.22,191.24 511.22,199.40 506.45,201.90 501.68,199.40 501.68,191.24Z" fill="#3288bd"/><path d="M515.99,188.74 520.76,191.24 520.76,199.40 515.99,201.90 511.22,199.40 511.22,191.24Z" fill="#e4f39a"/><path d="M525.53,188.74 530.30,191.24 530.30,199.40 525.53,201.90 520.76,199.40 520.76,191.24Z" fill="#e4f39a"/><path d="M535.07,188.74 539.84,191.24 539.84,199.40 535.07,201.90 530.30,199.40 530.30,191.24Z" fill="#3288bd"/><path d="M544.61,188.74 549.38,191.24 549.38,199.40 544.61,201.90 539.84,199.40 539.84,191.24Z" fill="#c8e89d"/><path d="M554.15,188.74 558.92,191.24 558.92,199.40 554.15,201.90 549.38,199.40 549.38,191.24Z" fill="#a8dba2"/><path d="M563.69,188.74 568.46,191.24 568.46,199.40 563.69,201.90 558.92,199.40 558.92,191.24Z" fill="#e4f39a"/><path d="M573.23,188.74 578.00,191.24 578.00,199.40 573.23,201.90 568.46,199.40 568.46,191.24Z" fill="#46a5ac"/><path d="M582.77,188.74 587.54,191.24 587.54,199.40 582.77,201.90 578.00,199.40 578.00,191.24Z" fill="#fdb063"/><path d="M592.31,188.74 597.08,191.24 597.08,199.40 592.31,201.90 587.54,199.40 587.54,191.24Z" fill="#fbfbbc"/><path d="M601.85,188.74 606.62,191.24 606.62,199.40 601.85,201.90 597.08,199.40 597.08,191.24Z" fill="#46a5ac"/><path d="M611.39,188.74 616.16,191.24 616.16,199.40 611.39,201.90 606.62,199.40 606.62,191.24Z" fill="#46a5ac"/><path d="M620.93,188.74 625.70,191.24 625.70,199.40 620.93,201.90 616.16,199.40 616.16,191.24Z" fill="#62bea5"/><path d="M444.44,199.40 449.21,201.90 449.21,210.06 444.44,212.56 439.67,210.06 439.67,201.90Z" fill="#c8e89d"/><path d="M453.98,199.40 458.75,201.90 458.75,210.06 453.98,212.56 449.21,210.06 449.21,201.90Z" fill="#46a5ac"/><path d="M463.52,199.40 468.29,201.90 468.29,210.06 463.52,212.56 458.75,210.06 458.75,201.90Z" fill="#46a5ac"/><path d="M473.06,199.40 477.83,201.90 477.83,210.06 473.06,212.56 468.29,210.06 468.29,201.90Z" fill="#3288bd"/><path d="M482.60,199.40 487.37,201.90 487.37,210.06 482.60,212.56 477.83,210.06 477.83,201.90Z" fill="#86cfa4"/><path d="M492.14,199.40 496.91,201.90 496.91,210.06 492.14,212.56 487.37,210.06 487.37,201.90Z" fill="#a8dba2"/><path d="M501.68,199.40 506.45,201.90 506.45,210.06 501.68,212.56 496.91,210.06 496.91,201.90Z" fill="#62bea5"/><path d="M511.22,199.40 515.99,201.90 515.99,210.06 511.22,212.56 506.45,210.06 506.45,201.90Z" fill="#a8dba2"/><path d="M520.76,199.40 525.53,201.90 525.53,210.06 520.76,212.56 515.99,210.06 515.99,201.90Z" fill="#46a5ac"/><path d="M530.30,199.40 535.07,201.90 535.07,210.06 530.30,212.56 525.53,210.06 525.53,201.90Z" fill="#c8e89d"/><path d="M539.84,199.40 544.61,201.90 544.61,210.06 539.84,212.56 535.07,210.06 535.07,201.90Z" fill="#46a5ac"/><path d="M549.38,199.40 554.15,201.90 554.15,210.06 549.38,212.56 544.61,210.06 544.61,201.90Z" fill="#a8dba2"/><path d="M558.92,199.40 563.69,201.90 563.69,210.06 558.92,212.56 554.15,210.06 554.15,201.90Z" fill="#3288bd"/><path d="M568.46,199.40 573.23,201.90 573.23,210.06 568.46,212.56 563.69,210.06 563.69,201.90Z" fill="#a8dba2"/><path d="M578.00,199.40 582.77,201.90 582.77,210.06 578.00,212.56 573.23,210.06 573.23,201.90Z" fill="#e4f39a"/><path d="M587.54,199.40 592.31,201.90 592.31,210.06 587.54,212.56 582.77,210.06 582.77,201.90Z" fill="#e4f39a"/><path d="M597.08,199.40 601.85,201.90 601.85,210.06 597.08,212.56 592.31,210.06 592.31,201.90Z" fill="#62bea5"/><path d="M606.62,199.40 611.39,201.90 611.39,210.06 606.62,212.56 601.85,210.06 601.85,201.90Z" fill="#62bea5"/><path d="M616.16,199.40 620.93,201.90 620.93,210.06 616.16,212.56 611.39,210.06 611.39,201.90Z" fill="#3288bd"/><path d="M625.70,199.40 630.47,201.90 630.47,210.06 625.70,212.56 620.93,210.06 620.93,201.90Z" fill="#62bea5"/><path d="M439.67,210.06 444.44,212.56 444.44,220.72 439.67,223.22 434.90,220.72 434.90,212.56Z" fill="#a8dba2"/><path d="M449.21,210.06 453.98,212.56 453.98,220.72 449.21,223.22 444.44,220.72 444.44,212.56Z" fill="#46a5ac"/><path d="M458.75,210.06 463.52,212.56 463.52,220.72 458.75,223.22 453.98,220.72 453.98,212.56Z" fill="#fee293"/><path d="M468.29,210.06 473.06,212.56 473.06,220.72 468.29,223.22 463.52,220.72 463.52,212.56Z" fill="#86cfa4"/><path d="M477.83,210.06 482.60,212.56 482.60,220.72 477.83,223.22 473.06,220.72 473.06,212.56Z" fill="#c8e89d"/><path d="M487.37,210.06 492.14,212.56 492.14,220.72 487.37,223.22 482.60,220.72 482.60,212.56Z" fill="#a8dba2"/><path d="M496.91,210.06 501.68,212.56 501.68,220.72 496.91,223.22 492.14,220.72 492.14,212.56Z" fill="#fee293"/><path d="M506.45,210.06 511.22,212.56 511.22,220.72 506.45,223.22 501.68,220.72 501.68,212.56Z" fill="#a8dba2"/><path d="M515.99,210.06 520.76,212.56 520.76,220.72 515.99,223.22 511.22,220.72 511.22,212.56Z" fill="#c8e89d"/><path d="M525.53,210.06 530.30,212.56 530.30,220.72 525.53,223.22 520.76,220.72 520.76,212.56Z" fill="#a8dba2"/><path d="M535.07,210.06 539.84,212.56 539.84,220.72 535.07,223.22 530.30,220.72 530.30,212.56Z" fill="#a8dba2"/><path d="M544.61,210.06 549.38,212.56 549.38,220.72 544.61,223.22 539.84,220.72 539.84,212.56Z" fill="#3288bd"/><path d="M554.15,210.06 558.92,212.56 558.92,220.72 554.15,223.22 549.38,220.72 549.38,212.56Z" fill="#3288bd"/><path d="M563.69,210.06 568.46,212.56 568.46,220.72 563.69,223.22 558.92,220.72 558.92,212.56Z" fill="#46a5ac"/><path d="M573.23,210.06 578.00,212.56 578.00,220.72 573.23,223.22 568.46,220.72 568.46,212.56Z" fill="#86cfa4"/><path d="M582.77,210.06 587.54,212.56 587.54,220.72 582.77,223.22 578.00,220.72 578.00,212.56Z" fill="#62bea5"/><path d="M592.31,210.06 597.08,212.56 597.08,220.72 592.31,223.22 587.54,220.72 587.54,212.56Z" fill="#86cfa4"/><path d="M601.85,210.06 606.62,212.56 606.62,220.72 601.85,223.22 597.08,220.72 597.08,212.56Z" fill="#a8dba2"/><path d="M611.39,210.06 616.16,212.56 616.16,220.72 611.39,223.22 606.62,220.72 606.62,212.56Z" fill="#62bea5"/><path d="M620.93,210.06 625.70,212.56 625.70,220.72 620.93,223.22 616.16,220.72 616.16,212.56Z" fill="#62bea5"/><path d="M444.44,220.72 449.21,223.22 449.21,231.38 444.44,233.88 439.67,231.38 439.67,223.22Z" fill="#46a5ac"/><path d="M453.98,220.72 458.75,223.22 458.75,231.38 453.98,233.88 449.21,231.38 449.21,223.22Z" fill="#c8e89d"/><path d="M463.52,220.72 468.29,223.22 468.29,231.38 463.52,233.88 458.75,231.38 458.75,223.22Z" fill="#3288bd"/><path d="M473.06,220.72 477.83,223.22 477.83,231.38 473.06,233.88 468.29,231.38 468.29,223.22Z" fill="#62bea5"/><path d="M482.60,220.72 487.37,223.22 487.37,231.38 482.60,233.88 477.83,231.38 477.83,223.22Z" fill="#62bea5"/><path d="M492.14,220.72 496.91,223.22 496.91,231.38 492.14,233.88 487.37,231.38 487.37,223.22Z" fill="#fbfbbc"/><path d="M501.68,220.72 506.45,223.22 506.45,231.38 501.68,233.88 496.91,231.38 496.91,223.22Z" fill="#a8dba2"/><path d="M511.22,220.72 515.99,223.22 515.99,231.38 511.22,233.88 506.45,231.38 506.45,223.22Z" fill="#46a5ac"/><path d="M520.76,220.72 525.53,223.22 525.53,231.38 520.76,233.88 515.99,231.38 515.99,223.22Z" fill="#86cfa4"/><path d="M530.30,220.72 535.07,223.22 535.07,231.38 530.30,233.88 525.53,231.38 525.53,223.22Z" fill="#3288bd"/><path d="M539.84,220.72 544.61,223.22 544.61,231.38 539.84,233.88 535.07,231.38 535.07,223.22Z" fill="#86cfa4"/><path d="M549.38,220.72 554.15,223.22 554.15,231.38 549.38,233.88 544.61,231.38 544.61,223.22Z" fill="#3288bd"/><path d="M558.92,220.72 563.69,223.22 563.69,231.38 558.92,233.88 554.15,231.38 554.15,223.22Z" fill="#62bea5"/><path d="M568.46,220.72 573.23,223.22 573.23,231.38 568.46,233.88 563.69,231.38 563.69,223.22Z" fill="#62bea5"/><path d="M578.00,220.72 582.77,223.22 582.77,231.38 578.00,233.88 573.23,231.38 573.23,223.22Z" fill="#3288bd"/><path d="M587.54,220.72 592.31,223.22 592.31,231.38 587.54,233.88 582.77,231.38 582.77,223.22Z" fill="#c8e89d"/><path d="M597.08,220.72 601.85,223.22 601.85,231.38 597.08,233.88 592.31,231.38 592.31,223.22Z" fill="#3288bd"/><path d="M606.62,220.72 611.39,223.22 611.39,231.38 606.62,233.88 601.85,231.38 601.85,223.22Z" fill="#46a5ac"/><path d="M616.16,220.72 620.93,223.22 620.93,231.38 616.16,233.88 611.39,231.38 611.39,223.22Z" fill="#86cfa4"/><path d="M625.70,220.72 630.47,223.22 630.47,231.38 625.70,233.88 620.93,231.38 620.93,223.22Z" fill="#62bea5"/><path d="M439.67,231.38 444.44,233.88 444.44,242.04 439.67,244.54 434.90,242.04 434.90,233.88Z" fill="#c8e89d"/><path d="M449.21,231.38 453.98,233.88 453.98,242.04 449.21,244.54 444.44,242.04 444.44,233.88Z" fill="#c8e89d"/><path d="M458.75,231.38 463.52,233.88 463.52,242.04 458.75,244.54 453.98,242.04 453.98,233.88Z" fill="#fbfbbc"/><path d="M468.29,231.38 473.06,233.88 473.06,242.04 468.29,244.54 463.52,242.04 463.52,233.88Z" fill="#fbfbbc"/><path d="M477.83,231.38 482.60,233.88 482.60,242.04 477.83,244.54 473.06,242.04 473.06,233.88Z" fill="#e4f39a"/><path d="M487.37,231.38 492.14,233.88 492.14,242.04 487.37,244.54 482.60,242.04 482.60,233.88Z" fill="#e4f39a"/><path d="M496.91,231.38 501.68,233.88 501.68,242.04 496.91,244.54 492.14,242.04 492.14,233.88Z" fill="#a8dba2"/><path d="M506.45,231.38 511.22,233.88 511.22,242.04 506.45,244.54 501.68,242.04 501.68,233.88Z" fill="#62bea5"/><path d="M515.99,231.38 520.76,233.88 520.76,242.04 515.99,244.54 511.22,242.04 511.22,233.88Z" fill="#e4f39a"/><path d="M525.53,231.38 530.30,233.88 530.30,242.04 525.53,244.54 520.76,242.04 520.76,233.88Z" fill="#c8e89d"/><path d="M535.07,231.38 539.84,233.88 539.84,242.04 535.07,244.54 530.30,242.04 530.30,233.88Z" fill="#a8dba2"/><path d="M544.61,231.38 549.38,233.88 549.38,242.04 544.61,244.54 539.84,242.04 539.84,233.88Z" fill="#fbfbbc"/><path d="M554.15,231.38 558.92,233.88 558.92,242.04 554.15,244.54 549.38,242.04 549.38,233.88Z" fill="#62bea5"/><path d="M563.69,231.38 568.46,233.88 568.46,242.04 563.69,244.54 558.92,242.04 558.92,233.88Z" fill="#a8dba2"/><path d="M573.23,231.38 578.00,233.88 578.00,242.04 573.23,244.54 568.46,242.04 568.46,233.88Z" fill="#e4f39a"/><path d="M582.77,231.38 587.54,233.88 587.54,242.04 582.77,244.54 578.00,242.04 578.00,233.88Z" fill="#3288bd"/><path d="M592.31,231.38 597.08,233.88 597.08,242.04 592.31,244.54 587.54,242.04 587.54,233.88Z" fill="#3288bd"/><path d="M601.85,231.38 606.62,233.88 606.62,242.04 601.85,244.54 597.08,242.04 597.08,233.88Z" fill="#86cfa4"/><path d="M611.39,231.38 616.16,233.88 616.16,242.04 611.39,244.54 606.62,242.04 606.62,233.88Z" fill="#3288bd"/><path d="M620.93,231.38 625.70,233.88 625.70,242.04 620.93,244.54 616.16,242.04 616.16,233.88Z" fill="#e4f39a"/><path d="M444.44,242.04 449.21,244.54 449.21,252.70 444.44,255.20 439.67,252.70 439.67,244.54Z" fill="#a8dba2"/><path d="M453.98,242.04 458.75,244.54 458.75,252.70 453.98,255.20 449.21,252.70 449.21,244.54Z" fill="#3288bd"/><path d="M463.52,242.04 468.29,244.54 468.29,252.70 463.52,255.20 458.75,252.70 458.75,244.54Z" fill="#86cfa4"/><path d="M473.06,242.04 477.83,244.54 477.83,252.70 473.06,255.20 468.29,252.70 468.29,244.54Z" fill="#f46d43"/><path d="M482.60,242.04 487.37,244.54 487.37,252.70 482.60,255.20 477.83,252.70 477.83,244.54Z" fill="#3288bd"/><path d="M492.14,242.04 496.91,244.54 496.91,252.70 492.14,255.20 487.37,252.70 487.37,244.54Z" fill="#c8e89d"/><path d="M501.68,242.04 506.45,244.54 506.45,252.70 501.68,255.20 496.91,252.70 496.91,244.54Z" fill="#fee293"/><path d="M511.22,242.04 515.99,244.54 515.99,252.70 511.22,255.20 506.45,252.70 506.45,244.54Z" fill="#3288bd"/><path d="M520.76,242.04 525.53,244.54 525.53,252.70 520.76,255.20 515.99,252.70 515.99,244.54Z" fill="#a8dba2"/><path d="M530.30,242.04 535.07,244.54 535.07,252.70 530.30,255.20 525.53,252.70 525.53,244.54Z" fill="#fee293"/><path d="M539.84,242.04 544.61,244.54 544.61,252.70 539.84,255.20 535.07,252.70 535.07,244.54Z" fill="#62bea5"/><path d="M549.38,242.04 554.15,244.54 554.15,252.70 549.38,255.20 544.61,252.70 544.61,244.54Z" fill="#fdb063"/><path d="M558.92,242.04 563.69,244.54 563.69,252.70 558.92,255.20 554.15,252.70 554.15,244.54Z" fill="#3288bd"/><path d="M568.46,242.04 573.23,244.54 573.23,252.70 568.46,255.20 563.69,252.70 563.69,244.54Z" fill="#86cfa4"/><path d="M578.00,242.04 582.77,244.54 582.77,252.70 578.00,255.20 573.23,252.70 573.23,244.54Z" fill="#46a5ac"/><path d="M587.54,242.04 592.31,244.54 592.31,252.70 587.54,255.20 582.77,252.70 582.77,244.54Z" fill="#a8dba2"/><path d="M597.08,242.04 601.85,244.54 601.85,252.70 597.08,255.20 592.31,252.70 592.31,244.54Z" fill="#86cfa4"/><path d="M606.62,242.04 611.39,244.54 611.39,252.70 606.62,255.20 601.85,252.70 601.85,244.54Z" fill="#46a5ac"/><path d="M616.16,242.04 620.93,244.54 620.93,252.70 616.16,255.20 611.39,252.70 611.39,244.54Z" fill="#a8dba2"/><path d="M625.70,242.04 630.47,244.54 630.47,252.70 625.70,255.20 620.93,252.70 620.93,244.54Z" fill="#e4f39a"/></g>
<g font-size="5.4" fill="#555" text-anchor="middle"><text x="439.65" y="37.80">a</text><text x="449.18" y="37.80">b</text><text x="458.70" y="37.80">c</text><text x="468.23" y="37.80">d</text><text x="477.75" y="37.80">e</text><text x="487.28" y="37.80">f</text><text x="496.81" y="37.80">g</text><text x="506.33" y="37.80">h</text><text x="515.86" y="37.80">i</text><text x="525.38" y="37.80">j</text><text x="534.91" y="37.80">k</text><text x="544.44" y="37.80">l</text><text x="553.96" y="37.80">m</text><text x="563.49" y="37.80">n</text><text x="573.01" y="37.80">o</text><text x="582.54" y="37.80">p</text><text x="592.07" y="37.80">q</text><text x="601.59" y="37.80">r</text><text x="611.12" y="37.80">s</text><text x="620.64" y="37.80">t</text></g>
<g font-size="6.2" fill="#333" text-anchor="middle"><text transform="translate(636.30,49.28) scale(0.92,1)">1</text><text transform="translate(636.30,59.94) scale(0.92,1)">2</text><text transform="translate(636.30,70.60) scale(0.92,1)">3</text><text transform="translate(636.30,81.26) scale(0.92,1)">4</text><text transform="translate(636.30,91.92) scale(0.92,1)">5</text><text transform="translate(636.30,102.58) scale(0.92,1)">6</text><text transform="translate(636.30,113.24) scale(0.92,1)">7</text><text transform="translate(636.30,123.90) scale(0.92,1)">8</text><text transform="translate(636.30,134.56) scale(0.92,1)">9</text><text transform="translate(636.30,145.22) scale(0.92,1)">10</text><text transform="translate(636.30,155.88) scale(0.92,1)">11</text><text transform="translate(636.30,166.54) scale(0.92,1)">12</text><text transform="translate(636.30,177.20) scale(0.92,1)">13</text><text transform="translate(636.30,187.86) scale(0.92,1)">14</text><text transform="translate(636.30,198.52) scale(0.92,1)">15</text><text transform="translate(636.30,209.18) scale(0.92,1)">16</text><text transform="translate(636.30,219.84) scale(0.92,1)">17</text><text transform="translate(636.30,230.50) scale(0.92,1)">18</text><text transform="translate(636.30,241.16) scale(0.92,1)">19</text><text transform="translate(636.30,251.82) scale(0.92,1)">20</text></g>
<text x="37.1" y="23.6" font-size="16" fill="#111">Asexual blood stage</text>
<text x="240.4" y="23.9" font-size="16" fill="#111">Stage IV/V gametocytes</text>
<text x="504.2" y="24.0" font-size="16" fill="#111">Liver stage</text>
<text transform="translate(-0.3,13.2) scale(0.93,1)" font-size="24" font-weight="bold">a</text>
<text x="118.6" y="304" font-size="24" font-weight="bold">b</text>
<text x="-0.6" y="532.5" font-size="24" font-weight="bold">c</text>
<defs><linearGradient id="cb" x1="0" y1="1" x2="0" y2="0"><stop offset="0.0091" stop-color="#3288bd"/><stop offset="0.1312" stop-color="#66c2a5"/><stop offset="0.2532" stop-color="#abdda4"/><stop offset="0.3753" stop-color="#e6f598"/><stop offset="0.4974" stop-color="#ffffbf"/><stop offset="0.6195" stop-color="#fee08b"/><stop offset="0.7416" stop-color="#fdae61"/><stop offset="0.8637" stop-color="#f46d43"/><stop offset="0.9858" stop-color="#d53e4f"/></linearGradient></defs>
<rect x="655.6" y="61.2" width="7.3" height="154.4" fill="url(#cb)"/>
<line x1="662.9" x2="665.8" y1="214.20" y2="214.20" stroke="#555" stroke-width="0.7"/>
<text transform="translate(673,216.80) scale(0.8,1)" font-size="8.3" fill="#222">0</text>
<line x1="662.9" x2="665.8" y1="184.04" y2="184.04" stroke="#555" stroke-width="0.7"/>
<text transform="translate(673,186.64) scale(0.8,1)" font-size="8.3" fill="#222">20</text>
<line x1="662.9" x2="665.8" y1="153.88" y2="153.88" stroke="#555" stroke-width="0.7"/>
<text transform="translate(673,156.48) scale(0.8,1)" font-size="8.3" fill="#222">40</text>
<line x1="662.9" x2="665.8" y1="123.72" y2="123.72" stroke="#555" stroke-width="0.7"/>
<text transform="translate(673,126.32) scale(0.8,1)" font-size="8.3" fill="#222">60</text>
<line x1="662.9" x2="665.8" y1="93.56" y2="93.56" stroke="#555" stroke-width="0.7"/>
<text transform="translate(673,96.16) scale(0.8,1)" font-size="8.3" fill="#222">80</text>
<line x1="662.9" x2="665.8" y1="63.40" y2="63.40" stroke="#555" stroke-width="0.7"/>
<text transform="translate(673,66.00) scale(0.8,1)" font-size="8.3" fill="#222">100</text>
<text transform="translate(653.9,127.8) rotate(-90)" font-size="8.9" fill="#222" text-anchor="middle">% Inhibition</text>
<line x1="181.8" y1="295.30" x2="181.8" y2="487.40" stroke="#000" stroke-width="1.5"/>
<line x1="176" x2="181.8" y1="487.40" y2="487.40" stroke="#000" stroke-width="1.5"/>
<text x="174.4" y="490.40" font-size="10.6" fill="#222" text-anchor="end">0</text>
<line x1="176" x2="181.8" y1="449.12" y2="449.12" stroke="#000" stroke-width="1.5"/>
<text x="174.4" y="452.12" font-size="10.6" fill="#222" text-anchor="end">10</text>
<line x1="176" x2="181.8" y1="410.84" y2="410.84" stroke="#000" stroke-width="1.5"/>
<text x="174.4" y="413.84" font-size="10.6" fill="#222" text-anchor="end">20</text>
<line x1="176" x2="181.8" y1="372.56" y2="372.56" stroke="#000" stroke-width="1.5"/>
<text x="174.4" y="375.56" font-size="10.6" fill="#222" text-anchor="end">30</text>
<line x1="176" x2="181.8" y1="334.28" y2="334.28" stroke="#000" stroke-width="1.5"/>
<text x="174.4" y="337.28" font-size="10.6" fill="#222" text-anchor="end">40</text>
<line x1="176" x2="181.8" y1="296.00" y2="296.00" stroke="#000" stroke-width="1.5"/>
<text x="174.4" y="299.00" font-size="10.6" fill="#222" text-anchor="end">50</text>
<line x1="176" x2="468" y1="487.4" y2="487.4" stroke="#000" stroke-width="1.5"/>
<text transform="translate(154,393.3) rotate(-90)" font-size="13.6" font-weight="bold" text-anchor="middle">Counts</text>
<rect x="215.40" y="331.95" width="2.5" height="155.45" fill="#bdbdbd"/>
<rect x="193.50" y="441.46" width="21.9" height="45.94" fill="#fdfd99" stroke="#111" stroke-width="0.9"/>
<rect x="193.50" y="391.70" width="21.9" height="49.76" fill="#fcbc7c" stroke="#111" stroke-width="0.9"/>
<rect x="193.50" y="341.94" width="21.9" height="49.76" fill="#ff6200" stroke="#111" stroke-width="0.9"/>
<rect x="193.50" y="330.45" width="21.9" height="11.48" fill="#dc0000" stroke="#111" stroke-width="0.9"/>
<rect x="239.80" y="381.72" width="2.5" height="105.68" fill="#bdbdbd"/>
<rect x="217.90" y="456.78" width="21.9" height="30.62" fill="#fdfd99" stroke="#111" stroke-width="0.9"/>
<rect x="217.90" y="433.81" width="21.9" height="22.97" fill="#fcbc7c" stroke="#111" stroke-width="0.9"/>
<rect x="217.90" y="407.01" width="21.9" height="26.80" fill="#ff6200" stroke="#111" stroke-width="0.9"/>
<rect x="217.90" y="380.22" width="21.9" height="26.80" fill="#dc0000" stroke="#111" stroke-width="0.9"/>
<rect x="264.20" y="381.72" width="2.5" height="105.68" fill="#bdbdbd"/>
<rect x="242.30" y="445.29" width="21.9" height="42.11" fill="#fdfd99" stroke="#111" stroke-width="0.9"/>
<rect x="242.30" y="403.18" width="21.9" height="42.11" fill="#fcbc7c" stroke="#111" stroke-width="0.9"/>
<rect x="242.30" y="384.04" width="21.9" height="19.14" fill="#ff6200" stroke="#111" stroke-width="0.9"/>
<rect x="242.30" y="380.22" width="21.9" height="3.83" fill="#dc0000" stroke="#111" stroke-width="0.9"/>
<line x1="229.00" x2="229.00" y1="487.4" y2="492.3" stroke="#000" stroke-width="1.5"/>
<path d="M189.80,499.3 V507.3 H268.10 V499.3" fill="none" stroke="#000" stroke-width="1.8"/>
<text x="204.60" y="502.8" font-size="10.3" fill="#222" text-anchor="middle">ABS</text>
<text x="229.00" y="502.8" font-size="10.3" fill="#222" text-anchor="middle">GC</text>
<text x="253.40" y="502.8" font-size="10.3" fill="#222" text-anchor="middle">L</text>
<rect x="310.70" y="389.37" width="2.5" height="98.03" fill="#bdbdbd"/>
<rect x="288.80" y="452.95" width="21.9" height="34.45" fill="#fdfd99" stroke="#111" stroke-width="0.9"/>
<rect x="288.80" y="418.50" width="21.9" height="34.45" fill="#fcbc7c" stroke="#111" stroke-width="0.9"/>
<rect x="288.80" y="387.87" width="21.9" height="30.62" fill="#ff6200" stroke="#111" stroke-width="0.9"/>
<rect x="335.10" y="427.65" width="2.5" height="59.75" fill="#bdbdbd"/>
<rect x="313.20" y="468.26" width="21.9" height="19.14" fill="#fdfd99" stroke="#111" stroke-width="0.9"/>
<rect x="313.20" y="460.60" width="21.9" height="7.66" fill="#fcbc7c" stroke="#111" stroke-width="0.9"/>
<rect x="313.20" y="441.46" width="21.9" height="19.14" fill="#ff6200" stroke="#111" stroke-width="0.9"/>
<rect x="313.20" y="426.15" width="21.9" height="15.31" fill="#dc0000" stroke="#111" stroke-width="0.9"/>
<rect x="359.50" y="442.96" width="2.5" height="44.44" fill="#bdbdbd"/>
<rect x="337.60" y="464.43" width="21.9" height="22.97" fill="#fdfd99" stroke="#111" stroke-width="0.9"/>
<rect x="337.60" y="445.29" width="21.9" height="19.14" fill="#fcbc7c" stroke="#111" stroke-width="0.9"/>
<rect x="337.60" y="441.46" width="21.9" height="3.83" fill="#ff6200" stroke="#111" stroke-width="0.9"/>
<line x1="324.30" x2="324.30" y1="487.4" y2="492.3" stroke="#000" stroke-width="1.5"/>
<path d="M285.10,499.3 V507.3 H363.40 V499.3" fill="none" stroke="#000" stroke-width="1.8"/>
<text x="299.90" y="502.8" font-size="10.3" fill="#222" text-anchor="middle">ABS</text>
<text x="324.30" y="502.8" font-size="10.3" fill="#222" text-anchor="middle">GC</text>
<text x="348.70" y="502.8" font-size="10.3" fill="#222" text-anchor="middle">L</text>
<rect x="406.00" y="469.76" width="2.5" height="17.64" fill="#bdbdbd"/>
<rect x="384.10" y="483.57" width="21.9" height="3.83" fill="#fdfd99" stroke="#111" stroke-width="0.9"/>
<rect x="384.10" y="479.74" width="21.9" height="3.83" fill="#ff6200" stroke="#111" stroke-width="0.9"/>
<rect x="384.10" y="468.26" width="21.9" height="11.48" fill="#dc0000" stroke="#111" stroke-width="0.9"/>
<rect x="430.40" y="462.10" width="2.5" height="25.30" fill="#bdbdbd"/>
<rect x="408.50" y="479.74" width="21.9" height="7.66" fill="#fdfd99" stroke="#111" stroke-width="0.9"/>
<rect x="408.50" y="475.92" width="21.9" height="3.83" fill="#fcbc7c" stroke="#111" stroke-width="0.9"/>
<rect x="408.50" y="472.09" width="21.9" height="3.83" fill="#ff6200" stroke="#111" stroke-width="0.9"/>
<rect x="408.50" y="460.60" width="21.9" height="11.48" fill="#dc0000" stroke="#111" stroke-width="0.9"/>
<rect x="454.80" y="473.59" width="2.5" height="13.81" fill="#bdbdbd"/>
<rect x="432.90" y="475.92" width="21.9" height="11.48" fill="#fdfd99" stroke="#111" stroke-width="0.9"/>
<rect x="432.90" y="472.09" width="21.9" height="3.83" fill="#fcbc7c" stroke="#111" stroke-width="0.9"/>
<line x1="419.60" x2="419.60" y1="487.4" y2="492.3" stroke="#000" stroke-width="1.5"/>
<path d="M380.40,499.3 V507.3 H458.70 V499.3" fill="none" stroke="#000" stroke-width="1.8"/>
<text x="395.20" y="502.8" font-size="10.3" fill="#222" text-anchor="middle">ABS</text>
<text x="419.60" y="502.8" font-size="10.3" fill="#222" text-anchor="middle">GC</text>
<text x="444.00" y="502.8" font-size="10.3" fill="#222" text-anchor="middle">L</text>
<text x="230.10" y="523.8" font-size="12.7" font-weight="bold" letter-spacing="0.65" text-anchor="middle">Antibacterial</text>
<text x="325.40" y="523.8" font-size="12.7" font-weight="bold" letter-spacing="0.65" text-anchor="middle">Antiviral</text>
<text x="420.70" y="523.8" font-size="12.7" font-weight="bold" letter-spacing="0.65" text-anchor="middle">Antifungal</text>
<rect x="346.5" y="300.50" width="21" height="5" rx="1.5" fill="#fdfd99" stroke="#222" stroke-width="0.9"/>
<text x="378.9" y="307.10" font-size="10.35" fill="#222">50 - 62.5%</text>
<rect x="346.5" y="316.70" width="21" height="5" rx="1.5" fill="#fcbc7c" stroke="#222" stroke-width="0.9"/>
<text x="378.9" y="323.30" font-size="10.35" fill="#222">62.6 - 75%</text>
<rect x="346.5" y="332.90" width="21" height="5" rx="1.5" fill="#ff6200" stroke="#222" stroke-width="0.9"/>
<text x="378.9" y="339.50" font-size="10.35" fill="#222">75.1 - 87.5%</text>
<rect x="346.5" y="349.10" width="21" height="5" rx="1.5" fill="#dc0000" stroke="#222" stroke-width="0.9"/>
<text x="378.9" y="355.70" font-size="10.35" fill="#222">87.6 - 100%</text>
<text transform="translate(85.20,574.40) scale(1.15,1)" font-size="10.0" font-weight="normal" fill="#222" text-anchor="end">25</text>
<text transform="translate(85.20,588.40) scale(1.15,1)" font-size="10.0" font-weight="normal" fill="#222" text-anchor="end">24</text>
<text transform="translate(85.20,602.40) scale(1.15,1)" font-size="10.0" font-weight="normal" fill="#222" text-anchor="end">23</text>
<text transform="translate(85.20,616.40) scale(1.15,1)" font-size="10.0" font-weight="normal" fill="#222" text-anchor="end">22</text>
<text transform="translate(85.20,627.42) scale(1.15,1)" font-size="10.0" font-weight="normal" fill="#222" text-anchor="end">16</text>
<text transform="translate(85.20,645.18) scale(1.15,1)" font-size="10.0" font-weight="normal" fill="#222" text-anchor="end">14</text>
<text transform="translate(85.20,662.94) scale(1.15,1)" font-size="10.0" font-weight="normal" fill="#222" text-anchor="end">12</text>
<text transform="translate(85.20,680.70) scale(1.15,1)" font-size="10.0" font-weight="normal" fill="#222" text-anchor="end">10</text>
<text transform="translate(85.20,848.60) scale(1.15,1)" font-size="10.0" font-weight="normal" fill="#222" text-anchor="end">0</text>
<text transform="translate(85.20,830.24) scale(1.15,1)" font-size="10.0" font-weight="normal" fill="#222" text-anchor="end">1</text>
<text transform="translate(85.20,811.88) scale(1.15,1)" font-size="10.0" font-weight="normal" fill="#222" text-anchor="end">2</text>
<text transform="translate(85.20,793.52) scale(1.15,1)" font-size="10.0" font-weight="normal" fill="#222" text-anchor="end">3</text>
<text transform="translate(85.20,775.16) scale(1.15,1)" font-size="10.0" font-weight="normal" fill="#222" text-anchor="end">4</text>
<text transform="translate(85.20,756.80) scale(1.15,1)" font-size="10.0" font-weight="normal" fill="#222" text-anchor="end">5</text>
<text transform="translate(85.20,738.44) scale(1.15,1)" font-size="10.0" font-weight="normal" fill="#222" text-anchor="end">6</text>
<text transform="translate(85.20,720.08) scale(1.15,1)" font-size="10.0" font-weight="normal" fill="#222" text-anchor="end">7</text>
<text transform="translate(85.20,701.72) scale(1.15,1)" font-size="10.0" font-weight="normal" fill="#222" text-anchor="end">8</text>
<path d="M91.3,570.10 V612.80 M87.8,612.80 H93.8 M89.3,619.5 H93.8 M91.3,619.5 V682 M89.3,682 H93.8 M89.3,688.8 H93.8 M91.3,688.8 V845 M87.3,570.80 H91.3 M87.3,584.80 H91.3 M87.3,598.80 H91.3 M87.3,612.80 H91.3 M87.3,623.82 H91.3 M87.3,641.58 H91.3 M87.3,659.34 H91.3 M87.3,677.10 H91.3 M87.3,845.00 H91.3 M87.3,826.64 H91.3 M87.3,808.28 H91.3 M87.3,789.92 H91.3 M87.3,771.56 H91.3 M87.3,753.20 H91.3 M87.3,734.84 H91.3 M87.3,716.48 H91.3 M87.3,698.12 H91.3" fill="none" stroke="#000" stroke-width="1.4"/>
<line x1="87.5" x2="622.8" y1="845" y2="845" stroke="#000" stroke-width="1.5"/>
<text transform="translate(66.6,708.5) scale(1.15,1) rotate(-90)" font-size="11.4" font-weight="bold" text-anchor="middle">Counts</text>
<rect x="103.40" y="826.64" width="3.1" height="18.36" fill="#fff" stroke="#000" stroke-width="0.9"/>
<text transform="translate(105.00,854.6) scale(1.15,1) rotate(-45)" font-size="9.1" font-weight="bold" text-anchor="end">ETC</text>
<rect x="116.97" y="826.64" width="3.1" height="18.36" fill="#000"/>
<text transform="translate(125.97,854.6) scale(1.15,1) rotate(-45)" font-size="9.1" font-weight="bold" text-anchor="end">Capsid protein</text>
<rect x="137.94" y="826.64" width="3.1" height="18.36" fill="#000"/>
<rect x="145.34" y="826.64" width="3.1" height="18.36" fill="#fff" stroke="#000" stroke-width="0.9"/>
<text transform="translate(146.94,854.6) scale(1.15,1) rotate(-45)" font-size="9.1" font-weight="bold" text-anchor="end">DHODH</text>
<rect x="158.91" y="826.64" width="3.1" height="18.36" fill="#000"/>
<text transform="translate(167.91,854.6) scale(1.15,1) rotate(-45)" font-size="9.1" font-weight="bold" text-anchor="end">FAB1</text>
<rect x="179.88" y="826.64" width="3.1" height="18.36" fill="#000"/>
<rect x="182.98" y="826.64" width="3.7" height="18.36" fill="#a3a3a3"/>
<rect x="187.28" y="826.64" width="3.1" height="18.36" fill="#fff" stroke="#000" stroke-width="0.9"/>
<text transform="translate(188.88,854.6) scale(1.15,1) rotate(-45)" font-size="9.1" font-weight="bold" text-anchor="end">GPCR</text>
<rect x="200.85" y="826.64" width="3.1" height="18.36" fill="#000"/>
<rect x="203.95" y="808.28" width="3.7" height="36.72" fill="#a3a3a3"/>
<text transform="translate(209.85,854.6) scale(1.15,1) rotate(-45)" font-size="9.1" font-weight="bold" text-anchor="end">mmpl3</text>
<rect x="221.82" y="826.64" width="3.1" height="18.36" fill="#000"/>
<rect x="229.22" y="808.28" width="3.1" height="36.72" fill="#fff" stroke="#000" stroke-width="0.9"/>
<text transform="translate(230.82,854.6) scale(1.15,1) rotate(-45)" font-size="9.1" font-weight="bold" text-anchor="end">Proton pump</text>
<rect x="242.79" y="826.64" width="3.1" height="18.36" fill="#000"/>
<rect x="250.19" y="789.92" width="3.1" height="55.08" fill="#fff" stroke="#000" stroke-width="0.9"/>
<text transform="translate(251.79,854.6) scale(1.15,1) rotate(-45)" font-size="9.1" font-weight="bold" text-anchor="end">Toposiomerase</text>
<rect x="263.76" y="826.64" width="3.1" height="18.36" fill="#000"/>
<rect x="266.86" y="826.64" width="3.7" height="18.36" fill="#a3a3a3"/>
<rect x="271.16" y="826.64" width="3.1" height="18.36" fill="#fff" stroke="#000" stroke-width="0.9"/>
<text transform="translate(272.76,854.6) scale(1.15,1) rotate(-45)" font-size="9.1" font-weight="bold" text-anchor="end">Phosphatase</text>
<rect x="284.73" y="808.28" width="3.1" height="36.72" fill="#000"/>
<rect x="287.83" y="826.64" width="3.7" height="18.36" fill="#a3a3a3"/>
<text transform="translate(293.73,854.6) scale(1.15,1) rotate(-45)" font-size="9.1" font-weight="bold" text-anchor="end">Antithrombotic</text>
<rect x="305.70" y="808.28" width="3.1" height="36.72" fill="#000"/>
<rect x="308.80" y="826.64" width="3.7" height="18.36" fill="#a3a3a3"/>
<rect x="313.10" y="826.64" width="3.1" height="18.36" fill="#fff" stroke="#000" stroke-width="0.9"/>
<text transform="translate(314.70,854.6) scale(1.15,1) rotate(-45)" font-size="9.1" font-weight="bold" text-anchor="end">Epigenetics</text>
<rect x="326.67" y="808.28" width="3.1" height="36.72" fill="#000"/>
<rect x="329.77" y="826.64" width="3.7" height="18.36" fill="#a3a3a3"/>
<rect x="334.07" y="826.64" width="3.1" height="18.36" fill="#fff" stroke="#000" stroke-width="0.9"/>
<text transform="translate(335.67,854.6) scale(1.15,1) rotate(-45)" font-size="9.1" font-weight="bold" text-anchor="end">FT</text>
<rect x="347.64" y="808.28" width="3.1" height="36.72" fill="#000"/>
<rect x="350.74" y="789.92" width="3.7" height="55.08" fill="#a3a3a3"/>
<rect x="355.04" y="826.64" width="3.1" height="18.36" fill="#fff" stroke="#000" stroke-width="0.9"/>
<text transform="translate(356.64,854.6) scale(1.15,1) rotate(-45)" font-size="9.1" font-weight="bold" text-anchor="end">Ion channels</text>
<rect x="368.61" y="808.28" width="3.1" height="36.72" fill="#000"/>
<rect x="371.71" y="826.64" width="3.7" height="18.36" fill="#a3a3a3"/>
<text transform="translate(377.61,854.6) scale(1.15,1) rotate(-45)" font-size="9.1" font-weight="bold" text-anchor="end">Protease</text>
<rect x="389.58" y="808.28" width="3.1" height="36.72" fill="#000"/>
<rect x="392.68" y="826.64" width="3.7" height="18.36" fill="#a3a3a3"/>
<text transform="translate(398.58,854.6) scale(1.15,1) rotate(-45)" font-size="9.1" font-weight="bold" text-anchor="end">S1P</text>
<rect x="410.55" y="808.28" width="3.1" height="36.72" fill="#000"/>
<rect x="417.95" y="808.28" width="3.1" height="36.72" fill="#fff" stroke="#000" stroke-width="0.9"/>
<text transform="translate(419.55,854.6) scale(1.15,1) rotate(-45)" font-size="9.1" font-weight="bold" text-anchor="end">Signalling</text>
<rect x="431.52" y="789.92" width="3.1" height="55.08" fill="#000"/>
<rect x="438.92" y="734.84" width="3.1" height="110.16" fill="#fff" stroke="#000" stroke-width="0.9"/>
<text transform="translate(440.52,854.6) scale(1.15,1) rotate(-45)" font-size="9.1" font-weight="bold" text-anchor="end">DHFR</text>
<rect x="452.49" y="789.92" width="3.1" height="55.08" fill="#000"/>
<rect x="455.59" y="808.28" width="3.7" height="36.72" fill="#a3a3a3"/>
<rect x="459.89" y="808.28" width="3.1" height="36.72" fill="#fff" stroke="#000" stroke-width="0.9"/>
<text transform="translate(461.49,854.6) scale(1.15,1) rotate(-45)" font-size="9.1" font-weight="bold" text-anchor="end">Ergosterol biosynthesis</text>
<rect x="473.46" y="789.92" width="3.1" height="55.08" fill="#000"/>
<rect x="476.56" y="826.64" width="3.7" height="18.36" fill="#a3a3a3"/>
<text transform="translate(482.46,854.6) scale(1.15,1) rotate(-45)" font-size="9.1" font-weight="bold" text-anchor="end">Redox</text>
<rect x="494.43" y="771.56" width="3.1" height="73.44" fill="#000"/>
<rect x="501.83" y="826.64" width="3.1" height="18.36" fill="#fff" stroke="#000" stroke-width="0.9"/>
<text transform="translate(503.43,854.6) scale(1.15,1) rotate(-45)" font-size="9.1" font-weight="bold" text-anchor="end">CYP450</text>
<rect x="515.40" y="771.56" width="3.1" height="73.44" fill="#000"/>
<rect x="518.50" y="826.64" width="3.7" height="18.36" fill="#a3a3a3"/>
<rect x="522.80" y="771.56" width="3.1" height="73.44" fill="#fff" stroke="#000" stroke-width="0.9"/>
<text transform="translate(524.40,854.6) scale(1.15,1) rotate(-45)" font-size="9.1" font-weight="bold" text-anchor="end">Protein synthesis</text>
<rect x="536.37" y="753.20" width="3.1" height="91.80" fill="#000"/>
<rect x="539.47" y="808.28" width="3.7" height="36.72" fill="#a3a3a3"/>
<rect x="543.77" y="789.92" width="3.1" height="55.08" fill="#fff" stroke="#000" stroke-width="0.9"/>
<text transform="translate(545.37,854.6) scale(1.15,1) rotate(-45)" font-size="9.1" font-weight="bold" text-anchor="end">DNA replication</text>
<rect x="557.34" y="753.20" width="3.1" height="91.80" fill="#000"/>
<rect x="560.44" y="808.28" width="3.7" height="36.72" fill="#a3a3a3"/>
<rect x="564.74" y="808.28" width="3.1" height="36.72" fill="#fff" stroke="#000" stroke-width="0.9"/>
<text transform="translate(566.34,854.6) scale(1.15,1) rotate(-45)" font-size="9.1" font-weight="bold" text-anchor="end">Energy metabolism</text>
<rect x="578.31" y="734.84" width="3.1" height="110.16" fill="#000"/>
<rect x="581.41" y="771.56" width="3.7" height="73.44" fill="#a3a3a3"/>
<rect x="585.71" y="826.64" width="3.1" height="18.36" fill="#fff" stroke="#000" stroke-width="0.9"/>
<text transform="translate(587.31,854.6) scale(1.15,1) rotate(-45)" font-size="9.1" font-weight="bold" text-anchor="end">Kinases</text>
<rect x="599.28" y="688.8" width="3.1" height="156.20" fill="#000"/>
<rect x="599.28" y="659.34" width="3.1" height="22.86" fill="#000"/>
<rect x="602.38" y="688.8" width="3.5" height="156.20" fill="#a3a3a3"/>
<rect x="602.38" y="619.2" width="3.5" height="63.00" fill="#a3a3a3"/>
<rect x="602.38" y="584.80" width="3.5" height="28.80" fill="#a3a3a3"/>
<rect x="606.48" y="698.12" width="3.2" height="146.88" fill="#fff" stroke="#000" stroke-width="0.9"/>
<text transform="translate(608.28,854.6) scale(1.15,1) rotate(-45)" font-size="9.1" font-weight="bold" text-anchor="end">Unknown</text>
<rect x="514" y="603.4" width="16.8" height="7.8" fill="#000"/>
<rect x="514" y="619.2" width="16.8" height="8" fill="#a3a3a3"/>
<rect x="514.5" y="635.8" width="15.8" height="7" fill="#fff" stroke="#222" stroke-width="0.9"/>
<text transform="translate(538.60,609.90) scale(1.15,1)" font-size="10.8" font-weight="normal" fill="#111" text-anchor="start">ABS</text>
<text transform="translate(538.60,627.30) scale(1.15,1)" font-size="10.8" font-weight="normal" fill="#111" text-anchor="start">GC</text>
<text transform="translate(538.60,643.50) scale(1.15,1)" font-size="10.8" font-weight="normal" fill="#111" text-anchor="start">LS</text>
</svg>
</body></html>
